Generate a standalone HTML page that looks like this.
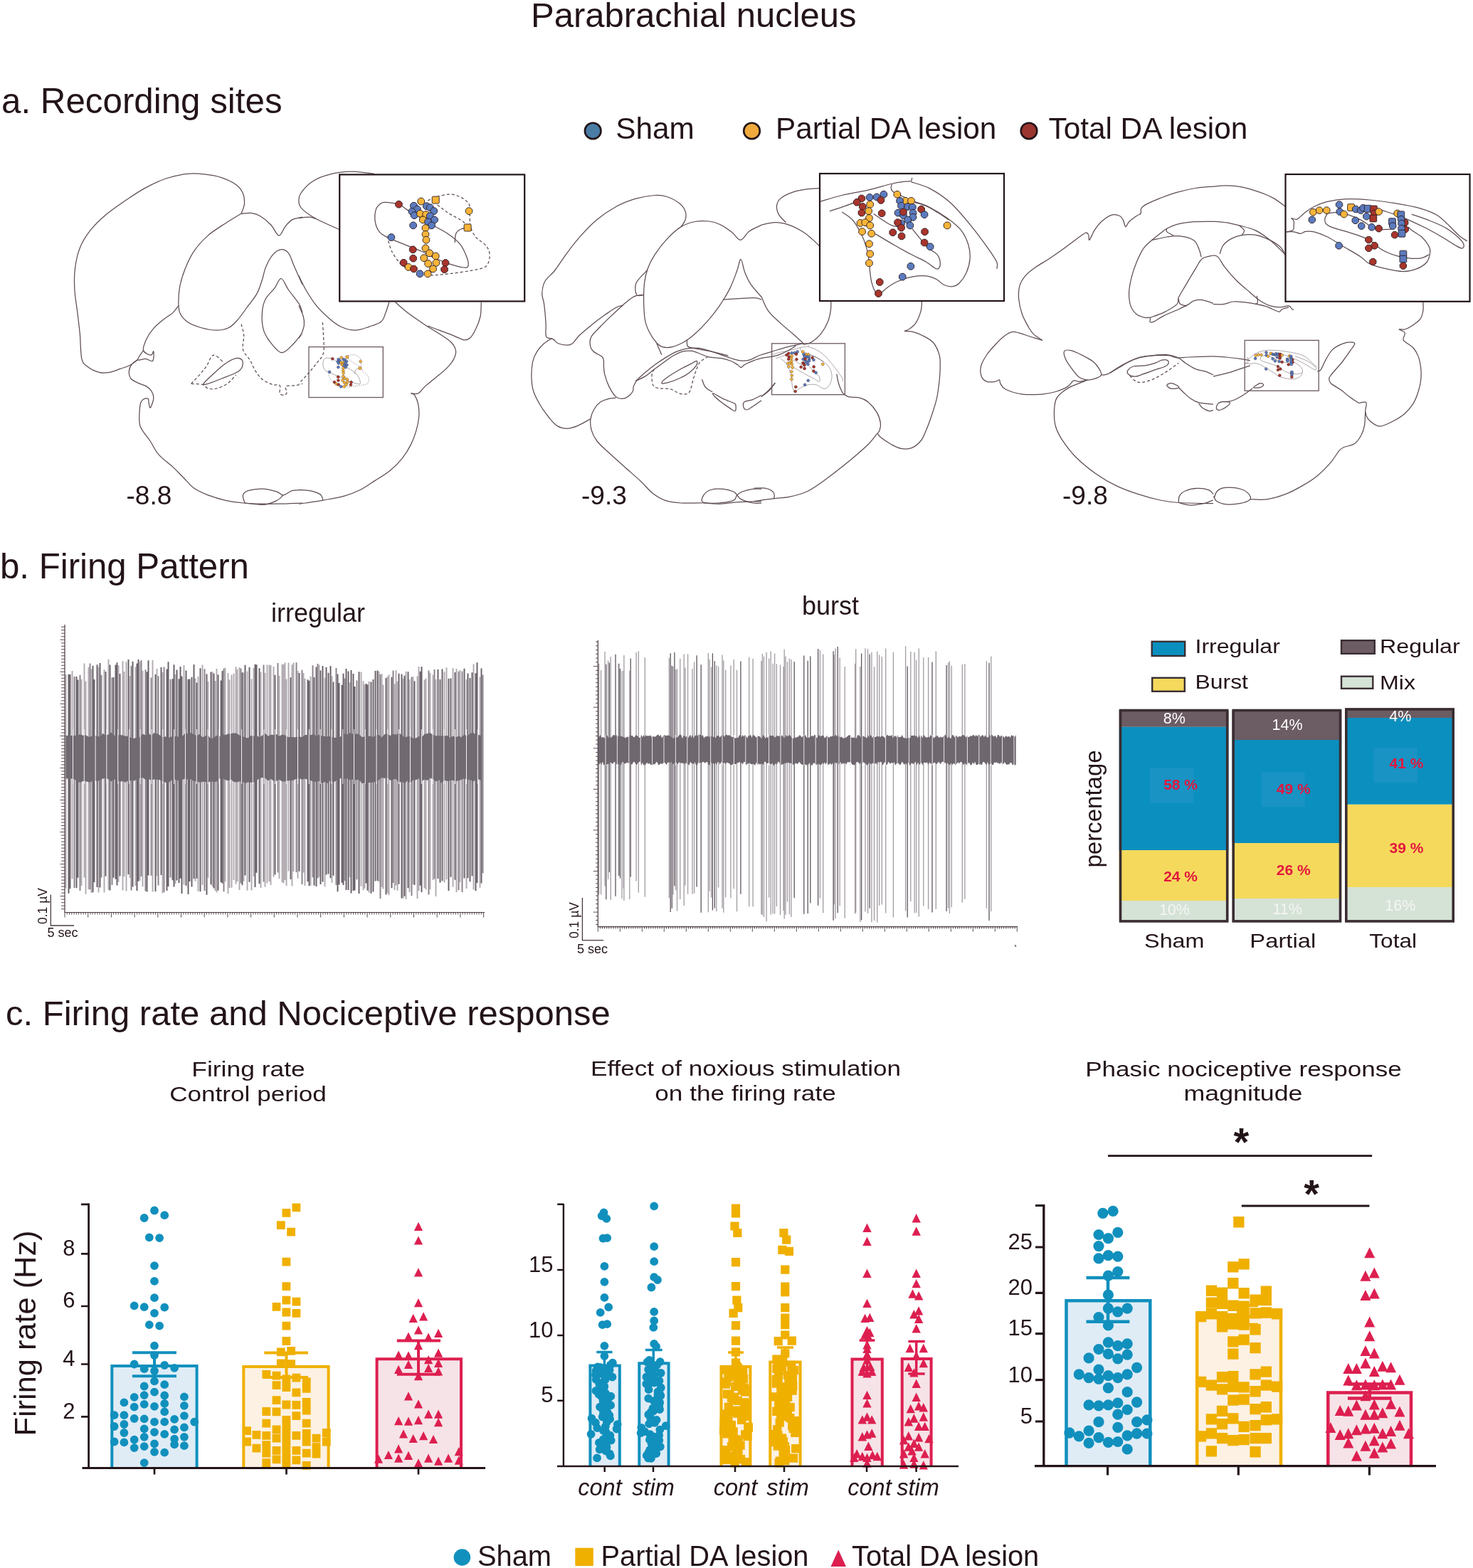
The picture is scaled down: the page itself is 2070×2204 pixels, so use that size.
<!DOCTYPE html>
<html><head><meta charset="utf-8"><title>Parabrachial nucleus</title>
<style>html,body{margin:0;padding:0;background:#fff;} svg{display:block;}</style></head>
<body><svg width="2070" height="2204" viewBox="0 0 2070 2204" font-family="'Liberation Sans', Arial, sans-serif">
<rect width="2070" height="2204" fill="#fff"/>
<text x="746.0" y="38.0" font-size="49" fill="#231418">Parabrachial nucleus</text>
<text x="2.0" y="159.0" font-size="49.3" fill="#231418">a. Recording sites</text>
<circle cx="833.2" cy="184" r="11.3" fill="#4a7ca6" stroke="#231418" stroke-width="2.6"/>
<text x="865.3" y="195.0" font-size="42.3" fill="#231418">Sham</text>
<circle cx="1056.5" cy="184" r="11.3" fill="#efaa3d" stroke="#231418" stroke-width="2.6"/>
<text x="1090.0" y="195.0" font-size="42.3" fill="#231418">Partial DA lesion</text>
<circle cx="1446" cy="184" r="11.3" fill="#9c3530" stroke="#231418" stroke-width="2.6"/>
<text x="1473.5" y="195.0" font-size="42.3" fill="#231418">Total DA lesion</text>
<text x="177.5" y="709.0" font-size="37" fill="#231418">-8.8</text>
<text x="817.0" y="709.0" font-size="37" fill="#231418">-9.3</text>
<text x="1493.0" y="709.0" font-size="37" fill="#231418">-9.8</text>
<path d="M193.6,505.6C191.7,506.9 186.6,511.4 182.5,513.5C178.4,515.6 173.7,516.8 168.9,518.4C164.2,520.1 159.1,522.5 154.1,523.3C149.2,524.2 144.7,524.8 139.4,523.3C134.0,521.9 126.2,518.0 122.1,514.7C118.0,511.4 116.4,511.2 114.7,503.6C113.1,496.0 113.3,480.2 112.3,469.1C111.2,458.0 109.8,447.4 108.6,437.1C107.3,426.8 105.4,417.4 104.9,407.5C104.3,397.7 104.1,387.8 105.4,377.9C106.6,368.1 108.6,357.4 112.3,348.4C115.9,339.3 120.9,331.5 127.0,323.7C133.2,315.9 141.0,308.5 149.2,301.5C157.4,294.6 167.3,288.0 176.3,281.8C185.4,275.7 194.0,269.7 203.4,264.6C212.9,259.4 223.2,254.4 233.0,251.0C242.9,247.7 253.6,245.4 262.6,244.4C271.6,243.3 279.0,244.0 287.2,244.9C295.4,245.8 304.5,247.3 311.9,249.8C319.3,252.3 326.7,255.9 331.6,259.6C336.5,263.3 339.5,267.4 341.5,272.0C343.4,276.5 343.8,282.0 343.4,286.8C343.0,291.5 339.7,298.1 339.0,300.3" fill="none" stroke="#5e4d52" stroke-width="1.25" stroke-linejoin="round"/>
<path d="M339.0,300.3C341.5,300.2 349.3,299.0 353.8,299.6C358.3,300.2 361.6,301.2 366.1,304.0C370.6,306.8 376.6,311.8 380.9,316.3C385.2,320.8 388.7,330.7 392.0,331.1C395.3,331.5 397.5,322.5 400.6,318.8C403.7,315.1 406.4,311.2 410.5,308.9C414.5,306.7 422.6,305.9 425.0,305.2" fill="none" stroke="#5e4d52" stroke-width="1.25" stroke-linejoin="round"/>
<path d="M339.0,300.3C335.3,302.6 324.6,308.7 316.8,313.9C309.0,319.0 299.6,324.5 292.2,331.1C284.8,337.7 277.8,345.5 272.4,353.3C267.1,361.1 263.4,369.7 260.1,377.9C256.8,386.2 254.3,394.8 252.7,402.6C251.2,410.4 250.8,418.6 250.8,424.8C250.8,430.9 250.8,435.0 252.7,439.6C254.7,444.1 257.7,448.4 262.6,451.9C267.5,455.4 275.3,458.4 282.3,460.5C289.3,462.6 297.9,464.2 304.5,464.2C311.1,464.2 316.8,463.0 321.7,460.5C326.7,458.0 329.5,454.5 334.1,449.4C338.6,444.3 344.3,435.9 348.8,429.7C353.4,423.5 357.9,418.6 361.2,412.4C364.5,406.3 366.5,398.9 368.6,392.7C370.6,386.6 371.0,381.2 373.5,375.5C376.0,369.7 379.9,362.3 383.3,358.2C386.8,354.1 390.7,351.2 394.4,350.8C398.1,350.4 402.4,352.1 405.5,355.8C408.6,359.5 409.7,365.6 412.9,373.0C416.2,380.4 423.0,395.6 425.0,400.1" fill="none" stroke="#5e4d52" stroke-width="1.25" stroke-linejoin="round"/>
<path d="M250.8,429.7C249.4,431.3 246.4,436.3 242.9,439.6C239.3,442.8 233.8,445.7 229.3,449.4C224.8,453.1 219.7,457.2 215.8,461.7C211.9,466.3 208.3,471.4 205.9,476.5C203.5,481.7 200.4,488.8 201.5,492.5C202.5,496.3 209.7,499.0 212.1,499.2C214.4,499.4 215.4,492.4 215.8,493.8C216.2,495.1 216.4,505.6 214.5,507.3C212.7,509.1 208.2,504.7 204.7,504.4C201.2,504.1 194.1,507.6 193.6,505.6C193.0,503.6 200.2,494.7 201.5,492.5" fill="none" stroke="#5e4d52" stroke-width="1.25" stroke-linejoin="round"/>
<path d="M193.6,505.6C192.1,506.7 187.0,509.5 185.0,512.3C182.9,515.0 181.5,518.8 181.3,522.1C181.1,525.4 181.7,529.3 183.7,532.0C185.8,534.6 189.9,536.3 193.6,538.1C197.3,540.0 202.6,541.0 205.9,543.1C209.2,545.1 211.7,547.6 213.3,550.5C214.9,553.3 216.1,556.5 215.8,560.3C215.4,564.1 212.4,572.1 211.3,573.1C210.2,574.2 209.6,568.5 209.1,566.5C208.6,564.4 209.3,561.8 208.4,560.8C207.4,559.8 205.2,559.6 203.4,560.3C201.7,561.1 199.2,562.0 198.0,565.2C196.8,568.5 196.2,574.3 196.0,580.0C195.9,585.8 194.8,593.2 197.3,599.7C199.7,606.3 206.5,612.9 210.8,619.5C215.1,626.0 217.8,633.0 223.2,639.2C228.5,645.3 237.1,651.1 242.9,656.4C248.6,661.8 252.7,666.3 257.7,671.2C262.6,676.1 266.7,681.9 272.4,686.0C278.2,690.1 284.8,693.0 292.2,695.9C299.6,698.7 308.6,701.4 316.8,703.3C325.0,705.1 333.2,706.1 341.5,707.0C349.7,707.8 357.9,708.0 366.1,708.2C374.3,708.4 380.9,708.4 390.7,708.2C400.6,708.0 419.3,707.2 425.0,707.0" fill="none" stroke="#5e4d52" stroke-width="1.25" stroke-linejoin="round"/>
<path d="M425.0,439.6C424.2,437.5 423.6,432.6 420.3,427.2C417.1,421.9 409.7,413.5 405.5,407.5C401.3,401.6 398.5,391.9 395.2,391.5C391.9,391.1 389.4,400.3 385.8,405.1C382.2,409.8 376.4,414.5 373.5,419.8C370.6,425.2 369.2,430.1 368.6,437.1C367.9,444.1 368.1,454.8 369.8,461.7C371.4,468.7 374.1,473.3 378.4,479.0C382.7,484.7 389.9,495.1 395.7,495.7C401.4,496.4 408.2,487.1 412.9,482.7C417.6,478.2 422.2,471.4 424.0,469.1" fill="none" stroke="#5e4d52" stroke-width="1.25" stroke-linejoin="round"/>
<path d="M339.0,455.6C339.6,458.2 342.3,465.6 342.7,471.6C343.1,477.5 340.0,485.6 341.5,491.3C342.9,497.1 348.4,501.2 351.3,506.1C354.2,511.0 355.8,516.4 358.7,520.9C361.6,525.4 364.5,529.9 368.6,533.2C372.7,536.5 379.2,539.2 383.3,540.6C387.5,542.0 391.6,539.8 393.2,541.8C394.8,543.9 392.2,550.7 393.2,552.9C394.2,555.2 397.7,555.6 399.4,555.4C401.0,555.2 402.7,553.7 403.1,551.7C403.5,549.6 399.8,544.7 401.8,543.1C403.9,541.4 411.5,542.4 415.4,541.8C419.2,541.2 423.4,539.8 425.0,539.4" fill="none" stroke="#5e4d52" stroke-width="1.25" stroke-dasharray="4 3" stroke-linejoin="round"/>
<path d="M286.0,539.4C287.2,537.1 294.4,530.5 299.6,525.8C304.7,521.1 311.5,514.7 316.8,511.0C322.1,507.3 327.7,504.5 331.6,503.6C335.5,502.8 338.8,504.0 340.2,506.1C341.7,508.1 341.5,513.1 340.2,516.0C339.0,518.8 337.5,520.7 332.8,523.3C328.1,526.0 318.7,529.3 311.9,532.0C305.1,534.6 296.5,538.1 292.2,539.4C287.8,540.6 284.8,541.6 286.0,539.4Z" fill="none" stroke="#5e4d52" stroke-width="1.25" stroke-linejoin="round"/>
<path d="M268.7,539.4C271.0,536.9 278.6,528.9 282.3,524.6C286.0,520.3 288.5,517.4 290.9,513.5C293.4,509.6 295.0,503.4 297.1,501.2C299.1,498.9 300.6,498.7 303.3,499.9C305.9,501.2 311.5,507.1 313.1,508.6" fill="none" stroke="#5e4d52" stroke-width="1.25" stroke-dasharray="4 3" stroke-linejoin="round"/>
<path d="M268.7,539.4C271.4,539.6 280.9,539.5 284.8,540.6C288.7,541.7 288.9,545.1 292.2,546.0C295.4,546.9 300.0,547.1 304.5,546.0C309.0,544.9 314.8,542.5 319.3,539.4C323.8,536.2 329.5,529.1 331.6,527.0" fill="none" stroke="#5e4d52" stroke-width="1.25" stroke-dasharray="4 3" stroke-linejoin="round"/>
<path d="M343.9,707.0C343.5,705.1 340.6,698.7 341.5,695.9C342.3,693.0 344.3,691.1 348.8,689.7C353.4,688.3 362.0,687.0 368.6,687.2C375.1,687.4 383.3,689.5 388.3,690.9C393.2,692.4 394.4,696.1 398.1,695.9C401.8,695.7 406.0,690.9 410.5,689.7C414.9,688.5 422.6,688.7 425.0,688.5" fill="none" stroke="#5e4d52" stroke-width="1.25" stroke-linejoin="round"/>
<path d="M398.1,695.9C396.7,697.1 394.0,701.0 389.5,703.3C385.0,705.5 378.6,708.8 371.0,709.4C363.4,710.0 348.4,707.4 343.9,707.0" fill="none" stroke="#5e4d52" stroke-width="1.25" stroke-linejoin="round"/>
<path d="M526.0,244.4C520.6,243.8 504.2,241.1 493.9,241.2C483.7,241.2 473.4,242.6 464.4,244.9C455.3,247.1 446.7,250.2 439.7,254.7C432.7,259.2 425.8,267.0 422.5,272.0C419.2,276.9 419.6,280.6 420.0,284.3C420.4,288.0 420.8,290.2 424.9,294.1C429.0,298.1 436.0,303.0 444.6,307.7C453.3,312.4 471.3,320.0 476.7,322.5" fill="none" stroke="#5e4d52" stroke-width="1.25" stroke-linejoin="round"/>
<path d="M420.0,306.5C422.5,306.3 430.7,305.0 434.8,305.2C438.9,305.4 443.0,307.3 444.6,307.7" fill="none" stroke="#5e4d52" stroke-width="1.25" stroke-linejoin="round"/>
<path d="M420.0,387.8C421.6,391.1 425.8,400.5 429.9,407.5C434.0,414.5 439.3,423.1 444.6,429.7C450.0,436.3 456.1,442.0 461.9,446.9C467.6,451.9 473.0,456.4 479.1,459.3C485.3,462.1 492.3,464.2 498.9,464.2C505.4,464.2 512.4,461.3 518.6,459.3C524.7,457.2 531.9,455.2 535.8,451.9C539.7,448.6 540.1,444.1 542.0,439.6C543.8,435.0 546.1,427.2 546.9,424.8" fill="none" stroke="#5e4d52" stroke-width="1.25" stroke-linejoin="round"/>
<path d="M420.0,429.7C421.0,432.2 424.9,440.0 426.2,444.5C427.4,449.0 427.8,452.7 427.4,456.8C427.0,460.9 424.9,466.0 423.7,469.1C422.5,472.2 420.6,474.3 420.0,475.3" fill="none" stroke="#5e4d52" stroke-width="1.25" stroke-linejoin="round"/>
<path d="M453.3,453.1C453.5,456.2 454.3,464.4 454.5,471.6C454.7,478.8 456.1,489.7 454.5,496.2C452.9,502.8 448.3,506.1 444.6,511.0C440.9,516.0 436.4,521.1 432.3,525.8C428.2,530.5 422.1,537.1 420.0,539.4" fill="none" stroke="#5e4d52" stroke-width="1.25" stroke-dasharray="4 3" stroke-linejoin="round"/>
<path d="M555.5,424.8C558.4,427.2 565.8,434.2 572.8,439.6C579.8,444.9 590.1,451.9 597.4,456.8C604.8,461.7 611.0,465.0 617.2,469.1C623.3,473.2 630.5,477.3 634.4,481.5C638.3,485.6 640.2,489.7 640.6,493.8C641.0,497.9 639.1,502.0 636.9,506.1C634.6,510.2 631.1,514.3 627.0,518.4C622.9,522.5 617.2,526.6 612.2,530.7C607.3,534.8 601.6,539.4 597.4,543.1C593.3,546.8 590.9,551.3 587.6,552.9C584.3,554.6 578.6,552.5 577.7,552.9C576.9,553.3 581.0,552.9 582.7,555.4C584.3,557.9 586.6,562.8 587.6,567.7C588.6,572.6 589.2,578.8 588.8,585.0C588.4,591.1 587.0,598.1 585.1,604.7C583.3,611.2 581.0,617.8 577.7,624.4C574.4,631.0 570.3,637.9 565.4,644.1C560.5,650.3 554.7,656.0 548.2,661.4C541.6,666.7 533.0,671.6 526.0,676.1C519.0,680.7 513.2,685.0 506.3,688.5C499.3,692.0 492.9,694.6 484.1,697.1C475.2,699.6 462.3,701.6 453.3,703.3C444.2,704.9 435.4,706.1 429.9,707.0C424.3,707.8 421.6,708.0 420.0,708.2" fill="none" stroke="#5e4d52" stroke-width="1.25" stroke-linejoin="round"/>
<path d="M601.1,458.0C603.8,459.1 611.2,461.9 617.2,464.2C623.1,466.5 631.1,469.3 636.9,471.6C642.6,473.9 647.8,477.1 651.7,477.8C655.6,478.4 657.4,478.0 660.3,475.3C663.2,472.6 666.5,466.9 668.9,461.7C671.4,456.6 673.8,450.6 675.1,444.5C676.3,438.3 676.1,428.1 676.3,424.8" fill="none" stroke="#5e4d52" stroke-width="1.25" stroke-linejoin="round"/>
<path d="M420.0,688.5C422.5,688.7 429.9,688.7 434.8,689.7C439.7,690.7 446.5,692.8 449.6,694.6C452.7,696.5 452.7,699.4 453.3,700.8C453.9,702.2 453.3,702.8 453.3,703.3" fill="none" stroke="#5e4d52" stroke-width="1.25" stroke-linejoin="round"/>
<rect x="477.2" y="245.4" width="260" height="178.1" fill="#fff" stroke="#231418" stroke-width="2.2"/>
<g id="ins1"><path d="M543.2,284.3C546.1,284.8 555.5,285.6 560.5,287.5C565.4,289.3 567.5,292.1 572.8,295.4C578.1,298.6 585.9,303.1 592.5,307.0C599.1,310.9 606.1,315.2 612.2,318.8C618.4,322.4 623.7,324.5 629.5,328.7C635.2,332.8 642.2,337.7 646.7,343.4C651.3,349.2 654.7,358.0 656.6,363.2C658.4,368.3 658.6,372.1 657.8,374.2C657.0,376.4 655.6,376.4 651.7,376.0C647.8,375.6 641.0,373.9 634.4,371.8C627.8,369.6 619.2,366.2 612.2,363.2C605.2,360.1 599.9,356.6 592.5,353.3C585.1,350.0 575.9,346.7 567.9,343.4C559.9,340.2 550.2,336.5 544.5,333.6C538.7,330.7 536.2,329.9 533.4,326.2C530.5,322.5 528.0,316.7 527.2,311.4C526.4,306.1 527.0,298.5 528.4,294.1C529.9,289.8 533.4,287.2 535.8,285.5C538.3,283.9 542.0,284.5 543.2,284.3" fill="none" stroke="#5e4d52" stroke-width="1.25" stroke-linejoin="round"/><path d="M639.3,341.0C639.5,338.9 639.3,331.7 640.6,328.7C641.8,325.6 644.1,323.9 646.7,322.5C649.4,321.1 655.0,320.4 656.6,320.0" fill="none" stroke="#5e4d52" stroke-width="1.25" stroke-linejoin="round"/><path d="M601.1,281.8C603.8,280.8 611.6,277.1 617.2,275.7C622.7,274.2 629.1,272.8 634.4,273.2C639.8,273.6 645.1,275.9 649.2,278.1C653.3,280.4 657.2,283.7 659.1,286.8C660.9,289.8 660.1,292.9 660.3,296.6C660.5,300.3 660.1,305.0 660.3,308.9C660.5,312.8 660.1,315.9 661.5,320.0C663.0,324.1 665.6,329.7 668.9,333.6C672.2,337.5 678.2,340.2 681.2,343.4C684.3,346.7 686.4,349.6 687.4,353.3C688.4,357.0 688.4,361.9 687.4,365.6C686.4,369.3 685.6,373.0 681.2,375.5C676.9,377.9 668.9,379.0 661.5,380.4C654.1,381.8 645.1,383.1 636.9,384.1C628.7,385.1 618.0,386.2 612.2,386.6C606.5,387.0 604.0,386.6 602.4,386.6" fill="none" stroke="#5e4d52" stroke-width="1.25" stroke-dasharray="4 3" stroke-linejoin="round"/><path d="M614.7,288.0C617.2,289.8 624.1,295.6 629.5,299.1C634.8,302.6 642.2,306.1 646.7,308.9C651.3,311.8 655.0,315.1 656.6,316.3" fill="none" stroke="#5e4d52" stroke-width="1.25" stroke-dasharray="4 3" stroke-linejoin="round"/><path d="M545.7,338.5C546.5,341.0 548.2,348.4 550.6,353.3C553.1,358.2 557.2,364.2 560.5,368.1C563.8,372.0 568.7,375.3 570.3,376.7" fill="none" stroke="#5e4d52" stroke-width="1.25" stroke-dasharray="4 3" stroke-linejoin="round"/><polygon points="565.2,289.2 562.4,292.0 558.5,292.0 555.7,289.2 555.7,285.3 558.5,282.5 562.4,282.5 565.2,285.3" fill="#a8352c" stroke="#2a1c20" stroke-width="0.9"/><polygon points="596.5,285.0 593.7,287.8 589.8,287.8 587.0,285.0 587.0,281.1 589.8,278.3 593.7,278.3 596.5,281.1" fill="#f7b43a" stroke="#2a1c20" stroke-width="0.9"/><rect x="607.2" y="276.1" width="10.0" height="10.0" rx="1.5" fill="#f7b43a" stroke="#2a1c20" stroke-width="0.9"/><polygon points="586.2,291.2 583.4,294.0 579.5,294.0 576.7,291.2 576.7,287.2 579.5,284.5 583.4,284.5 586.2,287.2" fill="#5b7bbf" stroke="#2a1c20" stroke-width="0.9"/><polygon points="591.1,296.1 588.3,298.9 584.4,298.9 581.6,296.1 581.6,292.2 584.4,289.4 588.3,289.4 591.1,292.2" fill="#5b7bbf" stroke="#2a1c20" stroke-width="0.9"/><polygon points="583.7,299.3 580.9,302.1 577.0,302.1 574.2,299.3 574.2,295.4 577.0,292.6 580.9,292.6 583.7,295.4" fill="#5b7bbf" stroke="#2a1c20" stroke-width="0.9"/><polygon points="586.9,304.7 584.1,307.5 580.2,307.5 577.4,304.7 577.4,300.8 580.2,298.0 584.1,298.0 586.9,300.8" fill="#5b7bbf" stroke="#2a1c20" stroke-width="0.9"/><polygon points="604.2,291.7 601.4,294.5 597.4,294.5 594.7,291.7 594.7,287.7 597.4,285.0 601.4,285.0 604.2,287.7" fill="#5b7bbf" stroke="#2a1c20" stroke-width="0.9"/><polygon points="609.1,293.7 606.3,296.4 602.4,296.4 599.6,293.7 599.6,289.7 602.4,286.9 606.3,286.9 609.1,289.7" fill="#5b7bbf" stroke="#2a1c20" stroke-width="0.9"/><polygon points="614.5,298.6 611.7,301.4 607.8,301.4 605.0,298.6 605.0,294.6 607.8,291.9 611.7,291.9 614.5,294.6" fill="#5b7bbf" stroke="#2a1c20" stroke-width="0.9"/><polygon points="595.3,302.3 592.5,305.1 588.6,305.1 585.8,302.3 585.8,298.3 588.6,295.6 592.5,295.6 595.3,298.3" fill="#f7b43a" stroke="#2a1c20" stroke-width="0.9"/><polygon points="603.4,303.5 600.6,306.3 596.7,306.3 593.9,303.5 593.9,299.6 596.7,296.8 600.6,296.8 603.4,299.6" fill="#f7b43a" stroke="#2a1c20" stroke-width="0.9"/><polygon points="609.1,305.5 606.3,308.3 602.4,308.3 599.6,305.5 599.6,301.5 602.4,298.8 606.3,298.8 609.1,301.5" fill="#5b7bbf" stroke="#2a1c20" stroke-width="0.9"/><polygon points="615.3,310.9 612.5,313.7 608.5,313.7 605.7,310.9 605.7,307.0 608.5,304.2 612.5,304.2 615.3,307.0" fill="#5b7bbf" stroke="#2a1c20" stroke-width="0.9"/><polygon points="599.0,310.9 596.2,313.7 592.3,313.7 589.5,310.9 589.5,307.0 592.3,304.2 596.2,304.2 599.0,307.0" fill="#f7b43a" stroke="#2a1c20" stroke-width="0.9"/><polygon points="606.4,313.9 603.6,316.7 599.7,316.7 596.9,313.9 596.9,309.9 599.7,307.1 603.6,307.1 606.4,309.9" fill="#5b7bbf" stroke="#2a1c20" stroke-width="0.9"/><polygon points="611.3,318.8 608.5,321.6 604.6,321.6 601.8,318.8 601.8,314.9 604.6,312.1 608.5,312.1 611.3,314.9" fill="#5b7bbf" stroke="#2a1c20" stroke-width="0.9"/><polygon points="585.4,318.8 582.7,321.6 578.7,321.6 575.9,318.8 575.9,314.9 578.7,312.1 582.7,312.1 585.4,314.9" fill="#5b7bbf" stroke="#2a1c20" stroke-width="0.9"/><polygon points="602.7,322.5 599.9,325.3 596.0,325.3 593.2,322.5 593.2,318.5 596.0,315.8 599.9,315.8 602.7,318.5" fill="#f7b43a" stroke="#2a1c20" stroke-width="0.9"/><polygon points="663.8,298.6 661.0,301.4 657.1,301.4 654.3,298.6 654.3,294.6 657.1,291.9 661.0,291.9 663.8,294.6" fill="#f7b43a" stroke="#2a1c20" stroke-width="0.9"/><rect x="652.1" y="315.0" width="10.0" height="10.0" rx="1.5" fill="#f7b43a" stroke="#2a1c20" stroke-width="0.9"/><polygon points="554.6,335.6 551.9,338.3 547.9,338.3 545.1,335.6 545.1,331.6 547.9,328.8 551.9,328.8 554.6,331.6" fill="#5b7bbf" stroke="#2a1c20" stroke-width="0.9"/><polygon points="602.7,331.4 599.9,334.1 596.0,334.1 593.2,331.4 593.2,327.4 596.0,324.6 599.9,324.6 602.7,327.4" fill="#f7b43a" stroke="#2a1c20" stroke-width="0.9"/><polygon points="603.7,339.2 600.9,342.0 597.0,342.0 594.2,339.2 594.2,335.3 597.0,332.5 600.9,332.5 603.7,335.3" fill="#f7b43a" stroke="#2a1c20" stroke-width="0.9"/><polygon points="602.7,350.8 599.9,353.6 596.0,353.6 593.2,350.8 593.2,346.9 596.0,344.1 599.9,344.1 602.7,346.9" fill="#f7b43a" stroke="#2a1c20" stroke-width="0.9"/><polygon points="585.0,352.8 582.2,355.6 578.2,355.6 575.4,352.8 575.4,348.9 578.2,346.1 582.2,346.1 585.0,348.9" fill="#a8352c" stroke="#2a1c20" stroke-width="0.9"/><polygon points="608.4,357.7 605.6,360.5 601.6,360.5 598.8,357.7 598.8,353.8 601.6,351.0 605.6,351.0 608.4,353.8" fill="#f7b43a" stroke="#2a1c20" stroke-width="0.9"/><polygon points="617.0,361.9 614.2,364.7 610.3,364.7 607.5,361.9 607.5,358.0 610.3,355.2 614.2,355.2 617.0,358.0" fill="#f7b43a" stroke="#2a1c20" stroke-width="0.9"/><polygon points="600.5,364.6 597.7,367.4 593.7,367.4 591.0,364.6 591.0,360.7 593.7,357.9 597.7,357.9 600.5,360.7" fill="#f7b43a" stroke="#2a1c20" stroke-width="0.9"/><polygon points="585.4,365.1 582.7,367.9 578.7,367.9 575.9,365.1 575.9,361.2 578.7,358.4 582.7,358.4 585.4,361.2" fill="#a8352c" stroke="#2a1c20" stroke-width="0.9"/><polygon points="606.4,372.5 603.6,375.3 599.7,375.3 596.9,372.5 596.9,368.6 599.7,365.8 603.6,365.8 606.4,368.6" fill="#f7b43a" stroke="#2a1c20" stroke-width="0.9"/><polygon points="617.7,371.3 614.9,374.1 611.0,374.1 608.2,371.3 608.2,367.3 611.0,364.6 614.9,364.6 617.7,367.3" fill="#f7b43a" stroke="#2a1c20" stroke-width="0.9"/><polygon points="571.9,371.3 569.1,374.1 565.2,374.1 562.4,371.3 562.4,367.3 565.2,364.6 569.1,364.6 571.9,367.3" fill="#a8352c" stroke="#2a1c20" stroke-width="0.9"/><polygon points="578.8,377.4 576.0,380.2 572.1,380.2 569.3,377.4 569.3,373.5 572.1,370.7 576.0,370.7 578.8,373.5" fill="#f7b43a" stroke="#2a1c20" stroke-width="0.9"/><polygon points="586.2,379.9 583.4,382.7 579.5,382.7 576.7,379.9 576.7,376.0 579.5,373.2 583.4,373.2 586.2,376.0" fill="#a8352c" stroke="#2a1c20" stroke-width="0.9"/><polygon points="613.3,379.9 610.5,382.7 606.6,382.7 603.8,379.9 603.8,376.0 606.6,373.2 610.5,373.2 613.3,376.0" fill="#f7b43a" stroke="#2a1c20" stroke-width="0.9"/><polygon points="630.8,371.5 628.0,374.3 624.1,374.3 621.3,371.5 621.3,367.6 624.1,364.8 628.0,364.8 630.8,367.6" fill="#a8352c" stroke="#2a1c20" stroke-width="0.9"/><polygon points="629.3,380.7 626.5,383.4 622.6,383.4 619.8,380.7 619.8,376.7 622.6,373.9 626.5,373.9 629.3,376.7" fill="#a8352c" stroke="#2a1c20" stroke-width="0.9"/><polygon points="594.8,386.8 592.0,389.6 588.1,389.6 585.3,386.8 585.3,382.9 588.1,380.1 592.0,380.1 594.8,382.9" fill="#5b7bbf" stroke="#2a1c20" stroke-width="0.9"/><polygon points="605.9,386.8 603.1,389.6 599.2,389.6 596.4,386.8 596.4,382.9 599.2,380.1 603.1,380.1 605.9,382.9" fill="#f7b43a" stroke="#2a1c20" stroke-width="0.9"/></g>
<rect x="434" y="487.6" width="104.3" height="71" fill="none" stroke="#6b5a5f" stroke-width="1.3"/>
<use href="#ins1" transform="translate(243.1,389.4) scale(0.4)"/>
<path d="M875.5,429.3C873.9,429.8 869.8,430.1 865.7,432.2C861.6,434.4 856.7,438.0 850.9,442.1C845.2,446.2 837.3,451.9 831.2,456.9C825.0,461.8 818.4,467.4 813.9,471.7C809.5,476.0 807.4,480.5 804.6,482.8C801.7,485.0 800.1,485.2 796.7,485.2C793.3,485.2 787.6,484.2 784.4,482.8C781.1,481.3 779.8,478.2 777.0,476.6C774.2,475.0 769.2,476.6 767.6,472.9C766.0,469.2 767.6,462.0 767.1,454.4C766.6,446.8 765.5,434.3 764.6,427.3C763.7,420.3 761.5,417.9 761.7,412.5C761.9,407.2 762.9,400.6 765.9,395.3C768.8,389.9 774.3,387.0 779.4,380.5C784.6,373.9 790.5,364.0 796.7,355.8C802.8,347.6 809.4,339.0 816.4,331.2C823.4,323.4 830.4,315.8 838.6,309.0C846.8,302.2 856.7,295.5 865.7,290.5C874.7,285.6 883.8,282.1 892.8,279.4C901.8,276.8 912.5,275.0 919.9,274.5C927.3,274.0 931.4,274.6 937.2,276.5C942.9,278.3 950.1,282.2 954.4,285.6C958.7,289.0 961.6,292.8 963.0,296.7C964.5,300.6 964.1,305.3 963.0,309.0C962.0,312.7 957.9,317.2 956.9,318.9" fill="none" stroke="#5e4d52" stroke-width="1.25" stroke-linejoin="round"/>
<path d="M1070.0,316.4C1067.2,317.8 1057.9,321.5 1053.0,325.0C1048.1,328.5 1044.8,337.1 1040.7,337.3C1036.6,337.6 1033.3,330.0 1028.3,326.3C1023.4,322.6 1016.4,317.7 1011.1,315.2C1005.8,312.6 1002.1,311.6 996.3,311.0C990.6,310.4 983.2,310.2 976.6,311.5C970.0,312.8 963.4,314.8 956.9,318.9C950.3,323.0 943.3,329.5 937.2,336.1C931.0,342.7 924.4,351.3 919.9,358.3C915.4,365.3 912.4,371.4 910.1,378.0C907.7,384.6 906.5,390.3 905.6,397.7C904.7,405.1 904.5,413.7 904.6,422.4C904.8,431.0 905.0,442.1 906.4,449.5C907.7,456.9 909.8,461.4 912.5,466.7C915.2,472.1 919.3,478.0 922.4,481.5C925.5,485.0 927.3,486.7 931.0,487.7C934.7,488.7 939.4,488.9 944.6,487.7C949.7,486.5 956.5,483.4 961.8,480.3C967.1,477.2 971.3,473.9 976.6,469.2C981.9,464.5 988.1,458.5 993.8,451.9C999.6,445.4 1005.8,437.6 1011.1,429.8C1016.4,422.0 1021.8,413.3 1025.9,405.1C1030.0,396.9 1033.2,387.3 1035.7,380.5C1038.3,373.7 1039.3,364.0 1041.2,364.5C1043.0,364.9 1044.4,377.0 1046.8,382.9C1049.2,388.9 1051.6,394.4 1055.5,400.2C1059.3,405.9 1067.6,414.6 1070.0,417.4" fill="none" stroke="#5e4d52" stroke-width="1.25" stroke-linejoin="round"/>
<path d="M910.1,379.2C907.4,382.3 896.6,391.9 894.0,397.7C891.5,403.6 893.0,411.7 894.8,414.5C896.5,417.3 903.0,414.5 904.6,414.5" fill="none" stroke="#5e4d52" stroke-width="1.25" stroke-linejoin="round"/>
<path d="M904.6,414.5C902.7,414.8 896.4,414.9 892.8,416.2C889.2,417.5 886.0,420.1 882.9,422.4C879.9,424.6 878.4,426.1 874.3,429.8C870.2,433.5 863.4,439.6 858.3,444.6C853.2,449.5 848.0,454.6 843.5,459.3C839.0,464.1 833.6,468.8 831.2,472.9C828.8,477.0 828.8,480.5 829.2,484.0C829.6,487.5 830.9,491.0 833.7,493.8C836.4,496.7 843.5,499.0 846.0,501.2C848.4,503.5 848.0,505.3 848.4,507.4C848.8,509.5 848.2,510.5 848.4,513.6C848.6,516.6 848.4,521.0 849.7,525.9C850.9,530.8 853.2,537.8 855.8,543.1C858.5,548.5 862.6,555.0 865.7,557.9C868.8,560.8 871.6,560.4 874.3,560.4C877.0,560.4 879.2,559.6 881.7,557.9C884.2,556.3 887.7,553.0 889.1,550.5C890.5,548.1 889.5,545.6 890.3,543.1C891.2,540.7 893.4,537.0 894.0,535.7" fill="none" stroke="#5e4d52" stroke-width="1.25" stroke-linejoin="round"/>
<path d="M922.9,482.8C924.0,485.4 928.6,496.1 929.8,498.8" fill="none" stroke="#5e4d52" stroke-width="1.25" stroke-linejoin="round"/>
<path d="M775.7,475.4C773.9,476.6 768.1,479.7 764.6,482.8C761.2,485.8 757.5,489.5 754.8,493.8C752.1,498.2 749.9,502.5 748.6,508.6C747.3,514.8 746.7,523.8 746.9,530.8C747.1,537.8 747.7,544.0 749.9,550.5C752.0,557.1 756.0,564.1 759.7,570.2C763.4,576.4 768.1,582.8 772.0,587.5C775.9,592.2 779.0,596.1 783.1,598.6C787.2,601.1 792.0,602.3 796.7,602.3C801.4,602.3 805.9,600.8 811.5,598.6C817.0,596.3 826.9,590.4 830.0,588.7" fill="none" stroke="#5e4d52" stroke-width="1.25" stroke-linejoin="round"/>
<path d="M865.7,559.2C864.0,559.4 859.5,559.4 855.8,560.4C852.1,561.4 847.0,562.9 843.5,565.3C840.0,567.8 837.1,571.3 834.9,575.2C832.6,579.1 830.6,583.8 830.0,588.7C829.3,593.7 829.7,599.6 831.2,604.7C832.6,609.9 834.9,614.6 838.6,619.5C842.3,624.5 846.8,628.2 853.4,634.3C859.9,640.5 870.2,649.5 878.0,656.5C885.8,663.5 893.6,670.1 900.2,676.2C906.8,682.4 911.7,689.0 917.4,693.5C923.2,698.0 928.1,701.1 934.7,703.3C941.3,705.6 948.3,706.4 956.9,707.0C965.5,707.6 977.4,706.8 986.5,707.0C995.5,707.2 1002.9,708.5 1011.1,708.3C1019.3,708.1 1025.9,706.4 1035.7,705.8C1045.6,705.2 1064.3,704.8 1070.0,704.6" fill="none" stroke="#5e4d52" stroke-width="1.25" stroke-linejoin="round"/>
<path d="M1035.7,695.9C1034.9,695.1 1034.1,692.4 1030.8,691.0C1027.5,689.6 1021.4,687.7 1016.0,687.3C1010.7,686.9 1003.3,687.1 998.8,688.5C994.3,690.0 990.8,693.1 988.9,695.9C987.1,698.8 984.4,703.9 987.7,705.8C991.0,707.6 1001.4,707.4 1008.6,707.0C1015.8,706.6 1026.3,705.2 1030.8,703.3C1035.3,701.5 1033.7,698.0 1035.7,695.9C1037.8,693.9 1039.4,692.4 1043.1,691.0C1046.8,689.6 1053.4,687.9 1057.9,687.3C1062.4,686.7 1068.0,687.3 1070.0,687.3" fill="none" stroke="#5e4d52" stroke-width="1.25" stroke-linejoin="round"/>
<path d="M1035.7,695.9C1036.8,697.0 1038.2,700.2 1041.9,702.1C1045.6,703.9 1053.2,706.2 1057.9,707.0C1062.6,707.8 1068.0,707.0 1070.0,707.0" fill="none" stroke="#5e4d52" stroke-width="1.25" stroke-linejoin="round"/>
<path d="M965.5,477.8C965.6,479.3 964.8,484.5 966.2,486.5C967.7,488.4 968.7,488.2 974.1,489.4C979.6,490.6 990.6,492.1 998.8,493.8C1007.0,495.6 1019.3,499.0 1023.4,500.0" fill="none" stroke="#5e4d52" stroke-width="1.25" stroke-linejoin="round"/>
<path d="M1016.0,421.1C1019.3,420.9 1028.3,420.3 1035.7,419.9C1043.1,419.5 1054.7,418.5 1060.4,418.7C1066.1,418.9 1068.4,420.7 1070.0,421.1" fill="none" stroke="#5e4d52" stroke-width="1.25" stroke-linejoin="round"/>
<path d="M929.8,538.2C929.8,537.0 932.6,534.1 937.2,530.8C941.7,527.5 951.1,521.8 956.9,518.5C962.6,515.2 968.0,512.9 971.7,511.1C975.4,509.2 977.9,507.0 979.1,507.4C980.2,507.8 980.2,510.9 978.6,513.6C976.9,516.2 973.2,520.3 969.2,523.4C965.2,526.5 959.8,529.6 954.4,532.0C949.1,534.5 941.3,537.2 937.2,538.2C933.1,539.2 929.8,539.4 929.8,538.2Z" fill="none" stroke="#5e4d52" stroke-width="1.25" stroke-linejoin="round"/>
<path d="M995.1,501.2C993.2,502.5 986.7,505.8 984.0,508.6C981.3,511.5 980.7,514.4 979.1,518.5C977.4,522.6 975.8,527.9 974.1,533.3C972.5,538.6 971.3,547.0 969.2,550.5C967.1,554.0 964.7,554.0 961.8,554.2C958.9,554.4 955.2,553.0 951.9,551.8C948.7,550.5 946.6,547.9 942.1,546.8C937.6,545.8 928.9,546.6 924.8,545.6C920.7,544.6 918.9,544.0 917.4,540.7C916.0,537.4 915.8,529.6 916.2,525.9C916.6,522.2 919.3,519.7 919.9,518.5" fill="none" stroke="#5e4d52" stroke-width="1.25" stroke-dasharray="4 3" stroke-linejoin="round"/>
<path d="M986.5,533.3C987.3,535.1 988.9,541.4 991.4,544.4C993.8,547.3 999.6,549.9 1001.2,551.0" fill="none" stroke="#5e4d52" stroke-width="1.25" stroke-linejoin="round"/>
<path d="M1002.5,553.0C1004.5,553.6 1011.3,558.1 1016.0,560.4C1020.7,562.6 1027.9,565.1 1030.8,566.5C1033.8,568.0 1033.4,567.2 1033.8,569.0C1034.2,570.9 1034.6,576.8 1033.3,577.6C1032.0,578.5 1029.2,576.0 1025.9,573.9C1022.6,571.9 1017.3,568.2 1013.6,565.3C1009.9,562.4 1005.6,558.7 1003.7,556.7C1001.9,554.6 1000.4,552.4 1002.5,553.0Z" fill="none" stroke="#5e4d52" stroke-width="1.25" stroke-linejoin="round"/>
<path d="M1070.0,555.5C1068.0,556.5 1062.0,560.0 1057.9,561.6C1053.9,563.3 1047.7,563.3 1045.6,565.3C1043.5,567.4 1044.6,572.3 1045.6,573.9C1046.6,575.6 1047.7,577.0 1051.8,575.2C1055.8,573.3 1067.0,564.9 1070.0,562.9" fill="none" stroke="#5e4d52" stroke-width="1.25" stroke-linejoin="round"/>
<path d="M1069.9,316.2C1073.1,315.6 1083.0,312.7 1089.6,312.7C1096.1,312.7 1102.7,314.1 1109.3,316.4C1115.9,318.7 1123.7,323.0 1129.0,326.3C1134.3,329.5 1137.5,332.8 1141.3,336.1C1145.1,339.4 1150.0,344.3 1151.7,346.0" fill="none" stroke="#5e4d52" stroke-width="1.25" stroke-linejoin="round"/>
<path d="M1151.7,264.6C1148.7,264.9 1140.2,265.0 1133.9,265.9C1127.7,266.8 1120.4,267.9 1114.2,270.1C1108.1,272.2 1100.7,275.7 1097.0,278.9C1093.2,282.1 1092.0,285.5 1091.5,289.3C1091.1,293.1 1092.4,297.7 1094.5,301.6C1096.6,305.5 1102.7,310.9 1104.4,312.7" fill="none" stroke="#5e4d52" stroke-width="1.25" stroke-linejoin="round"/>
<path d="M1069.9,416.7C1071.5,420.1 1075.2,430.9 1079.7,437.2C1084.2,443.4 1091.2,449.1 1097.0,454.4C1102.7,459.8 1109.3,464.9 1114.2,469.2C1119.1,473.5 1123.9,477.8 1126.5,480.3C1129.2,482.8 1127.8,484.0 1130.2,484.0C1132.7,484.0 1137.4,482.8 1141.3,480.3C1145.2,477.8 1150.0,473.9 1153.7,469.2C1157.3,464.5 1161.3,457.3 1163.5,451.9C1165.8,446.6 1166.5,441.9 1167.2,437.2C1167.9,432.4 1167.8,425.9 1167.9,423.6" fill="none" stroke="#5e4d52" stroke-width="1.25" stroke-linejoin="round"/>
<path d="M1069.9,557.9C1071.5,556.5 1076.4,552.6 1079.7,549.3C1083.0,546.0 1087.9,540.1 1089.6,538.2" fill="none" stroke="#5e4d52" stroke-width="1.25" stroke-linejoin="round"/>
<path d="M1175.8,525.9C1176.2,527.9 1177.1,534.1 1178.3,538.2C1179.5,542.3 1181.8,547.8 1183.2,550.5C1184.7,553.3 1185.3,553.5 1186.9,554.7C1188.6,556.0 1189.6,557.2 1193.1,557.9C1196.6,558.7 1203.4,557.9 1207.9,559.2C1212.4,560.4 1216.1,561.8 1220.2,565.3C1224.3,568.8 1229.6,575.2 1232.5,580.1C1235.4,585.0 1236.8,590.8 1237.4,594.9C1238.1,599.0 1237.0,602.3 1236.2,604.7C1235.4,607.2 1235.2,606.4 1232.5,609.7C1229.8,613.0 1225.9,618.7 1220.2,624.5C1214.4,630.2 1205.8,637.6 1198.0,644.2C1190.2,650.8 1180.8,658.1 1173.4,663.9C1166.0,669.6 1160.2,674.2 1153.7,678.7C1147.1,683.2 1141.3,687.7 1133.9,691.0C1126.5,694.3 1117.1,696.8 1109.3,698.4C1101.5,700.0 1095.3,699.8 1087.1,700.9C1078.9,701.9 1064.5,703.9 1060.0,704.6" fill="none" stroke="#5e4d52" stroke-width="1.25" stroke-linejoin="round"/>
<path d="M1295.4,423.6C1295.2,425.9 1295.6,432.0 1294.1,437.2C1292.7,442.3 1289.6,450.1 1286.7,454.4C1283.9,458.7 1279.4,461.2 1276.9,463.0C1274.3,464.9 1270.6,465.0 1271.5,465.5C1272.3,466.0 1277.6,465.2 1281.8,466.2C1286.0,467.3 1291.7,469.1 1296.6,471.7C1301.5,474.2 1307.5,477.0 1311.4,481.5C1315.3,486.0 1318.4,493.0 1320.0,498.8C1321.6,504.5 1321.2,509.9 1321.2,516.0C1321.2,522.2 1320.8,528.3 1320.0,535.7C1319.2,543.1 1318.2,552.2 1316.3,560.4C1314.5,568.6 1311.4,577.6 1308.9,585.0C1306.5,592.4 1304.0,599.0 1301.5,604.7C1299.1,610.5 1297.4,615.4 1294.1,619.5C1290.8,623.6 1286.3,627.5 1281.8,629.4C1277.3,631.2 1271.9,631.4 1267.0,630.6C1262.1,629.8 1257.2,627.1 1252.2,624.5C1247.3,621.8 1240.5,617.1 1237.4,614.6C1234.4,612.1 1234.4,610.5 1233.7,609.7" fill="none" stroke="#5e4d52" stroke-width="1.25" stroke-linejoin="round"/>
<path d="M1060.0,686.1C1062.5,686.1 1070.7,685.5 1074.8,686.1C1078.9,686.7 1082.4,688.1 1084.6,689.8C1086.9,691.4 1087.9,694.1 1088.3,695.9C1088.8,697.8 1087.3,700.0 1087.1,700.9" fill="none" stroke="#5e4d52" stroke-width="1.25" stroke-linejoin="round"/>
<rect x="1152" y="244" width="259" height="179" fill="#fff" stroke="#231418" stroke-width="2.2"/>
<g id="ins2"><path d="M1153.2,283.1C1158.2,281.7 1172.1,277.2 1183.2,274.5C1194.4,271.8 1208.7,269.8 1220.2,267.1C1231.7,264.4 1244.0,260.5 1252.2,258.5C1260.4,256.5 1264.8,255.9 1269.5,255.3C1274.2,254.7 1278.7,254.9 1280.6,254.8" fill="none" stroke="#5e4d52" stroke-width="1.25" stroke-linejoin="round"/><path d="M1280.6,254.8C1280.8,254.0 1281.6,250.7 1281.8,249.9" fill="none" stroke="#5e4d52" stroke-width="1.25" stroke-linejoin="round"/><path d="M1280.6,255.8C1284.9,257.3 1297.2,260.0 1306.5,264.9C1315.7,269.8 1326.2,276.4 1336.0,285.3C1345.9,294.3 1357.0,308.1 1365.6,318.6C1374.2,329.1 1381.9,339.9 1387.8,348.2C1393.7,356.5 1398.7,363.7 1400.8,368.6C1403.0,373.6 1400.8,376.2 1400.8,377.8" fill="none" stroke="#5e4d52" stroke-width="1.25" stroke-linejoin="round"/><path d="M1253.5,259.2C1253.3,260.1 1251.6,262.7 1252.2,264.6C1252.8,266.6 1252.2,267.9 1257.2,270.8C1262.1,273.7 1273.6,278.4 1281.8,281.9C1290.0,285.4 1298.2,287.6 1306.5,291.8C1314.7,295.9 1323.7,301.2 1331.1,306.5C1338.5,311.9 1345.9,317.6 1350.8,323.8C1355.7,330.0 1358.6,336.9 1360.7,343.5C1362.7,350.1 1363.5,356.7 1363.1,363.2C1362.7,369.8 1360.7,377.2 1358.2,382.9C1355.7,388.7 1351.6,394.4 1348.3,397.7C1345.1,401.0 1342.2,402.2 1338.5,402.7C1334.8,403.1 1329.9,401.8 1326.2,400.2C1322.5,398.6 1320.4,394.9 1316.3,392.8C1312.2,390.7 1307.3,388.5 1301.5,387.9C1295.8,387.3 1288.4,387.9 1281.8,389.1C1275.2,390.3 1267.8,392.8 1262.1,395.3C1256.3,397.7 1251.4,401.0 1247.3,403.9C1243.2,406.8 1239.1,411.1 1237.4,412.5" fill="none" stroke="#5e4d52" stroke-width="1.25" stroke-linejoin="round"/><path d="M1183.2,297.9C1185.7,299.8 1193.5,303.9 1198.0,309.0C1202.5,314.1 1207.0,322.2 1210.3,328.7C1213.6,335.3 1215.9,341.9 1217.7,348.4C1219.6,355.0 1220.6,362.4 1221.4,368.2C1222.2,373.9 1222.0,378.0 1222.7,382.9C1223.3,387.9 1223.9,393.2 1225.1,397.7C1226.4,402.2 1228.0,407.4 1230.1,410.1C1232.1,412.7 1236.2,413.1 1237.4,413.7" fill="none" stroke="#5e4d52" stroke-width="1.25" stroke-linejoin="round"/><path d="M1166.0,296.7C1169.7,295.5 1181.2,291.8 1188.2,289.3C1195.1,286.8 1204.6,283.1 1207.9,281.9" fill="none" stroke="#5e4d52" stroke-width="1.25" stroke-linejoin="round"/><path d="M1230.1,328.7C1234.6,331.4 1248.5,339.8 1257.2,344.7C1265.8,349.7 1274.4,354.4 1281.8,358.3C1289.2,362.2 1295.8,364.9 1301.5,368.2C1307.3,371.4 1313.0,377.4 1316.3,378.0C1319.6,378.6 1321.0,375.1 1321.2,371.9C1321.4,368.6 1320.4,362.2 1317.5,358.3C1314.7,354.4 1308.3,352.5 1304.0,348.4C1299.7,344.3 1295.4,338.2 1291.7,333.7C1288.0,329.1 1283.4,323.4 1281.8,321.3" fill="none" stroke="#5e4d52" stroke-width="1.25" stroke-linejoin="round"/><path d="M1227.6,300.4C1229.6,301.8 1235.8,306.3 1239.9,309.0C1244.0,311.7 1248.5,314.8 1252.2,316.4C1255.9,318.0 1260.4,318.5 1262.1,318.9" fill="none" stroke="#5e4d52" stroke-width="1.25" stroke-linejoin="round"/><path d="M1285.5,284.4C1288.2,285.2 1296.0,286.8 1301.5,289.3C1307.1,291.8 1313.4,295.9 1318.8,299.1C1324.1,302.4 1331.1,307.4 1333.6,309.0" fill="none" stroke="#5e4d52" stroke-width="1.6" stroke-linejoin="round"/><polygon points="1215.6,280.9 1212.8,283.7 1208.9,283.7 1206.1,280.9 1206.1,277.0 1208.9,274.2 1212.8,274.2 1215.6,277.0" fill="#a8352c" stroke="#2a1c20" stroke-width="0.9"/><polygon points="1208.9,286.3 1206.1,289.1 1202.2,289.1 1199.4,286.3 1199.4,282.4 1202.2,279.6 1206.1,279.6 1208.9,282.4" fill="#a8352c" stroke="#2a1c20" stroke-width="0.9"/><polygon points="1226.9,279.4 1224.1,282.2 1220.2,282.2 1217.4,279.4 1217.4,275.5 1220.2,272.7 1224.1,272.7 1226.9,275.5" fill="#5b7bbf" stroke="#2a1c20" stroke-width="0.9"/><polygon points="1236.8,278.9 1234.0,281.7 1230.1,281.7 1227.3,278.9 1227.3,275.0 1230.1,272.2 1234.0,272.2 1236.8,275.0" fill="#5b7bbf" stroke="#2a1c20" stroke-width="0.9"/><polygon points="1246.6,275.2 1243.9,278.0 1239.9,278.0 1237.1,275.2 1237.1,271.3 1239.9,268.5 1243.9,268.5 1246.6,271.3" fill="#5b7bbf" stroke="#2a1c20" stroke-width="0.9"/><polygon points="1242.7,283.4 1239.9,286.2 1236.0,286.2 1233.2,283.4 1233.2,279.4 1236.0,276.6 1239.9,276.6 1242.7,279.4" fill="#a8352c" stroke="#2a1c20" stroke-width="0.9"/><polygon points="1217.1,292.5 1214.3,295.3 1210.3,295.3 1207.5,292.5 1207.5,288.6 1210.3,285.8 1214.3,285.8 1217.1,288.6" fill="#a8352c" stroke="#2a1c20" stroke-width="0.9"/><polygon points="1227.4,289.3 1224.6,292.1 1220.7,292.1 1217.9,289.3 1217.9,285.3 1220.7,282.6 1224.6,282.6 1227.4,285.3" fill="#f7b43a" stroke="#2a1c20" stroke-width="0.9"/><polygon points="1215.6,301.1 1212.8,303.9 1208.9,303.9 1206.1,301.1 1206.1,297.2 1208.9,294.4 1212.8,294.4 1215.6,297.2" fill="#a8352c" stroke="#2a1c20" stroke-width="0.9"/><polygon points="1225.4,298.7 1222.7,301.4 1218.7,301.4 1215.9,298.7 1215.9,294.7 1218.7,291.9 1222.7,291.9 1225.4,294.7" fill="#f7b43a" stroke="#2a1c20" stroke-width="0.9"/><polygon points="1243.9,301.9 1241.1,304.6 1237.2,304.6 1234.4,301.9 1234.4,297.9 1237.2,295.1 1241.1,295.1 1243.9,297.9" fill="#a8352c" stroke="#2a1c20" stroke-width="0.9"/><polygon points="1226.2,308.5 1223.4,311.3 1219.5,311.3 1216.7,308.5 1216.7,304.6 1219.5,301.8 1223.4,301.8 1226.2,304.6" fill="#f7b43a" stroke="#2a1c20" stroke-width="0.9"/><polygon points="1213.9,315.4 1211.1,318.2 1207.1,318.2 1204.3,315.4 1204.3,311.5 1207.1,308.7 1211.1,308.7 1213.9,311.5" fill="#f7b43a" stroke="#2a1c20" stroke-width="0.9"/><polygon points="1220.5,314.7 1217.7,317.5 1213.8,317.5 1211.0,314.7 1211.0,310.7 1213.8,307.9 1217.7,307.9 1220.5,310.7" fill="#f7b43a" stroke="#2a1c20" stroke-width="0.9"/><polygon points="1227.4,318.9 1224.6,321.7 1220.7,321.7 1217.9,318.9 1217.9,314.9 1220.7,312.1 1224.6,312.1 1227.4,314.9" fill="#f7b43a" stroke="#2a1c20" stroke-width="0.9"/><polygon points="1216.3,327.5 1213.5,330.3 1209.6,330.3 1206.8,327.5 1206.8,323.5 1209.6,320.8 1213.5,320.8 1216.3,323.5" fill="#f7b43a" stroke="#2a1c20" stroke-width="0.9"/><polygon points="1229.4,330.2 1226.6,333.0 1222.7,333.0 1219.9,330.2 1219.9,326.3 1222.7,323.5 1226.6,323.5 1229.4,326.3" fill="#f7b43a" stroke="#2a1c20" stroke-width="0.9"/><polygon points="1226.2,344.7 1223.4,347.5 1219.5,347.5 1216.7,344.7 1216.7,340.8 1219.5,338.0 1223.4,338.0 1226.2,340.8" fill="#f7b43a" stroke="#2a1c20" stroke-width="0.9"/><polygon points="1227.4,358.8 1224.6,361.6 1220.7,361.6 1217.9,358.8 1217.9,354.8 1220.7,352.1 1224.6,352.1 1227.4,354.8" fill="#f7b43a" stroke="#2a1c20" stroke-width="0.9"/><polygon points="1226.2,371.9 1223.4,374.6 1219.5,374.6 1216.7,371.9 1216.7,367.9 1219.5,365.1 1223.4,365.1 1226.2,367.9" fill="#f7b43a" stroke="#2a1c20" stroke-width="0.9"/><polygon points="1241.0,398.5 1238.2,401.3 1234.2,401.3 1231.5,398.5 1231.5,394.5 1234.2,391.7 1238.2,391.7 1241.0,394.5" fill="#a8352c" stroke="#2a1c20" stroke-width="0.9"/><polygon points="1239.2,414.5 1236.5,417.3 1232.5,417.3 1229.7,414.5 1229.7,410.5 1232.5,407.8 1236.5,407.8 1239.2,410.5" fill="#a8352c" stroke="#2a1c20" stroke-width="0.9"/><polygon points="1273.0,391.1 1270.2,393.9 1266.3,393.9 1263.5,391.1 1263.5,387.1 1266.3,384.3 1270.2,384.3 1273.0,387.1" fill="#5b7bbf" stroke="#2a1c20" stroke-width="0.9"/><polygon points="1284.6,376.3 1281.8,379.1 1277.9,379.1 1275.1,376.3 1275.1,372.3 1277.9,369.6 1281.8,369.6 1284.6,372.3" fill="#5b7bbf" stroke="#2a1c20" stroke-width="0.9"/><polygon points="1265.6,275.2 1262.8,278.0 1258.9,278.0 1256.1,275.2 1256.1,271.3 1258.9,268.5 1262.8,268.5 1265.6,271.3" fill="#f7b43a" stroke="#2a1c20" stroke-width="0.9"/><polygon points="1277.2,284.4 1274.4,287.1 1270.5,287.1 1267.7,284.4 1267.7,280.4 1270.5,277.6 1274.4,277.6 1277.2,280.4" fill="#f7b43a" stroke="#2a1c20" stroke-width="0.9"/><polygon points="1285.3,284.4 1282.5,287.1 1278.6,287.1 1275.8,284.4 1275.8,280.4 1278.6,277.6 1282.5,277.6 1285.3,280.4" fill="#f7b43a" stroke="#2a1c20" stroke-width="0.9"/><polygon points="1269.3,284.4 1266.5,287.1 1262.6,287.1 1259.8,284.4 1259.8,280.4 1262.6,277.6 1266.5,277.6 1269.3,280.4" fill="#5b7bbf" stroke="#2a1c20" stroke-width="0.9"/><polygon points="1271.3,291.3 1268.5,294.0 1264.6,294.0 1261.8,291.3 1261.8,287.3 1264.6,284.5 1268.5,284.5 1271.3,287.3" fill="#5b7bbf" stroke="#2a1c20" stroke-width="0.9"/><polygon points="1280.4,292.5 1277.6,295.3 1273.7,295.3 1270.9,292.5 1270.9,288.6 1273.7,285.8 1277.6,285.8 1280.4,288.6" fill="#5b7bbf" stroke="#2a1c20" stroke-width="0.9"/><polygon points="1287.1,293.2 1284.3,296.0 1280.3,296.0 1277.5,293.2 1277.5,289.3 1280.3,286.5 1284.3,286.5 1287.1,289.3" fill="#5b7bbf" stroke="#2a1c20" stroke-width="0.9"/><polygon points="1266.8,301.1 1264.1,303.9 1260.1,303.9 1257.3,301.1 1257.3,297.2 1260.1,294.4 1264.1,294.4 1266.8,297.2" fill="#5b7bbf" stroke="#2a1c20" stroke-width="0.9"/><polygon points="1274.2,304.8 1271.5,307.6 1267.5,307.6 1264.7,304.8 1264.7,300.9 1267.5,298.1 1271.5,298.1 1274.2,300.9" fill="#5b7bbf" stroke="#2a1c20" stroke-width="0.9"/><polygon points="1274.2,299.9 1271.5,302.7 1267.5,302.7 1264.7,299.9 1264.7,295.9 1267.5,293.2 1271.5,293.2 1274.2,295.9" fill="#a8352c" stroke="#2a1c20" stroke-width="0.9"/><polygon points="1287.8,301.1 1285.0,303.9 1281.1,303.9 1278.3,301.1 1278.3,297.2 1281.1,294.4 1285.0,294.4 1287.8,297.2" fill="#5b7bbf" stroke="#2a1c20" stroke-width="0.9"/><polygon points="1287.8,307.3 1285.0,310.1 1281.1,310.1 1278.3,307.3 1278.3,303.3 1281.1,300.6 1285.0,300.6 1287.8,303.3" fill="#5b7bbf" stroke="#2a1c20" stroke-width="0.9"/><polygon points="1280.4,311.0 1277.6,313.8 1273.7,313.8 1270.9,311.0 1270.9,307.0 1273.7,304.2 1277.6,304.2 1280.4,307.0" fill="#5b7bbf" stroke="#2a1c20" stroke-width="0.9"/><polygon points="1271.3,315.9 1268.5,318.7 1264.6,318.7 1261.8,315.9 1261.8,312.0 1264.6,309.2 1268.5,309.2 1271.3,312.0" fill="#5b7bbf" stroke="#2a1c20" stroke-width="0.9"/><polygon points="1266.4,314.7 1263.6,317.5 1259.6,317.5 1256.8,314.7 1256.8,310.7 1259.6,307.9 1263.6,307.9 1266.4,310.7" fill="#a8352c" stroke="#2a1c20" stroke-width="0.9"/><polygon points="1271.3,322.1 1268.5,324.9 1264.6,324.9 1261.8,322.1 1261.8,318.1 1264.6,315.3 1268.5,315.3 1271.3,318.1" fill="#a8352c" stroke="#2a1c20" stroke-width="0.9"/><polygon points="1283.6,318.9 1280.8,321.7 1276.9,321.7 1274.1,318.9 1274.1,314.9 1276.9,312.1 1280.8,312.1 1283.6,314.9" fill="#5b7bbf" stroke="#2a1c20" stroke-width="0.9"/><polygon points="1259.5,328.7 1256.7,331.5 1252.7,331.5 1249.9,328.7 1249.9,324.8 1252.7,322.0 1256.7,322.0 1259.5,324.8" fill="#a8352c" stroke="#2a1c20" stroke-width="0.9"/><polygon points="1271.8,333.9 1269.0,336.7 1265.0,336.7 1262.3,333.9 1262.3,330.0 1265.0,327.2 1269.0,327.2 1271.8,330.0" fill="#a8352c" stroke="#2a1c20" stroke-width="0.9"/><polygon points="1299.4,296.2 1296.6,299.0 1292.7,299.0 1289.9,296.2 1289.9,292.2 1292.7,289.5 1296.6,289.5 1299.4,292.2" fill="#a8352c" stroke="#2a1c20" stroke-width="0.9"/><polygon points="1303.8,303.6 1301.0,306.4 1297.1,306.4 1294.3,303.6 1294.3,299.6 1297.1,296.9 1301.0,296.9 1303.8,299.6" fill="#5b7bbf" stroke="#2a1c20" stroke-width="0.9"/><polygon points="1335.9,318.9 1333.1,321.7 1329.1,321.7 1326.3,318.9 1326.3,314.9 1329.1,312.1 1333.1,312.1 1335.9,314.9" fill="#f7b43a" stroke="#2a1c20" stroke-width="0.9"/><polygon points="1304.3,327.7 1301.5,330.5 1297.6,330.5 1294.8,327.7 1294.8,323.8 1297.6,321.0 1301.5,321.0 1304.3,323.8" fill="#a8352c" stroke="#2a1c20" stroke-width="0.9"/><polygon points="1303.8,343.0 1301.0,345.8 1297.1,345.8 1294.3,343.0 1294.3,339.1 1297.1,336.3 1301.0,336.3 1303.8,339.1" fill="#a8352c" stroke="#2a1c20" stroke-width="0.9"/><polygon points="1311.9,348.7 1309.2,351.5 1305.2,351.5 1302.4,348.7 1302.4,344.7 1305.2,342.0 1309.2,342.0 1311.9,344.7" fill="#5b7bbf" stroke="#2a1c20" stroke-width="0.9"/></g>
<rect x="1084.6" y="482.8" width="102.8" height="71.9" fill="none" stroke="#6b5a5f" stroke-width="1.3"/>
<use href="#ins2" transform="translate(623.8,385.2) scale(0.4)"/>
<path d="M893.4,535.6C895.6,533.6 902.3,527.4 906.8,523.6C911.2,519.8 915.3,516.4 920.2,512.8C925.1,509.3 931.1,505.3 936.2,502.1C941.4,499.0 946.1,496.2 951.0,494.1C955.9,492.0 960.6,490.6 965.7,489.8C970.8,489.0 976.4,488.8 981.8,489.4C987.1,490.0 992.5,491.9 997.8,493.4C1003.2,495.0 1009.0,497.1 1013.9,498.8C1018.8,500.5 1022.8,502.1 1027.3,503.5C1031.8,504.8 1036.4,506.4 1040.7,506.8C1044.9,507.3 1048.3,507.4 1052.7,506.2C1057.2,504.9 1062.1,501.5 1067.5,499.5C1072.8,497.5 1078.2,496.1 1084.9,494.1C1091.6,492.1 1100.3,489.3 1107.6,487.4C1115.0,485.5 1125.5,483.5 1129.1,482.7" fill="none" stroke="#5e4d52" stroke-width="1.25" stroke-linejoin="round"/>
<path d="M893.4,535.6C895.6,534.5 902.5,531.6 906.8,528.9C911.0,526.2 914.4,522.9 918.8,519.5C923.3,516.2 928.9,512.2 933.6,508.8C938.2,505.5 942.5,502.0 947.0,499.5C951.4,497.0 956.1,494.8 960.3,493.8C964.6,492.8 968.4,492.8 972.4,493.4C976.4,494.0 980.4,496.0 984.4,497.5C988.5,498.9 991.6,500.8 996.5,501.9C1001.4,502.9 1008.8,502.8 1013.9,503.7C1019.0,504.7 1023.5,506.0 1027.3,507.5C1031.1,509.0 1034.3,511.3 1036.7,512.8C1039.0,514.4 1039.8,516.6 1041.4,516.6C1042.9,516.6 1043.9,514.1 1046.0,512.8C1048.2,511.6 1050.5,510.3 1054.1,508.8C1057.6,507.4 1062.3,505.4 1067.5,504.1C1072.6,502.9 1080.4,502.0 1084.9,501.1C1089.3,500.2 1090.5,500.2 1094.2,498.8C1098.0,497.4 1103.6,494.9 1107.6,492.8C1111.7,490.6 1116.6,487.2 1118.4,486.1" fill="none" stroke="#5e4d52" stroke-width="1.25" stroke-linejoin="round"/>
<path d="M1088.9,538.3C1087.6,540.1 1084.0,545.9 1080.9,549.0C1077.7,552.1 1071.9,555.7 1070.1,557.0" fill="none" stroke="#5e4d52" stroke-width="1.25" stroke-linejoin="round"/>
<path d="M1464.8,478.4C1462.9,477.0 1456.2,473.1 1453.0,470.1C1449.9,467.2 1448.7,465.4 1445.9,460.7C1443.2,455.9 1438.8,448.5 1436.5,441.8C1434.1,435.1 1432.3,427.2 1431.7,420.5C1431.1,413.8 1431.3,407.1 1432.9,401.6C1434.5,396.1 1437.5,391.7 1441.2,387.4C1444.9,383.1 1449.9,379.5 1455.4,375.6C1460.9,371.6 1467.2,368.5 1474.3,363.7C1481.4,359.0 1490.8,352.3 1497.9,347.2C1505.0,342.1 1512.1,336.4 1516.8,333.0C1521.6,329.7 1524.1,327.5 1526.3,327.1C1528.5,326.7 1529.1,329.0 1529.8,330.7C1530.6,332.3 1529.6,338.5 1531.0,337.3C1532.4,336.1 1535.4,327.8 1538.1,323.6C1540.9,319.3 1543.6,315.3 1547.6,311.7C1551.5,308.2 1557.4,303.7 1561.8,302.3C1566.1,300.9 1570.8,302.3 1573.6,303.5C1576.3,304.6 1576.9,306.8 1578.3,309.4C1579.7,311.9 1580.5,318.4 1581.9,318.8C1583.2,319.2 1584.0,314.3 1586.6,311.7C1589.1,309.2 1594.5,305.4 1597.2,303.5C1600.0,301.5 1602.0,301.7 1603.1,299.9C1604.2,298.1 1602.5,295.0 1603.8,292.8C1605.2,290.7 1607.0,289.3 1611.4,286.9C1615.8,284.6 1623.2,281.4 1630.3,278.6C1637.4,275.9 1645.7,272.7 1654.0,270.4C1662.2,268.0 1671.5,265.8 1680.0,264.5C1688.5,263.1 1700.8,262.5 1705.0,262.1" fill="none" stroke="#5e4d52" stroke-width="1.25" stroke-linejoin="round"/>
<path d="M1464.8,478.4C1461.7,477.4 1451.4,474.3 1445.9,472.5C1440.4,470.7 1435.7,468.8 1431.7,467.8C1427.8,466.8 1425.4,466.0 1422.3,466.6C1419.1,467.2 1416.4,468.8 1412.8,471.3C1409.3,473.9 1405.3,477.4 1401.0,482.0C1396.7,486.5 1390.6,493.0 1386.8,498.5C1383.1,504.0 1379.8,509.9 1378.5,515.0C1377.3,520.2 1377.9,525.7 1379.3,529.2C1380.6,532.8 1383.6,535.1 1386.8,536.3C1390.1,537.5 1395.7,536.7 1398.6,536.3C1401.6,535.9 1403.4,533.6 1404.6,534.0C1405.7,534.4 1404.4,536.5 1405.7,538.7C1407.1,540.9 1407.7,544.4 1412.8,547.0C1417.9,549.5 1427.8,552.9 1436.5,554.1C1445.1,555.2 1457.0,554.6 1464.8,554.1C1472.7,553.5 1477.8,552.3 1483.7,550.5C1489.7,548.7 1496.2,546.0 1500.3,543.4C1504.4,540.9 1505.8,536.3 1508.6,535.1C1511.3,534.0 1513.5,536.5 1516.8,536.3C1520.2,536.1 1526.7,534.4 1528.7,534.0" fill="none" stroke="#5e4d52" stroke-width="1.25" stroke-linejoin="round"/>
<path d="M1495.6,493.8C1496.7,491.6 1501.1,491.8 1505.0,492.6C1509.0,493.4 1514.1,495.9 1519.2,498.5C1524.3,501.1 1531.6,504.8 1535.8,508.0C1539.9,511.1 1542.1,514.3 1544.0,517.4C1546.0,520.6 1548.2,524.5 1547.6,526.9C1547.0,529.2 1543.6,530.4 1540.5,531.6C1537.3,532.8 1532.6,534.2 1528.7,534.0C1524.7,533.8 1520.4,532.8 1516.8,530.4C1513.3,528.0 1510.5,523.9 1507.4,519.8C1504.2,515.6 1499.9,509.9 1497.9,505.6C1496.0,501.3 1494.4,495.9 1495.6,493.8Z" fill="none" stroke="#5e4d52" stroke-width="1.25" stroke-linejoin="round"/>
<path d="M1547.6,526.9C1548.4,526.9 1550.3,527.3 1552.3,526.9C1554.3,526.5 1558.2,524.9 1559.4,524.5" fill="none" stroke="#5e4d52" stroke-width="1.25" stroke-linejoin="round"/>
<path d="M1528.7,534.0C1526.7,534.7 1521.2,536.9 1516.8,538.7C1512.5,540.5 1507.0,542.2 1502.7,544.6C1498.3,547.0 1494.0,549.9 1490.8,552.9C1487.7,555.8 1485.3,557.6 1483.7,562.3C1482.2,567.1 1481.4,574.9 1481.4,581.2C1481.4,587.5 1481.8,593.8 1483.7,600.2C1485.7,606.5 1488.5,612.0 1493.2,619.1C1497.9,626.2 1504.2,634.8 1512.1,642.7C1520.0,650.6 1531.0,659.6 1540.5,666.3C1549.9,673.0 1559.0,678.2 1568.9,682.9C1578.7,687.6 1589.3,691.4 1599.6,694.7C1609.8,698.1 1620.9,701.0 1630.3,703.0C1639.8,705.0 1643.9,705.7 1656.3,706.5C1668.8,707.3 1696.9,707.5 1705.0,707.7" fill="none" stroke="#5e4d52" stroke-width="1.25" stroke-linejoin="round"/>
<path d="M1656.3,706.5C1656.5,705.0 1655.9,699.8 1657.5,697.1C1659.1,694.3 1661.6,691.8 1665.8,690.0C1669.9,688.2 1676.8,686.6 1682.3,686.4C1687.8,686.2 1695.1,687.4 1698.9,688.8C1702.7,690.2 1704.0,693.7 1705.0,694.7" fill="none" stroke="#5e4d52" stroke-width="1.25" stroke-linejoin="round"/>
<path d="M1656.3,706.5C1659.1,707.1 1667.0,709.9 1672.9,710.1C1678.8,710.3 1686.4,708.9 1691.8,707.7C1697.1,706.5 1702.8,703.8 1705.0,703.0" fill="none" stroke="#5e4d52" stroke-width="1.25" stroke-linejoin="round"/>
<path d="M1559.4,524.5C1561.4,523.3 1566.5,520.2 1571.2,517.4C1575.9,514.7 1582.6,510.5 1587.8,508.0C1592.9,505.4 1596.0,503.4 1602.0,502.0C1607.9,500.7 1616.5,500.1 1623.2,499.7C1629.9,499.3 1637.0,499.2 1642.1,499.7C1647.3,500.2 1649.2,502.4 1654.0,502.8C1658.7,503.1 1662.0,502.4 1670.5,502.0C1679.0,501.7 1699.3,501.1 1705.0,500.9" fill="none" stroke="#5e4d52" stroke-width="1.25" stroke-linejoin="round"/>
<path d="M1559.4,524.5C1562.2,522.7 1570.4,517.0 1575.9,513.9C1581.5,510.7 1586.6,507.8 1592.5,505.6C1598.4,503.4 1603.5,502.0 1611.4,500.9C1619.3,499.7 1632.3,498.1 1639.8,498.5C1647.3,498.9 1652.0,501.3 1656.3,503.2C1660.7,505.2 1661.8,507.8 1665.8,510.3C1669.7,512.9 1675.2,516.6 1680.0,518.6C1684.7,520.6 1690.0,520.8 1694.1,522.1C1698.3,523.5 1703.2,526.1 1705.0,526.9" fill="none" stroke="#5e4d52" stroke-width="1.25" stroke-linejoin="round"/>
<path d="M1585.4,519.8C1586.6,518.0 1588.6,516.0 1592.5,515.0C1596.4,514.1 1603.9,514.7 1609.0,513.9C1614.2,513.1 1619.3,511.6 1623.2,510.3C1627.2,509.0 1629.9,506.8 1632.7,506.1C1635.4,505.4 1638.2,505.4 1639.8,506.1C1641.4,506.8 1642.5,508.8 1642.1,510.3C1641.7,511.8 1640.6,513.5 1637.4,515.0C1634.3,516.6 1628.3,518.0 1623.2,519.8C1618.1,521.5 1611.4,524.1 1606.7,525.7C1602.0,527.3 1598.4,529.2 1594.9,529.2C1591.3,529.2 1587.0,527.3 1585.4,525.7C1583.8,524.1 1584.2,521.5 1585.4,519.8Z" fill="none" stroke="#5e4d52" stroke-width="1.25" stroke-linejoin="round"/>
<path d="M1587.8,528.0C1588.9,529.2 1592.1,533.6 1594.9,535.1C1597.6,536.7 1600.0,537.9 1604.3,537.5C1608.6,537.1 1615.0,535.3 1620.9,532.8C1626.8,530.2 1633.9,525.9 1639.8,522.1C1645.7,518.4 1653.6,512.3 1656.3,510.3" fill="none" stroke="#5e4d52" stroke-width="1.25" stroke-dasharray="4 3" stroke-linejoin="round"/>
<path d="M1639.8,541.1C1640.2,539.9 1644.1,538.3 1646.9,538.7C1649.6,539.1 1655.1,542.2 1656.3,543.4C1657.5,544.6 1655.9,545.4 1654.0,545.8C1652.0,546.2 1646.9,546.6 1644.5,545.8C1642.1,545.0 1639.4,542.2 1639.8,541.1Z" fill="none" stroke="#5e4d52" stroke-width="1.25" stroke-linejoin="round"/>
<path d="M1656.3,544.6C1657.5,545.8 1660.7,549.1 1663.4,551.7C1666.2,554.3 1669.3,557.6 1672.9,560.0C1676.4,562.3 1679.3,564.5 1684.7,565.9C1690.1,567.3 1701.6,567.8 1705.0,568.2" fill="none" stroke="#5e4d52" stroke-width="1.25" stroke-linejoin="round"/>
<path d="M1684.7,567.1C1685.5,568.0 1687.1,571.2 1689.4,573.0C1691.8,574.7 1696.3,577.1 1698.9,577.7C1701.5,578.3 1704.0,576.7 1705.0,576.5" fill="none" stroke="#5e4d52" stroke-width="1.25" stroke-linejoin="round"/>
<path d="M1618.5,337.7C1622.0,337.0 1633.1,334.0 1639.8,333.0C1646.5,332.0 1652.4,331.0 1658.7,331.8C1665.0,332.6 1673.3,334.8 1677.6,337.7C1681.9,340.7 1682.9,345.6 1684.7,349.6C1686.5,353.5 1687.6,359.4 1688.2,361.4" fill="none" stroke="#5e4d52" stroke-width="1.25" stroke-linejoin="round"/>
<path d="M1618.5,337.7C1616.5,339.7 1610.2,344.4 1606.7,349.6C1603.1,354.7 1600.0,361.8 1597.2,368.5C1594.5,375.2 1591.9,382.7 1590.1,389.8C1588.4,396.8 1586.8,404.3 1586.6,411.0C1586.4,417.7 1587.2,424.8 1588.9,429.9C1590.7,435.1 1593.9,439.0 1597.2,441.8C1600.6,444.5 1605.9,445.7 1609.0,446.5C1612.2,447.3 1615.0,445.5 1616.1,446.5C1617.3,447.5 1615.3,451.4 1616.1,452.4C1616.9,453.4 1617.7,453.8 1620.9,452.4C1624.0,451.0 1629.1,447.1 1635.0,444.1C1641.0,441.2 1650.4,437.4 1656.3,434.7C1662.2,431.9 1667.0,429.5 1670.5,427.6C1674.1,425.6 1674.4,423.8 1677.6,422.8C1680.8,421.9 1684.9,421.1 1689.4,421.7C1694.0,422.3 1702.4,425.6 1705.0,426.4" fill="none" stroke="#5e4d52" stroke-width="1.25" stroke-linejoin="round"/>
<path d="M1656.3,420.5C1656.7,421.7 1656.7,426.0 1658.7,427.6C1660.7,429.2 1666.6,429.5 1668.1,429.9" fill="none" stroke="#5e4d52" stroke-width="1.25" stroke-linejoin="round"/>
<path d="M1616.1,446.5C1619.3,445.3 1628.7,442.5 1635.0,439.4C1641.4,436.2 1650.4,431.1 1654.0,427.6C1657.5,424.0 1654.4,422.5 1656.3,418.1C1658.3,413.8 1661.8,408.3 1665.8,401.6C1669.7,394.9 1676.0,384.2 1680.0,377.9C1683.9,371.6 1685.2,366.9 1689.4,363.7C1693.6,360.6 1702.4,359.8 1705.0,359.0" fill="none" stroke="#5e4d52" stroke-width="1.25" stroke-linejoin="round"/>
<path d="M1639.8,321.2C1639.8,322.0 1638.2,324.3 1639.8,325.9C1641.4,327.6 1647.7,330.3 1649.2,331.1" fill="none" stroke="#5e4d52" stroke-width="1.25" stroke-linejoin="round"/>
<path d="M1618.5,337.7C1620.5,336.2 1626.8,331.0 1630.3,328.3C1633.9,325.5 1635.8,323.4 1639.8,321.2C1643.7,319.0 1647.7,316.9 1654.0,315.3C1660.3,313.7 1669.1,312.4 1677.6,311.7C1686.1,311.1 1700.5,311.3 1705.0,311.3" fill="none" stroke="#5e4d52" stroke-width="1.25" stroke-linejoin="round"/>
<path d="M1705.0,262.1C1708.1,261.9 1716.6,260.7 1723.6,260.9C1730.7,261.1 1739.4,261.7 1747.3,263.3C1755.2,264.9 1763.8,267.8 1770.9,270.4C1778.0,272.9 1783.9,275.3 1789.8,278.6C1795.7,282.0 1803.6,288.5 1806.4,290.5" fill="none" stroke="#5e4d52" stroke-width="1.25" stroke-linejoin="round"/>
<path d="M1705.0,311.3C1708.1,311.5 1717.6,312.0 1723.6,312.9C1729.7,313.9 1734.7,315.2 1741.4,316.9C1748.1,318.7 1756.5,320.1 1763.8,323.6C1771.1,327.0 1778.0,332.0 1785.1,337.7C1792.2,343.5 1802.8,354.5 1806.4,357.8" fill="none" stroke="#5e4d52" stroke-width="1.25" stroke-linejoin="round"/>
<path d="M1741.4,316.9C1742.6,318.1 1747.9,321.7 1748.5,324.0C1749.1,326.3 1745.5,329.5 1744.9,330.7" fill="none" stroke="#5e4d52" stroke-width="1.25" stroke-linejoin="round"/>
<path d="M1705.0,359.0C1706.1,359.4 1709.1,358.6 1711.8,361.4C1714.5,364.1 1716.9,370.1 1721.3,375.6C1725.6,381.1 1731.9,388.6 1737.8,394.5C1743.7,400.4 1751.2,406.3 1756.7,411.0C1762.3,415.8 1766.2,419.7 1770.9,422.8C1775.7,426.0 1780.4,428.4 1785.1,429.9C1789.8,431.4 1795.0,431.8 1799.3,431.8C1803.6,431.8 1808.4,429.5 1811.1,429.9C1813.9,430.4 1814.7,433.8 1815.8,434.7C1817.0,435.5 1817.8,435.1 1818.2,435.1" fill="none" stroke="#5e4d52" stroke-width="1.25" stroke-linejoin="round"/>
<path d="M1714.2,356.7C1715.0,354.7 1716.2,348.4 1718.9,344.8C1721.7,341.3 1726.4,337.7 1730.7,335.4C1735.1,333.0 1739.4,331.5 1744.9,330.7C1750.4,329.8 1757.5,329.2 1763.8,330.2C1770.1,331.2 1776.8,333.7 1782.7,336.6C1788.7,339.4 1795.4,343.5 1799.3,347.2C1803.2,350.9 1805.2,357.0 1806.4,359.0" fill="none" stroke="#5e4d52" stroke-width="1.25" stroke-linejoin="round"/>
<path d="M1705.0,427.6C1707.3,427.6 1714.2,428.2 1718.9,427.6C1723.6,427.0 1728.4,424.5 1733.1,424.0C1737.8,423.6 1741.8,424.1 1747.3,424.7C1752.8,425.3 1760.7,426.5 1766.2,427.6C1771.7,428.6 1775.3,429.3 1780.4,431.1C1785.5,432.9 1793.4,437.6 1796.9,438.2C1800.5,438.8 1799.3,435.7 1801.7,434.7C1804.0,433.6 1809.5,432.3 1811.1,431.8" fill="none" stroke="#5e4d52" stroke-width="1.25" stroke-linejoin="round"/>
<path d="M1766.2,415.8C1766.4,417.3 1767.8,423.2 1767.4,425.2C1767.0,427.2 1764.4,427.2 1763.8,427.6" fill="none" stroke="#5e4d52" stroke-width="1.25" stroke-linejoin="round"/>
<path d="M1999.8,424.0C1999.8,426.2 2000.5,432.9 1999.8,437.0C1999.1,441.2 1998.2,445.3 1995.5,448.9C1992.8,452.4 1987.2,455.9 1983.7,458.3C1980.1,460.7 1977.2,462.2 1974.2,463.0C1971.3,463.8 1966.0,462.2 1966.0,463.0C1966.0,463.8 1973.2,465.4 1974.2,467.8C1975.2,470.1 1971.5,474.9 1971.9,477.2C1972.3,479.6 1974.2,480.0 1976.6,482.0C1979.0,483.9 1983.3,485.9 1986.1,489.0C1988.8,492.2 1991.4,496.1 1993.1,500.9C1994.9,505.6 1996.1,511.9 1996.7,517.4C1997.3,522.9 1997.3,528.4 1996.7,534.0C1996.1,539.5 1994.9,545.0 1993.1,550.5C1991.4,556.0 1989.2,561.9 1986.1,567.1C1982.9,572.2 1978.6,577.3 1974.2,581.2C1969.9,585.2 1965.6,587.7 1960.0,590.7C1954.5,593.7 1945.9,598.0 1941.1,599.0C1936.4,600.0 1934.8,598.4 1931.7,596.6C1928.5,594.8 1924.4,591.3 1922.2,588.3C1920.1,585.4 1919.1,582.6 1918.7,578.9C1918.3,575.1 1921.4,567.9 1919.9,565.9C1918.3,563.8 1911.0,566.5 1909.2,566.6" fill="none" stroke="#5e4d52" stroke-width="1.25" stroke-linejoin="round"/>
<path d="M1909.2,566.6C1907.1,565.1 1900.4,560.7 1896.2,557.6C1892.1,554.5 1888.7,551.3 1884.4,548.1C1880.1,545.0 1873.0,541.4 1870.2,538.7C1867.5,535.9 1867.5,534.0 1867.8,531.6C1868.2,529.2 1869.4,528.4 1872.6,524.5C1875.7,520.6 1882.4,513.5 1886.8,508.0C1891.1,502.4 1895.7,495.5 1898.6,491.4C1901.4,487.3 1903.8,484.9 1903.8,483.1C1903.8,481.4 1901.4,480.8 1898.6,480.8C1895.7,480.8 1891.1,481.4 1886.8,483.1C1882.4,484.9 1876.5,487.7 1872.6,491.4C1868.6,495.1 1865.9,500.9 1863.1,505.6C1860.4,510.3 1858.0,517.0 1856.0,519.8C1854.1,522.5 1852.1,521.7 1851.3,522.1" fill="none" stroke="#5e4d52" stroke-width="1.25" stroke-linejoin="round"/>
<path d="M1918.7,578.9C1918.5,582.0 1918.5,592.3 1917.5,597.8C1916.5,603.3 1915.1,607.6 1912.8,612.0C1910.4,616.3 1907.2,621.0 1903.3,623.8C1899.4,626.6 1892.7,626.9 1889.1,628.5C1885.6,630.1 1885.2,629.7 1882.0,633.3C1878.9,636.8 1875.3,643.9 1870.2,649.8C1865.1,655.7 1858.0,663.2 1851.3,668.7C1844.6,674.2 1837.5,678.6 1830.0,682.9C1822.5,687.2 1814.7,691.6 1806.4,694.7C1798.1,697.9 1788.7,700.6 1780.4,701.8C1772.1,703.0 1760.7,701.8 1756.7,701.8" fill="none" stroke="#5e4d52" stroke-width="1.25" stroke-linejoin="round"/>
<path d="M1705.0,500.9C1708.1,501.1 1717.4,501.5 1723.6,502.0C1729.9,502.6 1737.0,503.6 1742.6,504.4C1748.1,505.2 1754.4,506.4 1756.7,506.8" fill="none" stroke="#5e4d52" stroke-width="1.25" stroke-linejoin="round"/>
<path d="M1705.0,529.2C1706.5,528.8 1710.3,527.9 1714.2,526.9C1718.1,525.9 1723.6,524.7 1728.4,523.3C1733.1,521.9 1737.8,520.2 1742.6,518.6C1747.3,517.0 1754.4,514.7 1756.7,513.9" fill="none" stroke="#5e4d52" stroke-width="1.25" stroke-linejoin="round"/>
<path d="M1760.3,545.8C1758.1,547.4 1752.2,552.3 1747.3,555.2C1742.4,558.2 1735.5,561.9 1730.7,563.5C1726.0,565.1 1720.9,564.5 1718.9,564.7" fill="none" stroke="#5e4d52" stroke-width="1.25" stroke-linejoin="round"/>
<path d="M1709.5,574.1C1709.1,572.6 1710.2,568.6 1711.8,567.1C1713.4,565.5 1716.2,564.9 1718.9,564.7C1721.7,564.5 1727.6,564.7 1728.4,565.9C1729.2,567.1 1726.0,570.0 1723.6,571.8C1721.3,573.6 1716.5,576.1 1714.2,576.5C1711.8,576.9 1709.9,575.7 1709.5,574.1Z" fill="none" stroke="#5e4d52" stroke-width="1.25" stroke-linejoin="round"/>
<path d="M1761.5,544.6C1761.5,543.6 1768.6,539.3 1770.9,538.7C1773.3,538.1 1775.7,540.1 1775.7,541.1C1775.7,542.0 1773.3,544.0 1770.9,544.6C1768.6,545.2 1761.5,545.6 1761.5,544.6Z" fill="none" stroke="#5e4d52" stroke-width="1.25" stroke-linejoin="round"/>
<path d="M1707.1,697.1C1707.9,694.3 1710.2,689.6 1714.2,687.6C1718.1,685.7 1725.2,685.1 1730.7,685.3C1736.2,685.5 1742.9,686.8 1747.3,688.8C1751.6,690.8 1755.4,694.7 1756.7,697.1C1758.1,699.4 1757.9,701.2 1755.6,703.0C1753.2,704.8 1747.9,706.7 1742.6,707.7C1737.2,708.7 1729.2,709.5 1723.6,708.9C1718.1,708.3 1712.2,706.1 1709.5,704.2C1706.7,702.2 1706.3,699.8 1707.1,697.1Z" fill="none" stroke="#5e4d52" stroke-width="1.25" stroke-linejoin="round"/>
<path d="M1705.0,699.4C1705.3,699.1 1706.7,697.5 1707.1,697.1" fill="none" stroke="#5e4d52" stroke-width="1.25" stroke-linejoin="round"/>
<rect x="1806.5" y="245" width="259" height="178.8" fill="#fff" stroke="#231418" stroke-width="2.2"/>
<g id="ins3"><path d="M1814.7,306.5C1816.0,306.8 1820.0,309.3 1822.9,308.2C1825.9,307.1 1828.4,302.9 1832.4,299.9C1836.3,297.0 1841.1,293.2 1846.6,290.5C1852.1,287.7 1858.4,285.1 1865.5,283.4C1872.6,281.6 1879.3,280.2 1889.1,279.8C1899.0,279.4 1912.8,280.0 1924.6,281.0C1936.4,282.0 1948.2,283.8 1960.0,285.7C1971.9,287.7 1985.7,290.1 1995.5,292.8C2005.4,295.6 2012.5,298.3 2019.1,302.3C2025.8,306.2 2030.6,311.7 2035.7,316.5C2040.8,321.2 2045.5,326.9 2049.9,330.7C2054.2,334.4 2059.7,337.5 2061.7,338.9" fill="none" stroke="#5e4d52" stroke-width="1.25" stroke-linejoin="round"/><path d="M1941.1,295.2C1946.3,297.0 1961.6,301.7 1971.9,305.8C1982.1,310.0 1993.5,315.5 2002.6,320.0C2011.7,324.5 2019.1,328.9 2026.2,333.0C2033.3,337.2 2040.4,342.2 2045.2,344.8C2049.9,347.5 2052.6,349.3 2054.6,349.1C2056.6,348.9 2057.8,346.1 2057.0,343.7C2056.2,341.2 2054.2,338.1 2049.9,334.2C2045.5,330.3 2038.1,324.1 2031.0,320.0C2023.9,315.9 2015.2,312.5 2007.3,309.4C1999.4,306.2 1987.6,302.5 1983.7,301.1" fill="none" stroke="#5e4d52" stroke-width="1.25" stroke-linejoin="round"/><path d="M1807.6,325.9C1809.3,325.9 1814.9,325.5 1818.2,325.9C1821.6,326.3 1824.9,328.4 1827.7,328.3C1830.4,328.2 1831.6,325.8 1834.8,325.4C1837.9,325.1 1841.4,324.7 1846.6,325.9C1851.7,327.2 1858.4,329.5 1865.5,333.0C1872.6,336.6 1881.2,342.5 1889.1,347.2C1897.0,351.9 1906.9,357.4 1912.8,361.4C1918.7,365.3 1918.7,368.1 1924.6,370.8C1930.5,373.6 1940.3,376.2 1948.2,377.9C1956.1,379.7 1964.8,381.5 1971.9,381.5C1979.0,381.5 1985.3,380.1 1990.8,377.9C1996.3,375.8 2001.8,372.4 2005.0,368.5C2008.1,364.5 2009.3,358.2 2009.7,354.3C2010.1,350.4 2009.3,348.4 2007.3,344.8C2005.4,341.3 2001.8,336.6 1997.9,333.0C1993.9,329.5 1986.8,325.9 1983.7,323.6C1980.5,321.2 1979.7,319.6 1979.0,318.8" fill="none" stroke="#5e4d52" stroke-width="1.25" stroke-linejoin="round"/><path d="M1865.5,299.9C1864.9,301.1 1862.3,304.6 1861.9,307.0C1861.5,309.4 1861.7,312.1 1863.1,314.1C1864.5,316.1 1865.9,317.1 1870.2,318.8C1874.5,320.6 1882.8,322.8 1889.1,324.7C1895.4,326.7 1902.1,328.5 1908.0,330.7C1913.9,332.8 1919.9,335.0 1924.6,337.7C1929.3,340.5 1932.5,344.4 1936.4,347.2C1940.3,350.0 1943.5,352.1 1948.2,354.3C1953.0,356.5 1958.9,358.7 1964.8,360.2C1970.7,361.7 1978.2,362.9 1983.7,363.3C1989.2,363.7 1993.7,363.5 1997.9,362.6C2002.0,361.7 2006.7,358.6 2008.5,357.8" fill="none" stroke="#5e4d52" stroke-width="1.25" stroke-linejoin="round"/><path d="M1865.5,299.9C1867.8,299.7 1874.5,298.3 1879.7,298.7C1884.8,299.1 1890.7,300.5 1896.2,302.3C1901.7,304.1 1907.6,306.6 1912.8,309.4C1917.9,312.1 1923.0,316.7 1927.0,318.8C1930.9,321.0 1931.7,321.8 1936.4,322.4C1941.1,323.0 1952.2,322.4 1955.3,322.4" fill="none" stroke="#5e4d52" stroke-width="1.25" stroke-linejoin="round"/><path d="M1814.7,306.5C1815.2,307.2 1817.6,308.9 1818.2,310.6C1818.8,312.2 1818.4,314.3 1818.2,316.5C1818.0,318.6 1818.8,322.0 1817.0,323.6C1815.2,325.1 1809.1,325.5 1807.6,325.9" fill="none" stroke="#5e4d52" stroke-width="1.25" stroke-linejoin="round"/><polygon points="1850.1,300.2 1847.3,302.9 1843.5,302.9 1840.7,300.2 1840.7,296.3 1843.5,293.6 1847.3,293.6 1850.1,296.3" fill="#f7b43a" stroke="#2a1c20" stroke-width="0.9"/><polygon points="1858.8,297.6 1856.1,300.3 1852.2,300.3 1849.5,297.6 1849.5,293.7 1852.2,291.0 1856.1,291.0 1858.8,293.7" fill="#f7b43a" stroke="#2a1c20" stroke-width="0.9"/><polygon points="1869.0,297.6 1866.2,300.3 1862.4,300.3 1859.6,297.6 1859.6,293.7 1862.4,291.0 1866.2,291.0 1869.0,293.7" fill="#f7b43a" stroke="#2a1c20" stroke-width="0.9"/><polygon points="1848.4,310.8 1845.7,313.6 1841.8,313.6 1839.1,310.8 1839.1,307.0 1841.8,304.2 1845.7,304.2 1848.4,307.0" fill="#5b7bbf" stroke="#2a1c20" stroke-width="0.9"/><polygon points="1886.7,289.6 1884.0,292.3 1880.1,292.3 1877.4,289.6 1877.4,285.7 1880.1,283.0 1884.0,283.0 1886.7,285.7" fill="#5b7bbf" stroke="#2a1c20" stroke-width="0.9"/><polygon points="1887.4,299.5 1884.7,302.2 1880.8,302.2 1878.1,299.5 1878.1,295.6 1880.8,292.9 1884.7,292.9 1887.4,295.6" fill="#5b7bbf" stroke="#2a1c20" stroke-width="0.9"/><polygon points="1893.3,303.0 1890.6,305.8 1886.7,305.8 1884.0,303.0 1884.0,299.2 1886.7,296.4 1890.6,296.4 1893.3,299.2" fill="#f7b43a" stroke="#2a1c20" stroke-width="0.9"/><rect x="1893.7" y="286.7" width="9.8" height="9.8" rx="1.5" fill="#f7b43a" stroke="#2a1c20" stroke-width="0.9"/><polygon points="1909.9,295.9 1907.1,298.7 1903.3,298.7 1900.5,295.9 1900.5,292.1 1903.3,289.3 1907.1,289.3 1909.9,292.1" fill="#5b7bbf" stroke="#2a1c20" stroke-width="0.9"/><polygon points="1917.0,297.6 1914.2,300.3 1910.4,300.3 1907.6,297.6 1907.6,293.7 1910.4,291.0 1914.2,291.0 1917.0,293.7" fill="#5b7bbf" stroke="#2a1c20" stroke-width="0.9"/><polygon points="1920.3,294.3 1917.5,297.0 1913.7,297.0 1910.9,294.3 1910.9,290.4 1913.7,287.7 1917.5,287.7 1920.3,290.4" fill="#5b7bbf" stroke="#2a1c20" stroke-width="0.9"/><rect x="1917.3" y="288.4" width="9.8" height="9.8" rx="1.5" fill="#5b7bbf" stroke="#2a1c20" stroke-width="0.9"/><rect x="1925.6" y="289.1" width="9.8" height="9.8" rx="1.5" fill="#a8352c" stroke="#2a1c20" stroke-width="0.9"/><polygon points="1935.9,301.8 1933.1,304.6 1929.3,304.6 1926.5,301.8 1926.5,298.0 1929.3,295.3 1933.1,295.3 1935.9,298.0" fill="#a8352c" stroke="#2a1c20" stroke-width="0.9"/><polygon points="1942.3,299.5 1939.5,302.2 1935.7,302.2 1932.9,299.5 1932.9,295.6 1935.7,292.9 1939.5,292.9 1942.3,295.6" fill="#f7b43a" stroke="#2a1c20" stroke-width="0.9"/><rect x="1924.9" y="302.1" width="9.8" height="9.8" rx="1.5" fill="#a8352c" stroke="#2a1c20" stroke-width="0.9"/><polygon points="1925.0,306.1 1922.3,308.8 1918.4,308.8 1915.7,306.1 1915.7,302.2 1918.4,299.5 1922.3,299.5 1925.0,302.2" fill="#5b7bbf" stroke="#2a1c20" stroke-width="0.9"/><polygon points="1909.4,311.8 1906.7,314.5 1902.8,314.5 1900.1,311.8 1900.1,307.9 1902.8,305.2 1906.7,305.2 1909.4,307.9" fill="#5b7bbf" stroke="#2a1c20" stroke-width="0.9"/><polygon points="1917.9,319.6 1915.2,322.3 1911.3,322.3 1908.6,319.6 1908.6,315.7 1911.3,313.0 1915.2,313.0 1917.9,315.7" fill="#5b7bbf" stroke="#2a1c20" stroke-width="0.9"/><polygon points="1932.3,321.2 1929.6,324.0 1925.7,324.0 1923.0,321.2 1923.0,317.4 1925.7,314.6 1929.6,314.6 1932.3,317.4" fill="#5b7bbf" stroke="#2a1c20" stroke-width="0.9"/><polygon points="1942.3,323.1 1939.5,325.9 1935.7,325.9 1932.9,323.1 1932.9,319.3 1935.7,316.5 1939.5,316.5 1942.3,319.3" fill="#a8352c" stroke="#2a1c20" stroke-width="0.9"/><rect x="1951.6" y="306.8" width="9.8" height="9.8" rx="1.5" fill="#5b7bbf" stroke="#2a1c20" stroke-width="0.9"/><polygon points="1961.9,319.6 1959.1,322.3 1955.3,322.3 1952.5,319.6 1952.5,315.7 1955.3,313.0 1959.1,313.0 1961.9,315.7" fill="#5b7bbf" stroke="#2a1c20" stroke-width="0.9"/><polygon points="1968.3,301.8 1965.5,304.6 1961.7,304.6 1958.9,301.8 1958.9,298.0 1961.7,295.3 1965.5,295.3 1968.3,298.0" fill="#f7b43a" stroke="#2a1c20" stroke-width="0.9"/><polygon points="1978.9,314.9 1976.2,317.6 1972.3,317.6 1969.6,314.9 1969.6,311.0 1972.3,308.3 1976.2,308.3 1978.9,311.0" fill="#a8352c" stroke="#2a1c20" stroke-width="0.9"/><polygon points="1979.4,324.3 1976.6,327.0 1972.8,327.0 1970.0,324.3 1970.0,320.4 1972.8,317.7 1976.6,317.7 1979.4,320.4" fill="#a8352c" stroke="#2a1c20" stroke-width="0.9"/><rect x="1963.9" y="296.9" width="9.8" height="9.8" rx="1.5" fill="#5b7bbf" stroke="#2a1c20" stroke-width="0.9"/><polygon points="1973.7,310.1 1971.0,312.9 1967.1,312.9 1964.4,310.1 1964.4,306.3 1967.1,303.5 1971.0,303.5 1973.7,306.3" fill="#5b7bbf" stroke="#2a1c20" stroke-width="0.9"/><polygon points="1974.2,316.0 1971.4,318.8 1967.6,318.8 1964.8,316.0 1964.8,312.2 1967.6,309.4 1971.4,309.4 1974.2,312.2" fill="#5b7bbf" stroke="#2a1c20" stroke-width="0.9"/><polygon points="1974.2,323.1 1971.4,325.9 1967.6,325.9 1964.8,323.1 1964.8,319.3 1967.6,316.5 1971.4,316.5 1974.2,319.3" fill="#5b7bbf" stroke="#2a1c20" stroke-width="0.9"/><rect x="1965.1" y="323.4" width="9.8" height="9.8" rx="1.5" fill="#5b7bbf" stroke="#2a1c20" stroke-width="0.9"/><polygon points="1964.7,332.1 1962.0,334.8 1958.1,334.8 1955.4,332.1 1955.4,328.2 1958.1,325.5 1962.0,325.5 1964.7,328.2" fill="#a8352c" stroke="#2a1c20" stroke-width="0.9"/><polygon points="1928.1,339.0 1925.3,341.7 1921.5,341.7 1918.7,339.0 1918.7,335.1 1921.5,332.4 1925.3,332.4 1928.1,335.1" fill="#a8352c" stroke="#2a1c20" stroke-width="0.9"/><polygon points="1936.3,347.2 1933.6,350.0 1929.7,350.0 1927.0,347.2 1927.0,343.4 1929.7,340.6 1933.6,340.6 1936.3,343.4" fill="#a8352c" stroke="#2a1c20" stroke-width="0.9"/><polygon points="1928.1,350.8 1925.3,353.5 1921.5,353.5 1918.7,350.8 1918.7,346.9 1921.5,344.2 1925.3,344.2 1928.1,346.9" fill="#a8352c" stroke="#2a1c20" stroke-width="0.9"/><polygon points="1886.2,347.2 1883.5,350.0 1879.6,350.0 1876.9,347.2 1876.9,343.4 1879.6,340.6 1883.5,340.6 1886.2,343.4" fill="#5b7bbf" stroke="#2a1c20" stroke-width="0.9"/><rect x="1967.0" y="352.2" width="9.8" height="9.8" rx="1.5" fill="#5b7bbf" stroke="#2a1c20" stroke-width="0.9"/><rect x="1967.0" y="359.3" width="9.8" height="9.8" rx="1.5" fill="#5b7bbf" stroke="#2a1c20" stroke-width="0.9"/><polygon points="1976.5,375.6 1973.8,378.3 1969.9,378.3 1967.2,375.6 1967.2,371.7 1969.9,369.0 1973.8,369.0 1976.5,371.7" fill="#a8352c" stroke="#2a1c20" stroke-width="0.9"/><polygon points="1934.0,369.9 1931.2,372.7 1927.4,372.7 1924.7,369.9 1924.7,366.1 1927.4,363.3 1931.2,363.3 1934.0,366.1" fill="#a8352c" stroke="#2a1c20" stroke-width="0.9"/></g>
<rect x="1749.2" y="478.4" width="104" height="70.9" fill="none" stroke="#6b5a5f" stroke-width="1.3"/>
<use href="#ins3" transform="translate(1026.6,380.4) scale(0.4)"/>
<text x="0.0" y="813.0" font-size="49.2" fill="#231418">b. Firing Pattern</text>
<text x="381.0" y="874.0" font-size="36" fill="#231418">irregular</text>
<text x="1127.0" y="864.0" font-size="36" fill="#231418">burst</text>
<path d="M92.5,948.3V1248.4M101.5,943.0V1235.3M114.5,954.7V1245.0M118.5,932.4V1233.4M120.5,957.6V1256.8M124.5,937.8V1250.3M128.5,940.5V1255.1M138.5,937.5V1254.4M146.5,940.9V1254.4M152.5,926.9V1250.9M166.5,935.3V1239.7M172.5,929.3V1251.5M174.5,944.1V1231.9M177.5,930.2V1252.5M182.5,950.1V1234.0M190.5,937.6V1245.0M196.5,930.0V1237.7M200.5,942.8V1246.3M214.5,928.1V1253.4M220.5,939.9V1231.4M228.5,945.0V1255.6M246.5,947.9V1242.3M258.5,935.1V1243.6M274.5,953.6V1238.7M278.5,951.0V1252.8M284.5,934.5V1244.1M292.5,958.0V1233.9M298.5,944.3V1246.3M302.5,957.0V1252.1M304.5,940.0V1254.6M316.5,938.4V1239.2M320.5,946.0V1256.3M322.5,955.4V1248.0M325.5,948.4V1247.8M328.5,946.8V1237.1M331.5,937.2V1242.7M333.5,940.8V1239.1M336.5,937.9V1251.0M342.5,945.3V1238.7M347.5,943.4V1251.7M353.5,954.3V1251.5M356.5,938.9V1231.9M366.5,944.8V1248.1M372.5,945.7V1246.8M375.5,934.4V1241.6M378.5,934.6V1239.1M380.5,934.9V1244.0M384.5,936.9V1232.7M392.5,950.1V1235.0M396.5,933.7V1240.2M398.5,933.7V1241.6M400.5,931.5V1236.9M402.5,954.5V1245.3M405.5,931.4V1224.6M410.5,934.2V1245.4M412.5,931.5V1225.2M418.5,942.9V1234.8M426.5,946.0V1226.4M428.5,953.7V1244.9M436.5,950.8V1244.7M448.5,934.5V1232.7M456.5,952.7V1246.3M466.5,950.4V1241.0M491.5,959.3V1232.9M507.5,944.6V1245.7M510.5,957.2V1251.2M512.5,961.9V1248.7M518.5,957.8V1254.6M532.5,943.7V1239.6M536.5,947.1V1246.7M538.5,962.4V1249.6M544.5,950.7V1255.4M546.5,948.5V1258.2M554.5,961.4V1250.9M556.5,941.9V1244.4M558.5,957.8V1251.8M566.5,953.5V1262.8M570.5,943.8V1264.1M575.5,955.0V1253.9M580.5,951.2V1243.1M586.5,950.5V1263.3M588.5,937.0V1252.1M596.5,955.4V1248.2M598.5,953.6V1250.5M604.5,945.7V1250.2M608.5,948.5V1237.0M612.5,954.9V1260.0M624.5,944.3V1240.5M627.5,938.3V1235.9M636.5,939.1V1246.7M641.5,940.0V1254.2M646.5,942.0V1240.2M655.5,954.7V1249.0M665.5,933.4V1250.4M674.5,951.4V1247.7" stroke="#b0aab0" stroke-width="1.9" fill="none"/>
<path d="M104.5,951.1V1248.1M112.5,948.8V1252.0M126.5,932.6V1250.3M142.5,948.8V1233.6M157.5,952.2V1243.9M184.5,936.0V1251.4M198.5,928.0V1231.9M204.5,941.3V1252.5M212.5,952.6V1230.8M222.5,950.3V1244.4M230.5,937.4V1254.3M239.5,954.8V1233.4M287.5,940.2V1252.0M314.5,939.7V1253.2M338.5,939.4V1241.6M370.5,934.6V1239.4M390.5,932.0V1226.5M416.5,931.3V1226.1M424.5,941.8V1243.0M439.5,935.3V1233.3M446.5,933.1V1234.6M472.5,939.0V1244.1M484.5,953.5V1237.9M501.5,956.6V1236.2M534.5,947.9V1263.1M552.5,942.6V1240.9M578.5,951.6V1259.3M602.5,942.4V1257.5M610.5,941.1V1235.5M644.5,943.7V1251.3M649.5,943.6V1254.1M678.5,948.5V1227.2" stroke="#888088" stroke-width="1.9" fill="none"/>
<path d="M96.5,947.8V1255.7M98.5,948.0V1249.2M107.5,951.1V1248.3M109.5,955.4V1233.7M130.5,935.7V1254.2M132.5,955.1V1240.1M136.5,934.3V1247.1M140.5,932.0V1247.6M148.5,944.0V1231.7M154.5,934.6V1251.4M159.5,951.9V1233.7M162.5,934.5V1235.8M164.5,931.2V1244.5M168.5,947.1V1231.4M180.5,927.1V1229.1M186.5,929.7V1246.6M192.5,932.5V1251.9M194.5,927.1V1238.8M206.5,944.3V1253.6M208.5,928.3V1230.5M218.5,947.9V1253.0M226.5,938.0V1230.0M234.5,940.6V1251.9M236.5,930.3V1245.9M242.5,954.2V1237.3M244.5,934.3V1246.6M248.5,941.6V1237.5M251.5,954.3V1241.1M253.5,937.1V1234.7M255.5,950.4V1256.0M261.5,942.5V1245.0M264.5,954.7V1257.1M266.5,954.6V1238.9M269.5,951.7V1246.6M272.5,934.0V1235.3M276.5,959.4V1234.8M281.5,939.3V1253.3M290.5,947.4V1257.7M296.5,944.6V1243.3M300.5,946.6V1248.4M306.5,948.3V1251.7M310.5,956.5V1240.0M312.5,943.0V1241.7M340.5,945.2V1244.2M344.5,934.8V1230.5M350.5,938.1V1239.8M358.5,933.8V1247.0M360.5,934.2V1226.8M364.5,939.2V1242.3M386.5,948.8V1229.4M408.5,952.3V1236.1M420.5,946.1V1224.8M432.5,955.3V1239.0M434.5,956.7V1245.3M441.5,952.1V1244.8M444.5,937.4V1245.9M450.5,942.4V1243.0M453.5,936.0V1239.5M458.5,937.8V1229.5M461.5,945.7V1228.4M464.5,936.1V1234.2M468.5,958.5V1230.7M474.5,947.4V1253.3M476.5,960.0V1243.4M480.5,962.8V1240.7M482.5,946.7V1244.0M486.5,939.9V1250.9M489.5,943.6V1250.9M493.5,942.0V1255.5M496.5,946.9V1252.1M498.5,965.0V1251.5M504.5,944.2V1256.1M514.5,960.9V1241.4M516.5,962.2V1251.7M521.5,958.4V1255.7M524.5,955.0V1253.4M527.5,943.0V1238.4M530.5,942.6V1238.1M542.5,952.9V1257.6M550.5,951.8V1248.3M560.5,946.8V1242.7M564.5,947.6V1262.5M568.5,949.8V1259.8M573.5,944.2V1248.2M582.5,957.3V1244.1M590.5,943.7V1244.8M592.5,936.9V1254.0M615.5,940.9V1235.0M618.5,955.0V1240.7M621.5,940.6V1238.2M630.5,953.8V1252.0M633.5,953.5V1232.8M639.5,945.0V1236.7M652.5,939.7V1234.4M657.5,946.5V1234.2M660.5,953.0V1239.2M663.5,945.3V1231.2M668.5,946.3V1252.2M670.5,931.3V1240.9M676.5,939.4V1241.4" stroke="#655d65" stroke-width="1.9" fill="none"/>
<path d="M92.5,1034.3 L96.5,1033.5 L100.5,1034.1 L104.5,1034.0 L108.5,1033.2 L112.5,1032.2 L116.5,1033.8 L120.5,1033.3 L124.5,1035.7 L128.5,1035.3 L132.5,1033.7 L136.5,1034.8 L140.5,1035.8 L144.5,1030.9 L148.5,1033.6 L152.5,1032.4 L156.5,1029.6 L160.5,1033.8 L164.5,1033.5 L168.5,1033.1 L172.5,1033.6 L176.5,1034.8 L180.5,1034.7 L184.5,1037.2 L188.5,1038.0 L192.5,1036.3 L196.5,1035.9 L200.5,1031.6 L204.5,1033.6 L208.5,1030.6 L212.5,1033.7 L216.5,1030.2 L220.5,1031.1 L224.5,1033.2 L228.5,1036.6 L232.5,1035.3 L236.5,1037.2 L240.5,1035.4 L244.5,1035.4 L248.5,1034.7 L252.5,1036.8 L256.5,1034.4 L260.5,1030.4 L264.5,1031.4 L268.5,1030.0 L272.5,1032.2 L276.5,1034.3 L280.5,1031.8 L284.5,1036.4 L288.5,1034.5 L292.5,1034.0 L296.5,1038.4 L300.5,1036.9 L304.5,1033.8 L308.5,1035.2 L312.5,1031.6 L316.5,1033.2 L320.5,1031.4 L324.5,1031.3 L328.5,1030.3 L332.5,1030.8 L336.5,1033.6 L340.5,1034.6 L344.5,1037.1 L348.5,1037.3 L352.5,1034.1 L356.5,1034.8 L360.5,1034.1 L364.5,1036.3 L368.5,1034.0 L372.5,1030.6 L376.5,1034.8 L380.5,1032.8 L384.5,1033.0 L388.5,1032.0 L392.5,1034.8 L396.5,1032.6 L400.5,1033.2 L404.5,1036.0 L408.5,1036.1 L412.5,1036.3 L416.5,1036.2 L420.5,1035.6 L424.5,1036.2 L428.5,1032.9 L432.5,1033.0 L436.5,1033.3 L440.5,1032.0 L444.5,1034.2 L448.5,1032.7 L452.5,1034.4 L456.5,1035.0 L460.5,1035.2 L464.5,1035.1 L468.5,1037.1 L472.5,1036.7 L476.5,1036.2 L480.5,1034.5 L484.5,1031.3 L488.5,1032.5 L492.5,1029.8 L496.5,1032.2 L500.5,1031.4 L504.5,1031.7 L508.5,1036.0 L512.5,1035.6 L516.5,1035.1 L520.5,1034.5 L524.5,1036.3 L528.5,1033.6 L532.5,1033.1 L536.5,1036.4 L540.5,1032.0 L544.5,1031.7 L548.5,1034.1 L552.5,1031.5 L556.5,1032.7 L560.5,1030.6 L564.5,1032.8 L568.5,1036.8 L572.5,1035.3 L576.5,1034.9 L580.5,1038.0 L584.5,1037.4 L588.5,1035.0 L592.5,1036.2 L596.5,1031.9 L600.5,1031.1 L604.5,1029.9 L608.5,1033.1 L612.5,1034.3 L616.5,1033.9 L620.5,1034.6 L624.5,1034.3 L628.5,1033.9 L632.5,1036.9 L636.5,1034.4 L640.5,1036.6 L644.5,1034.6 L648.5,1036.3 L652.5,1032.2 L656.5,1034.9 L660.5,1031.1 L664.5,1029.9 L668.5,1031.9 L672.5,1032.9 L676.5,1034.0 L676.5,1097.3 L672.5,1095.4 L668.5,1096.9 L664.5,1098.3 L660.5,1096.0 L656.5,1095.8 L652.5,1094.1 L648.5,1096.0 L644.5,1097.1 L640.5,1098.6 L636.5,1096.7 L632.5,1097.1 L628.5,1098.0 L624.5,1096.8 L620.5,1100.7 L616.5,1095.9 L612.5,1098.7 L608.5,1095.1 L604.5,1093.4 L600.5,1096.9 L596.5,1095.7 L592.5,1098.0 L588.5,1094.6 L584.5,1096.3 L580.5,1096.4 L576.5,1100.7 L572.5,1097.5 L568.5,1101.3 L564.5,1098.5 L560.5,1099.9 L556.5,1094.7 L552.5,1095.4 L548.5,1097.0 L544.5,1092.9 L540.5,1094.0 L536.5,1092.9 L532.5,1096.3 L528.5,1098.4 L524.5,1099.8 L520.5,1099.7 L516.5,1100.5 L512.5,1100.8 L508.5,1101.0 L504.5,1095.8 L500.5,1096.6 L496.5,1095.0 L492.5,1096.5 L488.5,1094.6 L484.5,1094.8 L480.5,1093.2 L476.5,1095.0 L472.5,1097.3 L468.5,1099.7 L464.5,1096.2 L460.5,1100.9 L456.5,1099.1 L452.5,1100.7 L448.5,1097.7 L444.5,1099.0 L440.5,1098.8 L436.5,1096.9 L432.5,1096.1 L428.5,1094.6 L424.5,1095.8 L420.5,1094.1 L416.5,1094.4 L412.5,1096.7 L408.5,1097.2 L404.5,1097.2 L400.5,1098.4 L396.5,1098.6 L392.5,1095.8 L388.5,1097.8 L384.5,1097.7 L380.5,1094.7 L376.5,1097.4 L372.5,1093.4 L368.5,1093.1 L364.5,1094.2 L360.5,1096.9 L356.5,1099.4 L352.5,1099.9 L348.5,1099.3 L344.5,1101.5 L340.5,1097.6 L336.5,1098.6 L332.5,1099.5 L328.5,1099.0 L324.5,1095.6 L320.5,1097.4 L316.5,1096.0 L312.5,1093.9 L308.5,1094.2 L304.5,1098.7 L300.5,1099.0 L296.5,1098.2 L292.5,1099.8 L288.5,1099.0 L284.5,1099.1 L280.5,1099.7 L276.5,1098.2 L272.5,1098.2 L268.5,1095.3 L264.5,1096.0 L260.5,1094.2 L256.5,1095.7 L252.5,1097.0 L248.5,1097.3 L244.5,1094.8 L240.5,1097.2 L236.5,1100.3 L232.5,1099.7 L228.5,1098.5 L224.5,1096.3 L220.5,1095.8 L216.5,1095.5 L212.5,1096.5 L208.5,1094.9 L204.5,1096.1 L200.5,1093.1 L196.5,1093.5 L192.5,1095.4 L188.5,1097.4 L184.5,1097.1 L180.5,1097.1 L176.5,1099.8 L172.5,1098.1 L168.5,1098.7 L164.5,1096.8 L160.5,1095.5 L156.5,1098.6 L152.5,1095.2 L148.5,1093.7 L144.5,1094.4 L140.5,1096.2 L136.5,1098.4 L132.5,1096.4 L128.5,1098.8 L124.5,1099.6 L120.5,1098.0 L116.5,1098.0 L112.5,1100.3 L108.5,1098.1 L104.5,1095.6 L100.5,1094.2 L96.5,1095.1 L92.5,1094.1Z" fill="#716a71"/>
<path d="M102.5,1025V1102M118.3,1025V1102M134.1,1025V1102M149.9,1025V1102M165.7,1025V1102M181.5,1025V1102M197.3,1025V1102M213.1,1025V1102M228.9,1025V1102M244.7,1025V1102M260.5,1025V1102M276.3,1025V1102M292.1,1025V1102M307.9,1025V1102M323.7,1025V1102M339.5,1025V1102M355.3,1025V1102M371.1,1025V1102M386.9,1025V1102M402.7,1025V1102M418.5,1025V1102M434.3,1025V1102M450.1,1025V1102M465.9,1025V1102M481.7,1025V1102M497.5,1025V1102M513.3,1025V1102M529.1,1025V1102M544.9,1025V1102M560.7,1025V1102M576.5,1025V1102M592.3,1025V1102M608.1,1025V1102M623.9,1025V1102M639.7,1025V1102M655.5,1025V1102M671.3,1025V1102" stroke="#f4f2f4" stroke-width="1" fill="none"/>
<path d="M91,878V1282.5H681" stroke="#4a3a40" stroke-width="1.2" fill="none"/>
<path d="M86.0,881.2H91M86.0,885.7H91M86.0,890.2H91M86.0,894.7H91M84.4,899.2H91M86.0,903.8H91M86.0,908.3H91M86.0,912.8H91M86.0,917.3H91M86.0,921.8H91M86.0,926.3H91M86.0,930.8H91M86.0,935.3H91M86.0,939.8H91M84.4,944.3H91M86.0,948.8H91M86.0,953.3H91M86.0,957.8H91M86.0,962.3H91M86.0,966.8H91M86.0,971.3H91M86.0,975.8H91M86.0,980.3H91M86.0,984.8H91M84.4,989.3H91M86.0,993.9H91M86.0,998.4H91M86.0,1002.9H91M86.0,1007.4H91M86.0,1011.9H91M86.0,1016.4H91M86.0,1020.9H91M86.0,1025.4H91M86.0,1029.9H91M84.4,1034.4H91M86.0,1038.9H91M86.0,1043.4H91M86.0,1047.9H91M86.0,1052.4H91M86.0,1056.9H91M86.0,1061.4H91M86.0,1065.9H91M86.0,1070.4H91M86.0,1074.9H91M84.4,1079.5H91M86.0,1084.0H91M86.0,1088.5H91M86.0,1093.0H91M86.0,1097.5H91M86.0,1102.0H91M86.0,1106.5H91M86.0,1111.0H91M86.0,1115.5H91M86.0,1120.0H91M84.4,1124.5H91M86.0,1129.0H91M86.0,1133.5H91M86.0,1138.0H91M86.0,1142.5H91M86.0,1147.0H91M86.0,1151.5H91M86.0,1156.0H91M86.0,1160.5H91M86.0,1165.0H91M84.4,1169.5H91M86.0,1174.1H91M86.0,1178.6H91M86.0,1183.1H91M86.0,1187.6H91M86.0,1192.1H91M86.0,1196.6H91M86.0,1201.1H91M86.0,1205.6H91M86.0,1210.1H91M84.4,1214.6H91M86.0,1219.1H91M86.0,1223.6H91M86.0,1228.1H91M86.0,1232.6H91M86.0,1237.1H91M86.0,1241.6H91M86.0,1246.1H91M86.0,1250.6H91M86.0,1255.1H91M84.4,1259.6H91M86.0,1264.2H91M86.0,1268.7H91M86.0,1273.2H91M86.0,1277.7H91M91.0,1282.5V1289.5M94.3,1282.5V1285.5M97.5,1282.5V1285.5M100.8,1282.5V1285.5M104.1,1282.5V1285.5M107.3,1282.5V1285.5M110.6,1282.5V1285.5M113.9,1282.5V1285.5M117.2,1282.5V1285.5M120.4,1282.5V1285.5M123.7,1282.5V1289.5M127.0,1282.5V1285.5M130.2,1282.5V1285.5M133.5,1282.5V1285.5M136.8,1282.5V1285.5M140.0,1282.5V1285.5M143.3,1282.5V1285.5M146.6,1282.5V1285.5M149.9,1282.5V1285.5M153.1,1282.5V1285.5M156.4,1282.5V1289.5M159.7,1282.5V1285.5M162.9,1282.5V1285.5M166.2,1282.5V1285.5M169.5,1282.5V1285.5M172.8,1282.5V1285.5M176.0,1282.5V1285.5M179.3,1282.5V1285.5M182.6,1282.5V1285.5M185.8,1282.5V1285.5M189.1,1282.5V1289.5M192.4,1282.5V1285.5M195.6,1282.5V1285.5M198.9,1282.5V1285.5M202.2,1282.5V1285.5M205.5,1282.5V1285.5M208.7,1282.5V1285.5M212.0,1282.5V1285.5M215.3,1282.5V1285.5M218.5,1282.5V1285.5M221.8,1282.5V1289.5M225.1,1282.5V1285.5M228.3,1282.5V1285.5M231.6,1282.5V1285.5M234.9,1282.5V1285.5M238.2,1282.5V1285.5M241.4,1282.5V1285.5M244.7,1282.5V1285.5M248.0,1282.5V1285.5M251.2,1282.5V1285.5M254.5,1282.5V1289.5M257.8,1282.5V1285.5M261.0,1282.5V1285.5M264.3,1282.5V1285.5M267.6,1282.5V1285.5M270.9,1282.5V1285.5M274.1,1282.5V1285.5M277.4,1282.5V1285.5M280.7,1282.5V1285.5M283.9,1282.5V1285.5M287.2,1282.5V1289.5M290.5,1282.5V1285.5M293.7,1282.5V1285.5M297.0,1282.5V1285.5M300.3,1282.5V1285.5M303.6,1282.5V1285.5M306.8,1282.5V1285.5M310.1,1282.5V1285.5M313.4,1282.5V1285.5M316.6,1282.5V1285.5M319.9,1282.5V1289.5M323.2,1282.5V1285.5M326.4,1282.5V1285.5M329.7,1282.5V1285.5M333.0,1282.5V1285.5M336.2,1282.5V1285.5M339.5,1282.5V1285.5M342.8,1282.5V1285.5M346.1,1282.5V1285.5M349.3,1282.5V1285.5M352.6,1282.5V1289.5M355.9,1282.5V1285.5M359.1,1282.5V1285.5M362.4,1282.5V1285.5M365.7,1282.5V1285.5M368.9,1282.5V1285.5M372.2,1282.5V1285.5M375.5,1282.5V1285.5M378.8,1282.5V1285.5M382.0,1282.5V1285.5M385.3,1282.5V1289.5M388.6,1282.5V1285.5M391.8,1282.5V1285.5M395.1,1282.5V1285.5M398.4,1282.5V1285.5M401.6,1282.5V1285.5M404.9,1282.5V1285.5M408.2,1282.5V1285.5M411.5,1282.5V1285.5M414.7,1282.5V1285.5M418.0,1282.5V1289.5M421.3,1282.5V1285.5M424.5,1282.5V1285.5M427.8,1282.5V1285.5M431.1,1282.5V1285.5M434.3,1282.5V1285.5M437.6,1282.5V1285.5M440.9,1282.5V1285.5M444.2,1282.5V1285.5M447.4,1282.5V1285.5M450.7,1282.5V1289.5M454.0,1282.5V1285.5M457.2,1282.5V1285.5M460.5,1282.5V1285.5M463.8,1282.5V1285.5M467.0,1282.5V1285.5M470.3,1282.5V1285.5M473.6,1282.5V1285.5M476.9,1282.5V1285.5M480.1,1282.5V1285.5M483.4,1282.5V1289.5M486.7,1282.5V1285.5M489.9,1282.5V1285.5M493.2,1282.5V1285.5M496.5,1282.5V1285.5M499.7,1282.5V1285.5M503.0,1282.5V1285.5M506.3,1282.5V1285.5M509.6,1282.5V1285.5M512.8,1282.5V1285.5M516.1,1282.5V1289.5M519.4,1282.5V1285.5M522.6,1282.5V1285.5M525.9,1282.5V1285.5M529.2,1282.5V1285.5M532.4,1282.5V1285.5M535.7,1282.5V1285.5M539.0,1282.5V1285.5M542.3,1282.5V1285.5M545.5,1282.5V1285.5M548.8,1282.5V1289.5M552.1,1282.5V1285.5M555.3,1282.5V1285.5M558.6,1282.5V1285.5M561.9,1282.5V1285.5M565.1,1282.5V1285.5M568.4,1282.5V1285.5M571.7,1282.5V1285.5M575.0,1282.5V1285.5M578.2,1282.5V1285.5M581.5,1282.5V1289.5M584.8,1282.5V1285.5M588.0,1282.5V1285.5M591.3,1282.5V1285.5M594.6,1282.5V1285.5M597.8,1282.5V1285.5M601.1,1282.5V1285.5M604.4,1282.5V1285.5M607.7,1282.5V1285.5M610.9,1282.5V1285.5M614.2,1282.5V1289.5M617.5,1282.5V1285.5M620.7,1282.5V1285.5M624.0,1282.5V1285.5M627.3,1282.5V1285.5M630.5,1282.5V1285.5M633.8,1282.5V1285.5M637.1,1282.5V1285.5M640.4,1282.5V1285.5M643.6,1282.5V1285.5M646.9,1282.5V1289.5M650.2,1282.5V1285.5M653.4,1282.5V1285.5M656.7,1282.5V1285.5M660.0,1282.5V1285.5M663.2,1282.5V1285.5M666.5,1282.5V1285.5M669.8,1282.5V1285.5M673.1,1282.5V1285.5M676.3,1282.5V1285.5M679.6,1282.5V1289.5" stroke="#4a3a40" stroke-width="0.9" fill="none"/>
<path d="M71.3,1257.5V1301H104" stroke="#4a3a40" stroke-width="1.3" fill="none"/>
<text x="66.5" y="1317.0" font-size="18" fill="#231418">5 sec</text>
<text x="66.0" y="1299.0" font-size="17.5" fill="#231418" transform="rotate(-90 66.0 1299.0)">0.1 µV</text>
<path d="M841.7,933.0V1257.4M844.6,942.1V1257.3M850.0,915.9V1245.5M854.6,928.5V1236.1M858.2,923.1V1264.9M874.0,943.3V1263.0M876.2,942.7V1248.7M876.9,921.0V1266.0M884.8,942.8V1263.9M894.1,917.0V1238.4M897.3,915.2V1254.6M906.3,924.0V1260.7M940.4,924.8V1262.4M946.1,936.7V1257.8M949.7,940.9V1251.2M951.5,940.2V1280.6M955.8,925.8V1264.1M961.2,919.6V1272.9M963.0,938.5V1244.8M966.6,919.2V1256.8M973.0,939.9V1256.8M975.6,930.6V1255.7M995.3,918.1V1282.3M997.1,927.1V1252.8M999.6,937.6V1261.4M1006.8,935.3V1280.9M1009.6,936.7V1247.6M1015.0,920.6V1276.7M1016.8,928.3V1282.8M1019.7,941.4V1261.3M1026.9,935.2V1262.3M1031.2,927.0V1249.2M1035.5,941.7V1281.3M1052.7,923.7V1274.3M1058.1,926.0V1274.4M1069.9,929.1V1285.2M1071.4,919.0V1286.6M1073.5,922.7V1289.0M1077.1,916.9V1295.3M1080.7,925.6V1261.8M1083.2,915.6V1285.4M1086.1,932.8V1284.6M1088.6,918.5V1284.4M1091.4,933.2V1273.9M1096.5,934.4V1286.0M1101.1,937.1V1279.9M1102.2,913.0V1291.4M1104.0,922.5V1286.1M1106.5,930.2V1267.5M1109.4,925.6V1285.2M1111.9,926.9V1289.1M1152.4,913.8V1262.6M1156.7,919.5V1283.3M1172.2,920.3V1271.3M1174.0,911.4V1291.2M1180.1,924.5V1273.5M1187.2,937.1V1290.7M1201.6,932.7V1284.4M1202.7,912.2V1282.7M1208.8,937.1V1296.1M1216.0,911.2V1281.6M1219.5,912.2V1283.9M1224.9,916.8V1296.2M1228.5,937.2V1294.1M1232.8,915.8V1296.5M1235.7,920.6V1272.8M1239.3,922.9V1271.6M1244.7,911.6V1283.6M1255.4,916.8V1289.4M1272.6,908.3V1280.4M1279.8,916.1V1266.9M1285.2,916.9V1283.2M1287.7,927.6V1283.0M1291.3,911.5V1288.6M1297.8,924.2V1273.4M1304.6,924.1V1278.0M1315.3,915.6V1277.7M1332.6,931.6V1276.7M1334.4,929.5V1284.0M1337.2,935.7V1275.2M1352.3,933.9V1268.4M1355.9,933.2V1263.7M1386.4,929.1V1276.9M1392.8,922.5V1281.0" stroke="#a19ba1" stroke-width="1.3" fill="none"/>
<path d="M851.8,933.7V1264.2M856.4,931.6V1226.0M865.0,919.7V1259.8M869.7,932.8V1230.9M871.5,940.1V1234.5M886.2,925.5V1232.6M942.2,918.3V1281.9M944.3,935.7V1276.7M947.9,917.1V1245.2M979.1,921.3V1246.5M985.2,934.2V1282.7M1001.4,918.3V1279.6M1004.3,929.3V1276.5M1040.9,929.4V1256.8M1116.2,929.9V1262.3M1129.8,921.4V1284.7M1135.2,928.8V1284.0M1138.8,922.3V1269.5M1149.6,912.0V1272.7M1171.1,915.2V1293.7M1177.2,909.0V1283.3M1210.6,918.6V1293.4M1222.1,919.4V1276.8M1275.2,936.4V1289.4M1310.0,930.6V1282.5M1330.1,935.0V1280.9M1390.0,931.7V1294.0" stroke="#5e565e" stroke-width="1.3" fill="none"/>
<path d="M840.5,1034.3 L842.1,1035.7 L843.7,1032.9 L845.3,1037.0 L846.9,1036.1 L848.5,1036.5 L850.1,1038.0 L851.7,1032.8 L853.3,1033.7 L854.9,1037.7 L856.5,1033.2 L858.1,1037.5 L859.7,1035.9 L861.3,1033.4 L862.9,1032.7 L864.5,1034.6 L866.1,1032.8 L867.7,1036.6 L869.3,1033.2 L870.9,1034.2 L872.5,1035.2 L874.1,1034.6 L875.7,1036.3 L877.3,1036.0 L878.9,1037.5 L880.5,1035.9 L882.1,1035.5 L883.7,1036.6 L885.3,1033.2 L886.9,1034.5 L888.5,1033.5 L890.1,1036.1 L891.7,1036.2 L893.3,1033.2 L894.9,1033.8 L896.5,1035.1 L898.1,1036.9 L899.7,1036.5 L901.3,1033.3 L902.9,1036.2 L904.5,1033.1 L906.1,1036.2 L907.7,1033.3 L909.3,1034.4 L910.9,1034.3 L912.5,1034.4 L914.1,1033.3 L915.7,1036.1 L917.3,1034.9 L918.9,1035.3 L920.5,1035.7 L922.1,1034.7 L923.7,1032.7 L925.3,1032.7 L926.9,1035.1 L928.5,1032.5 L930.1,1037.4 L931.7,1034.9 L933.3,1033.0 L934.9,1033.4 L936.5,1034.6 L938.1,1033.3 L939.7,1034.0 L941.3,1034.1 L942.9,1035.2 L944.5,1037.6 L946.1,1037.7 L947.7,1036.2 L949.3,1037.7 L950.9,1036.2 L952.5,1036.2 L954.1,1033.4 L955.7,1032.6 L957.3,1032.9 L958.9,1037.9 L960.5,1034.2 L962.1,1034.1 L963.7,1036.4 L965.3,1033.8 L966.9,1037.7 L968.5,1034.9 L970.1,1032.5 L971.7,1036.8 L973.3,1032.7 L974.9,1037.9 L976.5,1034.4 L978.1,1032.9 L979.7,1035.2 L981.3,1032.8 L982.9,1032.8 L984.5,1032.8 L986.1,1034.7 L987.7,1032.8 L989.3,1037.8 L990.9,1035.3 L992.5,1035.4 L994.1,1034.2 L995.7,1035.5 L997.3,1035.8 L998.9,1033.7 L1000.5,1035.5 L1002.1,1035.6 L1003.7,1035.9 L1005.3,1037.5 L1006.9,1035.0 L1008.5,1033.7 L1010.1,1034.2 L1011.7,1036.7 L1013.3,1034.2 L1014.9,1033.0 L1016.5,1033.0 L1018.1,1035.7 L1019.7,1032.8 L1021.3,1032.8 L1022.9,1034.1 L1024.5,1033.0 L1026.1,1034.2 L1027.7,1035.6 L1029.3,1036.1 L1030.9,1035.7 L1032.5,1037.0 L1034.1,1037.8 L1035.7,1036.4 L1037.3,1037.0 L1038.9,1033.2 L1040.5,1033.4 L1042.1,1036.2 L1043.7,1032.8 L1045.3,1035.6 L1046.9,1032.8 L1048.5,1034.5 L1050.1,1037.7 L1051.7,1033.8 L1053.3,1034.5 L1054.9,1032.6 L1056.5,1037.0 L1058.1,1033.0 L1059.7,1033.4 L1061.3,1035.0 L1062.9,1036.9 L1064.5,1034.2 L1066.1,1035.0 L1067.7,1034.9 L1069.3,1037.6 L1070.9,1037.8 L1072.5,1033.1 L1074.1,1034.8 L1075.7,1037.9 L1077.3,1035.7 L1078.9,1037.3 L1080.5,1033.7 L1082.1,1033.6 L1083.7,1034.5 L1085.3,1033.8 L1086.9,1033.9 L1088.5,1037.1 L1090.1,1035.9 L1091.7,1033.3 L1093.3,1035.2 L1094.9,1033.4 L1096.5,1036.4 L1098.1,1033.6 L1099.7,1034.3 L1101.3,1037.2 L1102.9,1036.9 L1104.5,1032.6 L1106.1,1035.7 L1107.7,1034.6 L1109.3,1032.6 L1110.9,1034.6 L1112.5,1036.4 L1114.1,1037.9 L1115.7,1037.6 L1117.3,1036.2 L1118.9,1036.9 L1120.5,1035.8 L1122.1,1035.4 L1123.7,1032.9 L1125.3,1034.5 L1126.9,1036.7 L1128.5,1034.2 L1130.1,1034.0 L1131.7,1032.9 L1133.3,1036.2 L1134.9,1037.4 L1136.5,1037.1 L1138.1,1035.9 L1139.7,1035.3 L1141.3,1033.8 L1142.9,1035.5 L1144.5,1032.5 L1146.1,1033.5 L1147.7,1037.4 L1149.3,1035.9 L1150.9,1033.1 L1152.5,1035.5 L1154.1,1034.6 L1155.7,1033.7 L1157.3,1034.0 L1158.9,1037.4 L1160.5,1036.0 L1162.1,1033.7 L1163.7,1035.6 L1165.3,1037.3 L1166.9,1034.8 L1168.5,1035.4 L1170.1,1034.2 L1171.7,1035.8 L1173.3,1033.5 L1174.9,1033.1 L1176.5,1035.8 L1178.1,1033.5 L1179.7,1036.1 L1181.3,1036.5 L1182.9,1035.2 L1184.5,1037.8 L1186.1,1037.2 L1187.7,1037.6 L1189.3,1036.3 L1190.9,1035.1 L1192.5,1033.6 L1194.1,1033.0 L1195.7,1035.9 L1197.3,1036.7 L1198.9,1037.0 L1200.5,1036.4 L1202.1,1037.8 L1203.7,1037.8 L1205.3,1033.1 L1206.9,1033.6 L1208.5,1035.0 L1210.1,1036.6 L1211.7,1034.7 L1213.3,1034.6 L1214.9,1035.8 L1216.5,1036.3 L1218.1,1037.8 L1219.7,1032.9 L1221.3,1036.5 L1222.9,1033.1 L1224.5,1034.4 L1226.1,1037.6 L1227.7,1034.1 L1229.3,1036.3 L1230.9,1035.7 L1232.5,1034.4 L1234.1,1035.4 L1235.7,1034.8 L1237.3,1036.2 L1238.9,1034.0 L1240.5,1035.1 L1242.1,1035.5 L1243.7,1037.6 L1245.3,1034.5 L1246.9,1032.5 L1248.5,1034.5 L1250.1,1033.9 L1251.7,1034.6 L1253.3,1032.8 L1254.9,1037.9 L1256.5,1035.1 L1258.1,1034.0 L1259.7,1036.3 L1261.3,1032.8 L1262.9,1036.8 L1264.5,1035.8 L1266.1,1036.0 L1267.7,1032.7 L1269.3,1036.7 L1270.9,1037.3 L1272.5,1037.5 L1274.1,1038.0 L1275.7,1037.4 L1277.3,1036.8 L1278.9,1037.8 L1280.5,1033.7 L1282.1,1034.0 L1283.7,1034.1 L1285.3,1033.2 L1286.9,1035.0 L1288.5,1034.6 L1290.1,1037.4 L1291.7,1032.6 L1293.3,1037.8 L1294.9,1033.2 L1296.5,1037.6 L1298.1,1032.7 L1299.7,1034.9 L1301.3,1036.6 L1302.9,1036.8 L1304.5,1035.4 L1306.1,1036.4 L1307.7,1033.1 L1309.3,1034.6 L1310.9,1035.1 L1312.5,1037.8 L1314.1,1035.6 L1315.7,1035.5 L1317.3,1033.2 L1318.9,1036.4 L1320.5,1036.7 L1322.1,1035.3 L1323.7,1036.9 L1325.3,1035.3 L1326.9,1034.6 L1328.5,1032.6 L1330.1,1035.0 L1331.7,1037.6 L1333.3,1035.4 L1334.9,1037.7 L1336.5,1037.9 L1338.1,1033.4 L1339.7,1032.9 L1341.3,1036.5 L1342.9,1034.6 L1344.5,1034.1 L1346.1,1037.1 L1347.7,1034.4 L1349.3,1035.6 L1350.9,1035.0 L1352.5,1033.0 L1354.1,1033.3 L1355.7,1033.9 L1357.3,1036.8 L1358.9,1033.9 L1360.5,1035.9 L1362.1,1036.0 L1363.7,1033.9 L1365.3,1034.9 L1366.9,1033.5 L1368.5,1032.8 L1370.1,1035.6 L1371.7,1032.7 L1373.3,1035.2 L1374.9,1032.7 L1376.5,1033.1 L1378.1,1035.9 L1379.7,1033.7 L1381.3,1033.1 L1382.9,1036.3 L1384.5,1032.9 L1386.1,1036.1 L1387.7,1036.5 L1389.3,1036.0 L1390.9,1033.2 L1392.5,1033.9 L1394.1,1032.5 L1395.7,1035.3 L1397.3,1035.1 L1398.9,1033.7 L1400.5,1037.7 L1402.1,1033.0 L1403.7,1032.9 L1405.3,1035.9 L1406.9,1033.5 L1408.5,1035.2 L1410.1,1035.0 L1411.7,1037.5 L1413.3,1034.0 L1414.9,1035.4 L1416.5,1035.6 L1418.1,1034.8 L1419.7,1037.1 L1421.3,1033.1 L1422.9,1034.5 L1424.5,1034.0 L1426.1,1036.0 L1427.7,1033.1 L1427.7,1074.7 L1426.1,1075.8 L1424.5,1074.0 L1422.9,1075.4 L1421.3,1071.9 L1419.7,1072.1 L1418.1,1074.8 L1416.5,1074.1 L1414.9,1075.5 L1413.3,1073.2 L1411.7,1071.3 L1410.1,1073.7 L1408.5,1074.3 L1406.9,1071.3 L1405.3,1074.1 L1403.7,1072.8 L1402.1,1072.4 L1400.5,1071.6 L1398.9,1071.9 L1397.3,1071.4 L1395.7,1075.5 L1394.1,1074.7 L1392.5,1072.1 L1390.9,1074.6 L1389.3,1075.1 L1387.7,1070.9 L1386.1,1075.4 L1384.5,1073.0 L1382.9,1071.0 L1381.3,1070.9 L1379.7,1075.7 L1378.1,1073.9 L1376.5,1074.5 L1374.9,1073.7 L1373.3,1075.3 L1371.7,1075.0 L1370.1,1070.6 L1368.5,1074.6 L1366.9,1071.3 L1365.3,1075.4 L1363.7,1075.3 L1362.1,1071.9 L1360.5,1072.6 L1358.9,1075.1 L1357.3,1074.6 L1355.7,1072.0 L1354.1,1075.8 L1352.5,1072.4 L1350.9,1070.8 L1349.3,1071.6 L1347.7,1073.2 L1346.1,1071.3 L1344.5,1073.5 L1342.9,1075.6 L1341.3,1073.4 L1339.7,1073.0 L1338.1,1075.6 L1336.5,1072.2 L1334.9,1075.7 L1333.3,1074.4 L1331.7,1072.5 L1330.1,1074.1 L1328.5,1072.1 L1326.9,1072.4 L1325.3,1070.7 L1323.7,1070.8 L1322.1,1073.9 L1320.5,1072.8 L1318.9,1070.5 L1317.3,1073.1 L1315.7,1074.5 L1314.1,1071.9 L1312.5,1071.8 L1310.9,1073.7 L1309.3,1072.5 L1307.7,1074.0 L1306.1,1071.0 L1304.5,1075.9 L1302.9,1071.3 L1301.3,1072.6 L1299.7,1072.0 L1298.1,1071.5 L1296.5,1075.7 L1294.9,1071.8 L1293.3,1073.8 L1291.7,1075.1 L1290.1,1071.6 L1288.5,1075.4 L1286.9,1070.9 L1285.3,1071.4 L1283.7,1074.2 L1282.1,1073.1 L1280.5,1072.8 L1278.9,1076.0 L1277.3,1072.8 L1275.7,1071.3 L1274.1,1074.7 L1272.5,1072.6 L1270.9,1075.0 L1269.3,1072.8 L1267.7,1070.6 L1266.1,1074.0 L1264.5,1075.5 L1262.9,1072.9 L1261.3,1072.7 L1259.7,1073.3 L1258.1,1075.8 L1256.5,1071.0 L1254.9,1072.9 L1253.3,1071.7 L1251.7,1073.3 L1250.1,1073.0 L1248.5,1070.6 L1246.9,1074.7 L1245.3,1075.0 L1243.7,1071.0 L1242.1,1072.6 L1240.5,1075.9 L1238.9,1071.0 L1237.3,1070.9 L1235.7,1071.8 L1234.1,1070.8 L1232.5,1075.2 L1230.9,1072.1 L1229.3,1074.8 L1227.7,1073.2 L1226.1,1072.6 L1224.5,1074.6 L1222.9,1073.1 L1221.3,1072.1 L1219.7,1074.7 L1218.1,1075.7 L1216.5,1073.2 L1214.9,1072.6 L1213.3,1071.1 L1211.7,1073.5 L1210.1,1071.0 L1208.5,1074.2 L1206.9,1072.6 L1205.3,1070.9 L1203.7,1071.1 L1202.1,1073.9 L1200.5,1075.6 L1198.9,1074.9 L1197.3,1074.5 L1195.7,1071.1 L1194.1,1071.3 L1192.5,1071.4 L1190.9,1071.1 L1189.3,1075.1 L1187.7,1071.8 L1186.1,1074.0 L1184.5,1072.3 L1182.9,1075.1 L1181.3,1070.8 L1179.7,1074.3 L1178.1,1073.8 L1176.5,1071.5 L1174.9,1073.6 L1173.3,1070.7 L1171.7,1075.8 L1170.1,1072.0 L1168.5,1075.5 L1166.9,1072.8 L1165.3,1074.5 L1163.7,1075.1 L1162.1,1070.8 L1160.5,1074.7 L1158.9,1071.4 L1157.3,1073.9 L1155.7,1072.2 L1154.1,1075.4 L1152.5,1074.4 L1150.9,1074.3 L1149.3,1072.6 L1147.7,1075.5 L1146.1,1074.1 L1144.5,1072.6 L1142.9,1072.7 L1141.3,1075.9 L1139.7,1075.4 L1138.1,1071.6 L1136.5,1074.6 L1134.9,1074.3 L1133.3,1075.8 L1131.7,1074.6 L1130.1,1074.4 L1128.5,1075.6 L1126.9,1074.4 L1125.3,1073.7 L1123.7,1071.0 L1122.1,1072.1 L1120.5,1074.2 L1118.9,1072.5 L1117.3,1073.5 L1115.7,1074.3 L1114.1,1075.0 L1112.5,1072.7 L1110.9,1073.1 L1109.3,1072.2 L1107.7,1072.2 L1106.1,1071.5 L1104.5,1073.3 L1102.9,1072.6 L1101.3,1073.9 L1099.7,1074.3 L1098.1,1074.9 L1096.5,1075.5 L1094.9,1071.0 L1093.3,1070.7 L1091.7,1075.1 L1090.1,1072.7 L1088.5,1075.2 L1086.9,1075.9 L1085.3,1072.4 L1083.7,1074.6 L1082.1,1073.6 L1080.5,1072.0 L1078.9,1072.7 L1077.3,1073.2 L1075.7,1070.7 L1074.1,1070.8 L1072.5,1075.0 L1070.9,1073.8 L1069.3,1073.4 L1067.7,1074.7 L1066.1,1072.9 L1064.5,1075.5 L1062.9,1071.2 L1061.3,1075.7 L1059.7,1074.4 L1058.1,1073.4 L1056.5,1074.5 L1054.9,1073.7 L1053.3,1072.3 L1051.7,1072.9 L1050.1,1073.9 L1048.5,1075.2 L1046.9,1071.2 L1045.3,1070.7 L1043.7,1074.7 L1042.1,1072.1 L1040.5,1071.9 L1038.9,1070.9 L1037.3,1072.6 L1035.7,1072.0 L1034.1,1074.5 L1032.5,1074.1 L1030.9,1072.9 L1029.3,1074.7 L1027.7,1075.4 L1026.1,1074.6 L1024.5,1072.8 L1022.9,1072.6 L1021.3,1071.6 L1019.7,1074.4 L1018.1,1071.8 L1016.5,1072.9 L1014.9,1071.8 L1013.3,1071.2 L1011.7,1075.0 L1010.1,1071.0 L1008.5,1071.1 L1006.9,1075.0 L1005.3,1072.2 L1003.7,1074.5 L1002.1,1072.6 L1000.5,1073.2 L998.9,1070.6 L997.3,1075.2 L995.7,1075.6 L994.1,1071.1 L992.5,1071.0 L990.9,1072.7 L989.3,1071.5 L987.7,1070.7 L986.1,1072.2 L984.5,1071.9 L982.9,1072.7 L981.3,1071.8 L979.7,1075.6 L978.1,1075.4 L976.5,1071.0 L974.9,1073.4 L973.3,1073.5 L971.7,1072.8 L970.1,1070.8 L968.5,1075.9 L966.9,1074.1 L965.3,1074.2 L963.7,1071.4 L962.1,1074.5 L960.5,1073.1 L958.9,1072.5 L957.3,1072.7 L955.7,1071.8 L954.1,1071.6 L952.5,1074.5 L950.9,1072.1 L949.3,1071.1 L947.7,1073.1 L946.1,1074.3 L944.5,1072.5 L942.9,1070.7 L941.3,1071.8 L939.7,1071.4 L938.1,1071.9 L936.5,1075.3 L934.9,1072.6 L933.3,1071.4 L931.7,1073.1 L930.1,1073.9 L928.5,1073.1 L926.9,1074.7 L925.3,1075.4 L923.7,1071.6 L922.1,1071.0 L920.5,1074.6 L918.9,1073.8 L917.3,1075.2 L915.7,1074.9 L914.1,1075.1 L912.5,1072.6 L910.9,1073.9 L909.3,1071.8 L907.7,1073.9 L906.1,1075.0 L904.5,1075.8 L902.9,1071.7 L901.3,1075.7 L899.7,1070.8 L898.1,1070.7 L896.5,1072.3 L894.9,1075.3 L893.3,1073.8 L891.7,1071.0 L890.1,1071.0 L888.5,1074.4 L886.9,1074.6 L885.3,1071.8 L883.7,1073.3 L882.1,1071.9 L880.5,1071.9 L878.9,1073.6 L877.3,1073.3 L875.7,1071.3 L874.1,1070.8 L872.5,1075.7 L870.9,1073.8 L869.3,1072.9 L867.7,1075.3 L866.1,1073.7 L864.5,1070.9 L862.9,1071.1 L861.3,1073.9 L859.7,1072.8 L858.1,1071.3 L856.5,1072.1 L854.9,1074.4 L853.3,1074.1 L851.7,1075.1 L850.1,1074.4 L848.5,1075.9 L846.9,1070.6 L845.3,1074.9 L843.7,1071.8 L842.1,1075.0 L840.5,1071.3Z" fill="#6e676e"/>
<path d="M851.0,1033V1076M867.4,1033V1076M883.8,1033V1076M900.2,1033V1076M916.6,1033V1076M933.0,1033V1076M949.4,1033V1076M965.8,1033V1076M982.2,1033V1076M998.6,1033V1076M1015.0,1033V1076M1031.4,1033V1076M1047.8,1033V1076M1064.2,1033V1076M1080.6,1033V1076M1097.0,1033V1076M1113.4,1033V1076M1129.8,1033V1076M1146.2,1033V1076M1162.6,1033V1076M1179.0,1033V1076M1195.4,1033V1076M1211.8,1033V1076M1228.2,1033V1076M1244.6,1033V1076M1261.0,1033V1076M1277.4,1033V1076M1293.8,1033V1076M1310.2,1033V1076M1326.6,1033V1076M1343.0,1033V1076M1359.4,1033V1076M1375.8,1033V1076M1392.2,1033V1076M1408.6,1033V1076M1425.0,1033V1076" stroke="#e8e6e8" stroke-width="1" fill="none"/>
<path d="M840.3,900V1302.6H1430" stroke="#4a3a40" stroke-width="1.2" fill="none"/>
<path d="M837.1,902.1H840.3M837.1,907.8H840.3M837.1,913.6H840.3M837.1,919.3H840.3M837.1,925.1H840.3M837.1,930.8H840.3M833.8,936.6H840.3M837.1,942.4H840.3M837.1,948.1H840.3M837.1,953.9H840.3M837.1,959.6H840.3M837.1,965.4H840.3M837.1,971.1H840.3M837.1,976.9H840.3M837.1,982.7H840.3M837.1,988.4H840.3M833.8,994.2H840.3M837.1,999.9H840.3M837.1,1005.7H840.3M837.1,1011.5H840.3M837.1,1017.2H840.3M837.1,1023.0H840.3M837.1,1028.7H840.3M837.1,1034.5H840.3M837.1,1040.2H840.3M837.1,1046.0H840.3M833.8,1051.8H840.3M837.1,1057.5H840.3M837.1,1063.3H840.3M837.1,1069.0H840.3M837.1,1074.8H840.3M837.1,1080.5H840.3M837.1,1086.3H840.3M837.1,1092.1H840.3M837.1,1097.8H840.3M837.1,1103.6H840.3M833.8,1109.3H840.3M837.1,1115.1H840.3M837.1,1120.9H840.3M837.1,1126.6H840.3M837.1,1132.4H840.3M837.1,1138.1H840.3M837.1,1143.9H840.3M837.1,1149.6H840.3M837.1,1155.4H840.3M837.1,1161.2H840.3M833.8,1166.9H840.3M837.1,1172.7H840.3M837.1,1178.4H840.3M837.1,1184.2H840.3M837.1,1190.0H840.3M837.1,1195.7H840.3M837.1,1201.5H840.3M837.1,1207.2H840.3M837.1,1213.0H840.3M837.1,1218.7H840.3M833.8,1224.5H840.3M837.1,1230.3H840.3M837.1,1236.0H840.3M837.1,1241.8H840.3M837.1,1247.5H840.3M837.1,1253.3H840.3M837.1,1259.0H840.3M837.1,1264.8H840.3M837.1,1270.6H840.3M837.1,1276.3H840.3M833.8,1282.1H840.3M837.1,1287.8H840.3M837.1,1293.6H840.3M837.1,1299.4H840.3M840.3,1302.6V1309.6M843.4,1302.6V1305.6M846.5,1302.6V1305.6M849.6,1302.6V1305.6M852.7,1302.6V1305.6M855.8,1302.6V1305.6M858.9,1302.6V1305.6M862.0,1302.6V1305.6M865.1,1302.6V1305.6M868.2,1302.6V1305.6M871.3,1302.6V1309.6M874.4,1302.6V1305.6M877.5,1302.6V1305.6M880.6,1302.6V1305.6M883.7,1302.6V1305.6M886.8,1302.6V1305.6M889.9,1302.6V1305.6M893.0,1302.6V1305.6M896.1,1302.6V1305.6M899.2,1302.6V1305.6M902.3,1302.6V1309.6M905.4,1302.6V1305.6M908.5,1302.6V1305.6M911.6,1302.6V1305.6M914.7,1302.6V1305.6M917.8,1302.6V1305.6M920.9,1302.6V1305.6M924.0,1302.6V1305.6M927.1,1302.6V1305.6M930.2,1302.6V1305.6M933.3,1302.6V1309.6M936.4,1302.6V1305.6M939.5,1302.6V1305.6M942.6,1302.6V1305.6M945.7,1302.6V1305.6M948.8,1302.6V1305.6M951.9,1302.6V1305.6M955.0,1302.6V1305.6M958.1,1302.6V1305.6M961.2,1302.6V1305.6M964.3,1302.6V1309.6M967.4,1302.6V1305.6M970.5,1302.6V1305.6M973.6,1302.6V1305.6M976.7,1302.6V1305.6M979.8,1302.6V1305.6M982.9,1302.6V1305.6M986.0,1302.6V1305.6M989.1,1302.6V1305.6M992.2,1302.6V1305.6M995.3,1302.6V1309.6M998.4,1302.6V1305.6M1001.5,1302.6V1305.6M1004.6,1302.6V1305.6M1007.7,1302.6V1305.6M1010.8,1302.6V1305.6M1013.9,1302.6V1305.6M1017.0,1302.6V1305.6M1020.1,1302.6V1305.6M1023.2,1302.6V1305.6M1026.3,1302.6V1309.6M1029.4,1302.6V1305.6M1032.5,1302.6V1305.6M1035.6,1302.6V1305.6M1038.7,1302.6V1305.6M1041.8,1302.6V1305.6M1044.9,1302.6V1305.6M1048.0,1302.6V1305.6M1051.1,1302.6V1305.6M1054.2,1302.6V1305.6M1057.3,1302.6V1309.6M1060.4,1302.6V1305.6M1063.5,1302.6V1305.6M1066.6,1302.6V1305.6M1069.7,1302.6V1305.6M1072.8,1302.6V1305.6M1075.9,1302.6V1305.6M1079.0,1302.6V1305.6M1082.1,1302.6V1305.6M1085.2,1302.6V1305.6M1088.3,1302.6V1309.6M1091.4,1302.6V1305.6M1094.5,1302.6V1305.6M1097.6,1302.6V1305.6M1100.7,1302.6V1305.6M1103.8,1302.6V1305.6M1106.9,1302.6V1305.6M1110.0,1302.6V1305.6M1113.1,1302.6V1305.6M1116.2,1302.6V1305.6M1119.3,1302.6V1309.6M1122.4,1302.6V1305.6M1125.5,1302.6V1305.6M1128.6,1302.6V1305.6M1131.7,1302.6V1305.6M1134.8,1302.6V1305.6M1137.9,1302.6V1305.6M1141.0,1302.6V1305.6M1144.1,1302.6V1305.6M1147.2,1302.6V1305.6M1150.3,1302.6V1309.6M1153.4,1302.6V1305.6M1156.5,1302.6V1305.6M1159.6,1302.6V1305.6M1162.7,1302.6V1305.6M1165.8,1302.6V1305.6M1168.9,1302.6V1305.6M1172.0,1302.6V1305.6M1175.1,1302.6V1305.6M1178.2,1302.6V1305.6M1181.3,1302.6V1309.6M1184.4,1302.6V1305.6M1187.5,1302.6V1305.6M1190.6,1302.6V1305.6M1193.7,1302.6V1305.6M1196.8,1302.6V1305.6M1199.9,1302.6V1305.6M1203.0,1302.6V1305.6M1206.1,1302.6V1305.6M1209.2,1302.6V1305.6M1212.3,1302.6V1309.6M1215.4,1302.6V1305.6M1218.5,1302.6V1305.6M1221.6,1302.6V1305.6M1224.7,1302.6V1305.6M1227.8,1302.6V1305.6M1230.9,1302.6V1305.6M1234.0,1302.6V1305.6M1237.1,1302.6V1305.6M1240.2,1302.6V1305.6M1243.3,1302.6V1309.6M1246.4,1302.6V1305.6M1249.5,1302.6V1305.6M1252.6,1302.6V1305.6M1255.7,1302.6V1305.6M1258.8,1302.6V1305.6M1261.9,1302.6V1305.6M1265.0,1302.6V1305.6M1268.1,1302.6V1305.6M1271.2,1302.6V1305.6M1274.3,1302.6V1309.6M1277.4,1302.6V1305.6M1280.5,1302.6V1305.6M1283.6,1302.6V1305.6M1286.7,1302.6V1305.6M1289.8,1302.6V1305.6M1292.9,1302.6V1305.6M1296.0,1302.6V1305.6M1299.1,1302.6V1305.6M1302.2,1302.6V1305.6M1305.3,1302.6V1309.6M1308.4,1302.6V1305.6M1311.5,1302.6V1305.6M1314.6,1302.6V1305.6M1317.7,1302.6V1305.6M1320.8,1302.6V1305.6M1323.9,1302.6V1305.6M1327.0,1302.6V1305.6M1330.1,1302.6V1305.6M1333.2,1302.6V1305.6M1336.3,1302.6V1309.6M1339.4,1302.6V1305.6M1342.5,1302.6V1305.6M1345.6,1302.6V1305.6M1348.7,1302.6V1305.6M1351.8,1302.6V1305.6M1354.9,1302.6V1305.6M1358.0,1302.6V1305.6M1361.1,1302.6V1305.6M1364.2,1302.6V1305.6M1367.3,1302.6V1309.6M1370.4,1302.6V1305.6M1373.5,1302.6V1305.6M1376.6,1302.6V1305.6M1379.7,1302.6V1305.6M1382.8,1302.6V1305.6M1385.9,1302.6V1305.6M1389.0,1302.6V1305.6M1392.1,1302.6V1305.6M1395.2,1302.6V1305.6M1398.3,1302.6V1309.6M1401.4,1302.6V1305.6M1404.5,1302.6V1305.6M1407.6,1302.6V1305.6M1410.7,1302.6V1305.6M1413.8,1302.6V1305.6M1416.9,1302.6V1305.6M1420.0,1302.6V1305.6M1423.1,1302.6V1305.6M1426.2,1302.6V1305.6M1429.3,1302.6V1309.6" stroke="#4a3a40" stroke-width="0.9" fill="none"/>
<path d="M818.4,1262V1321.6H848" stroke="#4a3a40" stroke-width="1.3" fill="none"/>
<text x="811.0" y="1340.0" font-size="18" fill="#231418">5 sec</text>
<text x="813.0" y="1319.0" font-size="17.5" fill="#231418" transform="rotate(-90 813.0 1319.0)">0.1 µV</text>
<text x="1425.5" y="1331.0" font-size="6" fill="#231418">s</text>
<rect x="1572.7" y="999.0" width="153.8" height="22.8" fill="#6c5c63"/>
<rect x="1572.7" y="1021.8" width="153.8" height="173.2" fill="#0b8fbf"/>
<rect x="1572.7" y="1195.0" width="153.8" height="71.0" fill="#f5d95c"/>
<rect x="1572.7" y="1266.0" width="153.8" height="28.0" fill="#d5e2d6"/>
<rect x="1731.4" y="999.0" width="153.9" height="41.0" fill="#6c5c63"/>
<rect x="1731.4" y="1040.0" width="153.9" height="145.0" fill="#0b8fbf"/>
<rect x="1731.4" y="1185.0" width="153.9" height="78.0" fill="#f5d95c"/>
<rect x="1731.4" y="1263.0" width="153.9" height="31.0" fill="#d5e2d6"/>
<rect x="1890.0" y="997.4" width="154.0" height="11.6" fill="#6c5c63"/>
<rect x="1890.0" y="1009.0" width="154.0" height="121.8" fill="#0b8fbf"/>
<rect x="1890.0" y="1130.8" width="154.0" height="116.2" fill="#f5d95c"/>
<rect x="1890.0" y="1247.0" width="154.0" height="47.0" fill="#d5e2d6"/>
<rect x="1616" y="1079" width="61.7" height="49.7" fill="#1893c4"/>
<rect x="1772.6" y="1085.3" width="61.1" height="48.9" fill="#1893c4"/>
<rect x="1930.5" y="1050.8" width="61.5" height="48.9" fill="#1893c4"/>
<text x="1650.4" y="1017.0" font-size="21.5" fill="#fff" text-anchor="middle">8%</text>
<text x="1659.1" y="1110.4" font-size="21" fill="#e3173e" text-anchor="middle" font-weight="bold">58 %</text>
<text x="1659.1" y="1238.6" font-size="21" fill="#e3173e" text-anchor="middle" font-weight="bold">24 %</text>
<text x="1650.4" y="1286.0" font-size="21.5" fill="#f4f6f4" text-anchor="middle">10%</text>
<text x="1809.1" y="1025.8" font-size="21.5" fill="#fff" text-anchor="middle">14%</text>
<text x="1817.8" y="1116.0" font-size="21" fill="#e3173e" text-anchor="middle" font-weight="bold">49 %</text>
<text x="1817.8" y="1230.0" font-size="21" fill="#e3173e" text-anchor="middle" font-weight="bold">26 %</text>
<text x="1809.1" y="1285.0" font-size="21.5" fill="#f4f6f4" text-anchor="middle">11%</text>
<text x="1967.8" y="1014.0" font-size="21.5" fill="#fff" text-anchor="middle">4%</text>
<text x="1976.5" y="1080.4" font-size="21" fill="#e3173e" text-anchor="middle" font-weight="bold">41 %</text>
<text x="1976.5" y="1199.0" font-size="21" fill="#e3173e" text-anchor="middle" font-weight="bold">39 %</text>
<text x="1967.8" y="1280.0" font-size="21.5" fill="#f4f6f4" text-anchor="middle">16%</text>
<rect x="1574.5" y="998.5" width="150.2" height="296.4" fill="none" stroke="#3a2e33" stroke-width="3.6"/>
<rect x="1733.2" y="998.5" width="150.3" height="296.4" fill="none" stroke="#3a2e33" stroke-width="3.6"/>
<rect x="1891.8" y="996.9" width="150.4" height="298.0" fill="none" stroke="#3a2e33" stroke-width="3.6"/>
<rect x="1618.7" y="901.8" width="46.5" height="20.2" fill="#0b8fbf" stroke="#3a2e33" stroke-width="2.4"/>
<rect x="1885.0" y="900.2" width="46.8" height="18.6" fill="#6c5c63" stroke="#3a2e33" stroke-width="2.4"/>
<rect x="1619.2" y="952.8" width="45.6" height="19.0" fill="#f5d95c" stroke="#3a2e33" stroke-width="2.4"/>
<rect x="1885.0" y="950.7" width="44.3" height="17.1" fill="#d5e2d6" stroke="#3a2e33" stroke-width="2.4"/>
<text x="0" y="0" transform="translate(1679.5,918.0) scale(1.125,1)" font-size="28.5" fill="#231418">Irregular</text>
<text x="0" y="0" transform="translate(1939.0,918.0) scale(1.13,1)" font-size="28.5" fill="#231418">Regular</text>
<text x="0" y="0" transform="translate(1679.5,968.4) scale(1.12,1)" font-size="28.5" fill="#231418">Burst</text>
<text x="0" y="0" transform="translate(1939.0,969.0) scale(1.13,1)" font-size="28.5" fill="#231418">Mix</text>
<text x="1547.5" y="1219.5" font-size="33" fill="#231418" transform="rotate(-90 1547.5 1219.5)">percentage</text>
<text x="0" y="0" transform="translate(1650.3,1331.7) scale(1.135,1)" font-size="28.5" fill="#231418" text-anchor="middle">Sham</text>
<text x="0" y="0" transform="translate(1802.8,1331.7) scale(1.15,1)" font-size="28.5" fill="#231418" text-anchor="middle">Partial</text>
<text x="0" y="0" transform="translate(1957.7,1331.7) scale(1.11,1)" font-size="28.5" fill="#231418" text-anchor="middle">Total</text>
<text x="8.0" y="1441.0" font-size="49" fill="#231418">c. Firing rate and Nociceptive response</text>
<text x="349.0" y="1512.8" font-size="30" fill="#231418" text-anchor="middle" textLength="159.5" lengthAdjust="spacingAndGlyphs">Firing rate</text>
<text x="348.5" y="1547.6" font-size="30" fill="#231418" text-anchor="middle" textLength="220.7" lengthAdjust="spacingAndGlyphs">Control period</text>
<rect x="157.3" y="1920.0" width="119.3" height="143.5" fill="#dfecf6"/>
<path d="M157.3,2062.5V1920.0H276.6V2062.5" fill="none" stroke="#1190bd" stroke-width="4"/>
<rect x="342.3" y="1921.0" width="119.3" height="142.5" fill="#fcf1e3"/>
<path d="M342.3,2062.5V1921.0H461.6V2062.5" fill="none" stroke="#f0b000" stroke-width="4"/>
<rect x="529.6" y="1910.3" width="118.4" height="153.2" fill="#f6e3e7"/>
<path d="M529.6,2062.5V1910.3H648.0V2062.5" fill="none" stroke="#dd1f50" stroke-width="4"/>
<path d="M211.1,1701.5a5.9,5.9 0 1,0 11.8,0a5.9,5.9 0 1,0 -11.8,0M196.8,1712.0a5.9,5.9 0 1,0 11.8,0a5.9,5.9 0 1,0 -11.8,0M225.3,1708.2a5.9,5.9 0 1,0 11.8,0a5.9,5.9 0 1,0 -11.8,0M203.9,1739.3a5.9,5.9 0 1,0 11.8,0a5.9,5.9 0 1,0 -11.8,0M218.2,1740.1a5.9,5.9 0 1,0 11.8,0a5.9,5.9 0 1,0 -11.8,0M211.1,1779.1a5.9,5.9 0 1,0 11.8,0a5.9,5.9 0 1,0 -11.8,0M211.1,1800.9a5.9,5.9 0 1,0 11.8,0a5.9,5.9 0 1,0 -11.8,0M211.1,1824.2a5.9,5.9 0 1,0 11.8,0a5.9,5.9 0 1,0 -11.8,0M182.8,1835.3a5.9,5.9 0 1,0 11.8,0a5.9,5.9 0 1,0 -11.8,0M196.8,1837.2a5.9,5.9 0 1,0 11.8,0a5.9,5.9 0 1,0 -11.8,0M225.3,1837.6a5.9,5.9 0 1,0 11.8,0a5.9,5.9 0 1,0 -11.8,0M211.1,1845.8a5.9,5.9 0 1,0 11.8,0a5.9,5.9 0 1,0 -11.8,0M203.9,1862.1a5.9,5.9 0 1,0 11.8,0a5.9,5.9 0 1,0 -11.8,0M218.2,1863.6a5.9,5.9 0 1,0 11.8,0a5.9,5.9 0 1,0 -11.8,0M211.1,1891.7a5.9,5.9 0 1,0 11.8,0a5.9,5.9 0 1,0 -11.8,0M211.1,1905.1a5.9,5.9 0 1,0 11.8,0a5.9,5.9 0 1,0 -11.8,0M182.8,1917.5a5.9,5.9 0 1,0 11.8,0a5.9,5.9 0 1,0 -11.8,0M196.8,1924.2a5.9,5.9 0 1,0 11.8,0a5.9,5.9 0 1,0 -11.8,0M211.1,1927.0a5.9,5.9 0 1,0 11.8,0a5.9,5.9 0 1,0 -11.8,0M225.3,1919.0a5.9,5.9 0 1,0 11.8,0a5.9,5.9 0 1,0 -11.8,0M239.2,1922.8a5.9,5.9 0 1,0 11.8,0a5.9,5.9 0 1,0 -11.8,0M211.1,1941.4a5.9,5.9 0 1,0 11.8,0a5.9,5.9 0 1,0 -11.8,0M196.8,1948.5a5.9,5.9 0 1,0 11.8,0a5.9,5.9 0 1,0 -11.8,0M225.3,1946.2a5.9,5.9 0 1,0 11.8,0a5.9,5.9 0 1,0 -11.8,0M211.1,1956.7a5.9,5.9 0 1,0 11.8,0a5.9,5.9 0 1,0 -11.8,0M182.8,1963.8a5.9,5.9 0 1,0 11.8,0a5.9,5.9 0 1,0 -11.8,0M196.8,1961.1a5.9,5.9 0 1,0 11.8,0a5.9,5.9 0 1,0 -11.8,0M225.3,1961.5a5.9,5.9 0 1,0 11.8,0a5.9,5.9 0 1,0 -11.8,0M253.0,1963.4a5.9,5.9 0 1,0 11.8,0a5.9,5.9 0 1,0 -11.8,0M168.5,1971.4a5.9,5.9 0 1,0 11.8,0a5.9,5.9 0 1,0 -11.8,0M182.8,1977.7a5.9,5.9 0 1,0 11.8,0a5.9,5.9 0 1,0 -11.8,0M196.8,1973.9a5.9,5.9 0 1,0 11.8,0a5.9,5.9 0 1,0 -11.8,0M211.1,1976.8a5.9,5.9 0 1,0 11.8,0a5.9,5.9 0 1,0 -11.8,0M225.3,1972.9a5.9,5.9 0 1,0 11.8,0a5.9,5.9 0 1,0 -11.8,0M225.3,1984.4a5.9,5.9 0 1,0 11.8,0a5.9,5.9 0 1,0 -11.8,0M253.0,1975.8a5.9,5.9 0 1,0 11.8,0a5.9,5.9 0 1,0 -11.8,0M154.7,1989.2a5.9,5.9 0 1,0 11.8,0a5.9,5.9 0 1,0 -11.8,0M168.5,1989.2a5.9,5.9 0 1,0 11.8,0a5.9,5.9 0 1,0 -11.8,0M182.8,1994.0a5.9,5.9 0 1,0 11.8,0a5.9,5.9 0 1,0 -11.8,0M196.8,1994.3a5.9,5.9 0 1,0 11.8,0a5.9,5.9 0 1,0 -11.8,0M211.1,1998.7a5.9,5.9 0 1,0 11.8,0a5.9,5.9 0 1,0 -11.8,0M225.3,1998.7a5.9,5.9 0 1,0 11.8,0a5.9,5.9 0 1,0 -11.8,0M239.2,1994.9a5.9,5.9 0 1,0 11.8,0a5.9,5.9 0 1,0 -11.8,0M253.0,1990.1a5.9,5.9 0 1,0 11.8,0a5.9,5.9 0 1,0 -11.8,0M267.3,1998.7a5.9,5.9 0 1,0 11.8,0a5.9,5.9 0 1,0 -11.8,0M154.7,2005.0a5.9,5.9 0 1,0 11.8,0a5.9,5.9 0 1,0 -11.8,0M168.5,2002.0a5.9,5.9 0 1,0 11.8,0a5.9,5.9 0 1,0 -11.8,0M196.8,2008.3a5.9,5.9 0 1,0 11.8,0a5.9,5.9 0 1,0 -11.8,0M211.1,2013.1a5.9,5.9 0 1,0 11.8,0a5.9,5.9 0 1,0 -11.8,0M225.3,2015.9a5.9,5.9 0 1,0 11.8,0a5.9,5.9 0 1,0 -11.8,0M239.2,2009.3a5.9,5.9 0 1,0 11.8,0a5.9,5.9 0 1,0 -11.8,0M253.0,2006.4a5.9,5.9 0 1,0 11.8,0a5.9,5.9 0 1,0 -11.8,0M168.5,2014.0a5.9,5.9 0 1,0 11.8,0a5.9,5.9 0 1,0 -11.8,0M154.7,2026.5a5.9,5.9 0 1,0 11.8,0a5.9,5.9 0 1,0 -11.8,0M168.5,2027.4a5.9,5.9 0 1,0 11.8,0a5.9,5.9 0 1,0 -11.8,0M182.8,2023.6a5.9,5.9 0 1,0 11.8,0a5.9,5.9 0 1,0 -11.8,0M196.8,2019.8a5.9,5.9 0 1,0 11.8,0a5.9,5.9 0 1,0 -11.8,0M211.1,2029.3a5.9,5.9 0 1,0 11.8,0a5.9,5.9 0 1,0 -11.8,0M239.2,2022.6a5.9,5.9 0 1,0 11.8,0a5.9,5.9 0 1,0 -11.8,0M253.0,2019.8a5.9,5.9 0 1,0 11.8,0a5.9,5.9 0 1,0 -11.8,0M182.8,2035.1a5.9,5.9 0 1,0 11.8,0a5.9,5.9 0 1,0 -11.8,0M196.8,2033.1a5.9,5.9 0 1,0 11.8,0a5.9,5.9 0 1,0 -11.8,0M239.2,2030.3a5.9,5.9 0 1,0 11.8,0a5.9,5.9 0 1,0 -11.8,0M253.0,2032.2a5.9,5.9 0 1,0 11.8,0a5.9,5.9 0 1,0 -11.8,0M211.1,2040.8a5.9,5.9 0 1,0 11.8,0a5.9,5.9 0 1,0 -11.8,0M225.3,2041.7a5.9,5.9 0 1,0 11.8,0a5.9,5.9 0 1,0 -11.8,0M196.8,2056.1a5.9,5.9 0 1,0 11.8,0a5.9,5.9 0 1,0 -11.8,0" fill="#1190bd"/>
<path d="M410.5,1691.4h11.8v11.8h-11.8zM396.5,1699.0h11.8v11.8h-11.8zM388.9,1716.2h11.8v11.8h-11.8zM403.2,1725.8h11.8v11.8h-11.8zM396.5,1767.8h11.8v11.8h-11.8zM396.5,1802.2h11.8v11.8h-11.8zM396.5,1821.7h11.8v11.8h-11.8zM410.5,1823.7h11.8v11.8h-11.8zM382.6,1830.9h11.8v11.8h-11.8zM396.5,1838.6h11.8v11.8h-11.8zM410.5,1839.9h11.8v11.8h-11.8zM396.5,1857.7h11.8v11.8h-11.8zM396.5,1879.1h11.8v11.8h-11.8zM388.9,1894.4h11.8v11.8h-11.8zM403.2,1892.9h11.8v11.8h-11.8zM388.9,1910.6h11.8v11.8h-11.8zM403.2,1911.2h11.8v11.8h-11.8zM368.4,1925.9h11.8v11.8h-11.8zM382.6,1927.8h11.8v11.8h-11.8zM396.5,1932.6h11.8v11.8h-11.8zM410.5,1930.7h11.8v11.8h-11.8zM424.8,1936.4h11.8v11.8h-11.8zM382.6,1941.2h11.8v11.8h-11.8zM396.5,1944.1h11.8v11.8h-11.8zM410.5,1951.4h11.8v11.8h-11.8zM424.8,1946.0h11.8v11.8h-11.8zM382.6,1962.2h11.8v11.8h-11.8zM368.4,1978.1h11.8v11.8h-11.8zM382.6,1978.5h11.8v11.8h-11.8zM396.5,1968.6h11.8v11.8h-11.8zM410.5,1968.9h11.8v11.8h-11.8zM424.8,1965.1h11.8v11.8h-11.8zM424.8,1976.6h11.8v11.8h-11.8zM410.5,1984.2h11.8v11.8h-11.8zM368.4,1994.7h11.8v11.8h-11.8zM424.8,1994.7h11.8v11.8h-11.8zM396.5,1990.0h11.8v11.8h-11.8zM396.5,2001.4h11.8v11.8h-11.8zM382.6,2003.4h11.8v11.8h-11.8zM341.1,2005.3h11.8v11.8h-11.8zM354.5,2011.0h11.8v11.8h-11.8zM368.4,2012.0h11.8v11.8h-11.8zM410.5,2012.0h11.8v11.8h-11.8zM424.8,2009.1h11.8v11.8h-11.8zM452.9,2008.1h11.8v11.8h-11.8zM438.6,2015.8h11.8v11.8h-11.8zM341.1,2020.6h11.8v11.8h-11.8zM382.6,2015.8h11.8v11.8h-11.8zM396.5,2012.9h11.8v11.8h-11.8zM396.5,2024.4h11.8v11.8h-11.8zM368.4,2025.3h11.8v11.8h-11.8zM424.8,2020.6h11.8v11.8h-11.8zM452.9,2020.6h11.8v11.8h-11.8zM438.6,2028.2h11.8v11.8h-11.8zM354.5,2029.7h11.8v11.8h-11.8zM368.4,2036.8h11.8v11.8h-11.8zM382.6,2033.0h11.8v11.8h-11.8zM396.5,2035.8h11.8v11.8h-11.8zM410.5,2033.0h11.8v11.8h-11.8zM424.8,2036.8h11.8v11.8h-11.8zM438.6,2037.8h11.8v11.8h-11.8zM382.6,2045.4h11.8v11.8h-11.8zM396.5,2047.3h11.8v11.8h-11.8zM410.5,2046.4h11.8v11.8h-11.8zM368.4,2050.2h11.8v11.8h-11.8zM396.5,2053.1h11.8v11.8h-11.8zM424.8,2054.0h11.8v11.8h-11.8z" fill="#f0b000"/>
<path d="M588.0,1717.7L594.1,1729.9L581.9,1729.9zM588.0,1737.4L594.1,1749.6L581.9,1749.6zM588.0,1782.3L594.1,1794.5L581.9,1794.5zM588.0,1825.1L594.1,1837.3L581.9,1837.3zM580.7,1846.7L586.8,1858.9L574.6,1858.9zM595.1,1844.3L601.2,1856.5L589.0,1856.5zM588.0,1863.4L594.1,1875.6L581.9,1875.6zM574.0,1872.5L580.1,1884.7L567.9,1884.7zM602.1,1873.5L608.2,1885.7L596.0,1885.7zM616.1,1867.8L622.2,1880.0L610.0,1880.0zM588.0,1885.0L594.1,1897.2L581.9,1897.2zM560.1,1898.4L566.2,1910.6L554.0,1910.6zM574.0,1899.3L580.1,1911.5L567.9,1911.5zM616.1,1895.5L622.2,1907.7L610.0,1907.7zM602.1,1905.0L608.2,1917.2L596.0,1917.2zM574.0,1911.7L580.1,1923.9L567.9,1923.9zM616.1,1909.8L622.2,1922.0L610.0,1922.0zM560.1,1918.8L566.2,1931.0L554.0,1931.0zM602.1,1916.9L608.2,1929.1L596.0,1929.1zM616.1,1921.3L622.2,1933.5L610.0,1933.5zM588.0,1928.0L594.1,1940.2L581.9,1940.2zM574.0,1956.3L580.1,1968.5L567.9,1968.5zM588.0,1967.2L594.1,1979.4L581.9,1979.4zM602.1,1981.5L608.2,1993.7L596.0,1993.7zM616.1,1981.5L622.2,1993.7L610.0,1993.7zM560.1,1991.1L566.2,2003.3L554.0,2003.3zM574.0,1991.5L580.1,2003.7L567.9,2003.7zM588.0,1990.1L594.1,2002.3L581.9,2002.3zM616.1,1993.0L622.2,2005.2L610.0,2005.2zM567.0,2009.2L573.1,2021.4L560.9,2021.4zM580.7,2015.9L586.8,2028.1L574.6,2028.1zM595.1,2012.1L601.2,2024.3L589.0,2024.3zM609.0,2016.9L615.1,2029.1L602.9,2029.1zM560.1,2030.3L566.2,2042.5L554.0,2042.5zM545.9,2038.9L552.0,2051.1L539.8,2051.1zM532.0,2044.6L538.1,2056.8L525.9,2056.8zM560.1,2043.6L566.2,2055.8L554.0,2055.8zM574.0,2039.8L580.1,2052.0L567.9,2052.0zM602.1,2043.6L608.2,2055.8L596.0,2055.8zM616.1,2047.5L622.2,2059.7L610.0,2059.7zM630.1,2043.6L636.2,2055.8L624.0,2055.8zM644.8,2034.1L650.9,2046.3L638.7,2046.3zM644.8,2046.5L650.9,2058.7L638.7,2058.7zM588.0,2050.3L594.1,2062.5L581.9,2062.5z" fill="#dd1f50"/>
<path d="M185.9,1901.2H248.0M185.9,1934.3H248.0M217.0,1901.2V1934.3" stroke="#1190bd" stroke-width="4" fill="none"/>
<path d="M371.3,1901.6H433.0M371.3,1936.0H433.0M402.5,1901.6V1936.0" stroke="#f0b000" stroke-width="4" fill="none"/>
<path d="M557.8,1884.6H619.0M557.8,1931.8H619.0M588.0,1884.6V1931.8" stroke="#dd1f50" stroke-width="4" fill="none"/>
<path d="M124.6,1691.5V2063.5M115.5,2063.5H682" stroke="#231418" stroke-width="2.8" fill="none"/>
<text x="105.5" y="1764.6" font-size="31" fill="#231418" text-anchor="end">8</text>
<text x="105.5" y="1838.2" font-size="31" fill="#231418" text-anchor="end">6</text>
<text x="105.5" y="1919.7" font-size="31" fill="#231418" text-anchor="end">4</text>
<text x="105.5" y="1993.5" font-size="31" fill="#231418" text-anchor="end">2</text>
<path d="M114,1762.4H124.6M114,1836H124.6M114,1917.5H124.6M114,1991.3H124.6M114,1692.8H124.6M217,2063.5V2072.5M402.5,2063.5V2072.5M588,2063.5V2072.5" stroke="#231418" stroke-width="2.7" fill="none"/>
<text x="49.5" y="2018.5" font-size="43" fill="#231418" textLength="289" lengthAdjust="spacingAndGlyphs" transform="rotate(-90 49.5 2018.5)">Firing rate (Hz)</text>
<text x="1048.0" y="1512.4" font-size="30" fill="#231418" text-anchor="middle" textLength="436" lengthAdjust="spacingAndGlyphs">Effect of noxious stimulation</text>
<text x="1047.5" y="1546.8" font-size="30" fill="#231418" text-anchor="middle" textLength="254.5" lengthAdjust="spacingAndGlyphs">on the firing rate</text>
<rect x="829.4" y="1919.6" width="41.4" height="141.4" fill="#dfecf6"/>
<path d="M829.4,2060.0V1919.6H870.8V2060.0" fill="none" stroke="#1190bd" stroke-width="4"/>
<rect x="898.3" y="1916.3" width="41.3" height="144.7" fill="#dfecf6"/>
<path d="M898.3,2060.0V1916.3H939.6V2060.0" fill="none" stroke="#1190bd" stroke-width="4"/>
<rect x="1013.5" y="1921.0" width="40.9" height="140.0" fill="#fcf1e3"/>
<path d="M1013.5,2060.0V1921.0H1054.4V2060.0" fill="none" stroke="#f0b000" stroke-width="4"/>
<rect x="1082.3" y="1914.4" width="42.3" height="146.6" fill="#fcf1e3"/>
<path d="M1082.3,2060.0V1914.4H1124.6V2060.0" fill="none" stroke="#f0b000" stroke-width="4"/>
<rect x="1197.5" y="1910.4" width="42.3" height="150.6" fill="#f6e3e7"/>
<path d="M1197.5,2060.0V1910.4H1239.8V2060.0" fill="none" stroke="#dd1f50" stroke-width="4"/>
<rect x="1267.7" y="1910.0" width="40.9" height="151.0" fill="#f6e3e7"/>
<path d="M1267.7,2060.0V1910.0H1308.6V2060.0" fill="none" stroke="#dd1f50" stroke-width="4"/>
<path d="M842.6,1704.3a5.9,5.9 0 1,0 11.8,0a5.9,5.9 0 1,0 -11.8,0M846.4,1712.9a5.9,5.9 0 1,0 11.8,0a5.9,5.9 0 1,0 -11.8,0M839.7,1709.1a5.9,5.9 0 1,0 11.8,0a5.9,5.9 0 1,0 -11.8,0M841.6,1740.7a5.9,5.9 0 1,0 11.8,0a5.9,5.9 0 1,0 -11.8,0M847.3,1740.1a5.9,5.9 0 1,0 11.8,0a5.9,5.9 0 1,0 -11.8,0M843.5,1779.9a5.9,5.9 0 1,0 11.8,0a5.9,5.9 0 1,0 -11.8,0M843.5,1801.9a5.9,5.9 0 1,0 11.8,0a5.9,5.9 0 1,0 -11.8,0M843.5,1823.9a5.9,5.9 0 1,0 11.8,0a5.9,5.9 0 1,0 -11.8,0M849.3,1837.3a5.9,5.9 0 1,0 11.8,0a5.9,5.9 0 1,0 -11.8,0M837.8,1844.9a5.9,5.9 0 1,0 11.8,0a5.9,5.9 0 1,0 -11.8,0M840.7,1862.1a5.9,5.9 0 1,0 11.8,0a5.9,5.9 0 1,0 -11.8,0M847.3,1861.2a5.9,5.9 0 1,0 11.8,0a5.9,5.9 0 1,0 -11.8,0M843.5,1891.8a5.9,5.9 0 1,0 11.8,0a5.9,5.9 0 1,0 -11.8,0M843.5,1906.1a5.9,5.9 0 1,0 11.8,0a5.9,5.9 0 1,0 -11.8,0M834.0,1921.4a5.9,5.9 0 1,0 11.8,0a5.9,5.9 0 1,0 -11.8,0M855.0,1915.7a5.9,5.9 0 1,0 11.8,0a5.9,5.9 0 1,0 -11.8,0M852.2,1918.3a5.9,5.9 0 1,0 11.8,0a5.9,5.9 0 1,0 -11.8,0M837.4,1921.8a5.9,5.9 0 1,0 11.8,0a5.9,5.9 0 1,0 -11.8,0M842.2,1923.3a5.9,5.9 0 1,0 11.8,0a5.9,5.9 0 1,0 -11.8,0M850.7,1925.8a5.9,5.9 0 1,0 11.8,0a5.9,5.9 0 1,0 -11.8,0M831.7,1926.7a5.9,5.9 0 1,0 11.8,0a5.9,5.9 0 1,0 -11.8,0M841.8,1930.4a5.9,5.9 0 1,0 11.8,0a5.9,5.9 0 1,0 -11.8,0M831.1,1932.4a5.9,5.9 0 1,0 11.8,0a5.9,5.9 0 1,0 -11.8,0M849.0,1933.9a5.9,5.9 0 1,0 11.8,0a5.9,5.9 0 1,0 -11.8,0M854.6,1935.5a5.9,5.9 0 1,0 11.8,0a5.9,5.9 0 1,0 -11.8,0M831.8,1939.1a5.9,5.9 0 1,0 11.8,0a5.9,5.9 0 1,0 -11.8,0M844.5,1939.3a5.9,5.9 0 1,0 11.8,0a5.9,5.9 0 1,0 -11.8,0M840.5,1943.4a5.9,5.9 0 1,0 11.8,0a5.9,5.9 0 1,0 -11.8,0M841.6,1944.0a5.9,5.9 0 1,0 11.8,0a5.9,5.9 0 1,0 -11.8,0M836.5,1945.7a5.9,5.9 0 1,0 11.8,0a5.9,5.9 0 1,0 -11.8,0M843.4,1948.7a5.9,5.9 0 1,0 11.8,0a5.9,5.9 0 1,0 -11.8,0M836.8,1950.4a5.9,5.9 0 1,0 11.8,0a5.9,5.9 0 1,0 -11.8,0M842.5,1952.5a5.9,5.9 0 1,0 11.8,0a5.9,5.9 0 1,0 -11.8,0M831.5,1954.8a5.9,5.9 0 1,0 11.8,0a5.9,5.9 0 1,0 -11.8,0M844.9,1958.1a5.9,5.9 0 1,0 11.8,0a5.9,5.9 0 1,0 -11.8,0M835.6,1959.8a5.9,5.9 0 1,0 11.8,0a5.9,5.9 0 1,0 -11.8,0M852.5,1962.7a5.9,5.9 0 1,0 11.8,0a5.9,5.9 0 1,0 -11.8,0M839.3,1963.0a5.9,5.9 0 1,0 11.8,0a5.9,5.9 0 1,0 -11.8,0M848.8,1966.4a5.9,5.9 0 1,0 11.8,0a5.9,5.9 0 1,0 -11.8,0M841.6,1969.0a5.9,5.9 0 1,0 11.8,0a5.9,5.9 0 1,0 -11.8,0M847.8,1970.9a5.9,5.9 0 1,0 11.8,0a5.9,5.9 0 1,0 -11.8,0M845.7,1971.9a5.9,5.9 0 1,0 11.8,0a5.9,5.9 0 1,0 -11.8,0M852.2,1975.2a5.9,5.9 0 1,0 11.8,0a5.9,5.9 0 1,0 -11.8,0M845.7,1976.6a5.9,5.9 0 1,0 11.8,0a5.9,5.9 0 1,0 -11.8,0M837.1,1977.7a5.9,5.9 0 1,0 11.8,0a5.9,5.9 0 1,0 -11.8,0M841.4,1981.4a5.9,5.9 0 1,0 11.8,0a5.9,5.9 0 1,0 -11.8,0M844.7,1982.2a5.9,5.9 0 1,0 11.8,0a5.9,5.9 0 1,0 -11.8,0M847.9,1985.5a5.9,5.9 0 1,0 11.8,0a5.9,5.9 0 1,0 -11.8,0M842.0,1986.9a5.9,5.9 0 1,0 11.8,0a5.9,5.9 0 1,0 -11.8,0M850.5,1989.3a5.9,5.9 0 1,0 11.8,0a5.9,5.9 0 1,0 -11.8,0M840.8,1991.5a5.9,5.9 0 1,0 11.8,0a5.9,5.9 0 1,0 -11.8,0M825.6,1993.6a5.9,5.9 0 1,0 11.8,0a5.9,5.9 0 1,0 -11.8,0M851.2,1994.7a5.9,5.9 0 1,0 11.8,0a5.9,5.9 0 1,0 -11.8,0M847.0,1998.9a5.9,5.9 0 1,0 11.8,0a5.9,5.9 0 1,0 -11.8,0M831.0,1999.7a5.9,5.9 0 1,0 11.8,0a5.9,5.9 0 1,0 -11.8,0M861.8,2002.1a5.9,5.9 0 1,0 11.8,0a5.9,5.9 0 1,0 -11.8,0M845.0,2004.8a5.9,5.9 0 1,0 11.8,0a5.9,5.9 0 1,0 -11.8,0M833.3,2007.1a5.9,5.9 0 1,0 11.8,0a5.9,5.9 0 1,0 -11.8,0M860.7,2008.5a5.9,5.9 0 1,0 11.8,0a5.9,5.9 0 1,0 -11.8,0M841.9,2010.8a5.9,5.9 0 1,0 11.8,0a5.9,5.9 0 1,0 -11.8,0M845.3,2012.3a5.9,5.9 0 1,0 11.8,0a5.9,5.9 0 1,0 -11.8,0M824.7,2015.8a5.9,5.9 0 1,0 11.8,0a5.9,5.9 0 1,0 -11.8,0M851.5,2017.6a5.9,5.9 0 1,0 11.8,0a5.9,5.9 0 1,0 -11.8,0M849.5,2020.0a5.9,5.9 0 1,0 11.8,0a5.9,5.9 0 1,0 -11.8,0M844.0,2021.9a5.9,5.9 0 1,0 11.8,0a5.9,5.9 0 1,0 -11.8,0M841.7,2023.5a5.9,5.9 0 1,0 11.8,0a5.9,5.9 0 1,0 -11.8,0M852.8,2024.6a5.9,5.9 0 1,0 11.8,0a5.9,5.9 0 1,0 -11.8,0M836.0,2027.8a5.9,5.9 0 1,0 11.8,0a5.9,5.9 0 1,0 -11.8,0M843.1,2029.8a5.9,5.9 0 1,0 11.8,0a5.9,5.9 0 1,0 -11.8,0M839.7,2031.6a5.9,5.9 0 1,0 11.8,0a5.9,5.9 0 1,0 -11.8,0M846.6,2034.1a5.9,5.9 0 1,0 11.8,0a5.9,5.9 0 1,0 -11.8,0M842.5,2036.4a5.9,5.9 0 1,0 11.8,0a5.9,5.9 0 1,0 -11.8,0M836.7,2037.3a5.9,5.9 0 1,0 11.8,0a5.9,5.9 0 1,0 -11.8,0M845.6,2039.7a5.9,5.9 0 1,0 11.8,0a5.9,5.9 0 1,0 -11.8,0M851.0,2043.3a5.9,5.9 0 1,0 11.8,0a5.9,5.9 0 1,0 -11.8,0M851.4,2045.3a5.9,5.9 0 1,0 11.8,0a5.9,5.9 0 1,0 -11.8,0M852.0,2046.3a5.9,5.9 0 1,0 11.8,0a5.9,5.9 0 1,0 -11.8,0M833.1,2049.3a5.9,5.9 0 1,0 11.8,0a5.9,5.9 0 1,0 -11.8,0" fill="#1190bd"/>
<path d="M913.3,1695.4a5.9,5.9 0 1,0 11.8,0a5.9,5.9 0 1,0 -11.8,0M913.3,1752.2a5.9,5.9 0 1,0 11.8,0a5.9,5.9 0 1,0 -11.8,0M913.3,1773.2a5.9,5.9 0 1,0 11.8,0a5.9,5.9 0 1,0 -11.8,0M913.3,1795.2a5.9,5.9 0 1,0 11.8,0a5.9,5.9 0 1,0 -11.8,0M918.1,1799.0a5.9,5.9 0 1,0 11.8,0a5.9,5.9 0 1,0 -11.8,0M909.5,1809.5a5.9,5.9 0 1,0 11.8,0a5.9,5.9 0 1,0 -11.8,0M913.3,1843.9a5.9,5.9 0 1,0 11.8,0a5.9,5.9 0 1,0 -11.8,0M913.3,1856.4a5.9,5.9 0 1,0 11.8,0a5.9,5.9 0 1,0 -11.8,0M912.4,1865.9a5.9,5.9 0 1,0 11.8,0a5.9,5.9 0 1,0 -11.8,0M913.3,1888.9a5.9,5.9 0 1,0 11.8,0a5.9,5.9 0 1,0 -11.8,0M916.2,1892.7a5.9,5.9 0 1,0 11.8,0a5.9,5.9 0 1,0 -11.8,0M906.6,1911.8a5.9,5.9 0 1,0 11.8,0a5.9,5.9 0 1,0 -11.8,0M921.8,1914.2a5.9,5.9 0 1,0 11.8,0a5.9,5.9 0 1,0 -11.8,0M903.7,1914.5a5.9,5.9 0 1,0 11.8,0a5.9,5.9 0 1,0 -11.8,0M917.4,1918.6a5.9,5.9 0 1,0 11.8,0a5.9,5.9 0 1,0 -11.8,0M908.4,1920.6a5.9,5.9 0 1,0 11.8,0a5.9,5.9 0 1,0 -11.8,0M914.6,1922.7a5.9,5.9 0 1,0 11.8,0a5.9,5.9 0 1,0 -11.8,0M905.2,1925.0a5.9,5.9 0 1,0 11.8,0a5.9,5.9 0 1,0 -11.8,0M910.2,1927.0a5.9,5.9 0 1,0 11.8,0a5.9,5.9 0 1,0 -11.8,0M922.8,1930.0a5.9,5.9 0 1,0 11.8,0a5.9,5.9 0 1,0 -11.8,0M913.3,1932.9a5.9,5.9 0 1,0 11.8,0a5.9,5.9 0 1,0 -11.8,0M907.5,1934.0a5.9,5.9 0 1,0 11.8,0a5.9,5.9 0 1,0 -11.8,0M902.5,1935.4a5.9,5.9 0 1,0 11.8,0a5.9,5.9 0 1,0 -11.8,0M908.6,1938.8a5.9,5.9 0 1,0 11.8,0a5.9,5.9 0 1,0 -11.8,0M920.6,1940.9a5.9,5.9 0 1,0 11.8,0a5.9,5.9 0 1,0 -11.8,0M913.7,1943.6a5.9,5.9 0 1,0 11.8,0a5.9,5.9 0 1,0 -11.8,0M902.4,1945.2a5.9,5.9 0 1,0 11.8,0a5.9,5.9 0 1,0 -11.8,0M904.8,1947.8a5.9,5.9 0 1,0 11.8,0a5.9,5.9 0 1,0 -11.8,0M922.9,1950.5a5.9,5.9 0 1,0 11.8,0a5.9,5.9 0 1,0 -11.8,0M905.7,1953.2a5.9,5.9 0 1,0 11.8,0a5.9,5.9 0 1,0 -11.8,0M918.6,1956.1a5.9,5.9 0 1,0 11.8,0a5.9,5.9 0 1,0 -11.8,0M920.9,1958.0a5.9,5.9 0 1,0 11.8,0a5.9,5.9 0 1,0 -11.8,0M918.5,1960.4a5.9,5.9 0 1,0 11.8,0a5.9,5.9 0 1,0 -11.8,0M922.5,1961.8a5.9,5.9 0 1,0 11.8,0a5.9,5.9 0 1,0 -11.8,0M905.3,1965.6a5.9,5.9 0 1,0 11.8,0a5.9,5.9 0 1,0 -11.8,0M916.9,1967.4a5.9,5.9 0 1,0 11.8,0a5.9,5.9 0 1,0 -11.8,0M913.0,1969.1a5.9,5.9 0 1,0 11.8,0a5.9,5.9 0 1,0 -11.8,0M921.3,1971.5a5.9,5.9 0 1,0 11.8,0a5.9,5.9 0 1,0 -11.8,0M919.4,1973.8a5.9,5.9 0 1,0 11.8,0a5.9,5.9 0 1,0 -11.8,0M920.4,1975.8a5.9,5.9 0 1,0 11.8,0a5.9,5.9 0 1,0 -11.8,0M911.6,1979.4a5.9,5.9 0 1,0 11.8,0a5.9,5.9 0 1,0 -11.8,0M921.2,1981.0a5.9,5.9 0 1,0 11.8,0a5.9,5.9 0 1,0 -11.8,0M912.1,1983.7a5.9,5.9 0 1,0 11.8,0a5.9,5.9 0 1,0 -11.8,0M908.7,1984.9a5.9,5.9 0 1,0 11.8,0a5.9,5.9 0 1,0 -11.8,0M905.4,1988.3a5.9,5.9 0 1,0 11.8,0a5.9,5.9 0 1,0 -11.8,0M907.5,1991.1a5.9,5.9 0 1,0 11.8,0a5.9,5.9 0 1,0 -11.8,0M908.4,1993.5a5.9,5.9 0 1,0 11.8,0a5.9,5.9 0 1,0 -11.8,0M916.7,1995.9a5.9,5.9 0 1,0 11.8,0a5.9,5.9 0 1,0 -11.8,0M912.8,1997.2a5.9,5.9 0 1,0 11.8,0a5.9,5.9 0 1,0 -11.8,0M914.2,1999.9a5.9,5.9 0 1,0 11.8,0a5.9,5.9 0 1,0 -11.8,0M906.3,2001.4a5.9,5.9 0 1,0 11.8,0a5.9,5.9 0 1,0 -11.8,0M929.8,2004.2a5.9,5.9 0 1,0 11.8,0a5.9,5.9 0 1,0 -11.8,0M895.4,2006.8a5.9,5.9 0 1,0 11.8,0a5.9,5.9 0 1,0 -11.8,0M921.4,2009.6a5.9,5.9 0 1,0 11.8,0a5.9,5.9 0 1,0 -11.8,0M900.1,2012.1a5.9,5.9 0 1,0 11.8,0a5.9,5.9 0 1,0 -11.8,0M894.8,2014.1a5.9,5.9 0 1,0 11.8,0a5.9,5.9 0 1,0 -11.8,0M907.6,2016.2a5.9,5.9 0 1,0 11.8,0a5.9,5.9 0 1,0 -11.8,0M920.3,2017.5a5.9,5.9 0 1,0 11.8,0a5.9,5.9 0 1,0 -11.8,0M912.9,2019.6a5.9,5.9 0 1,0 11.8,0a5.9,5.9 0 1,0 -11.8,0M907.0,2023.7a5.9,5.9 0 1,0 11.8,0a5.9,5.9 0 1,0 -11.8,0M920.4,2024.5a5.9,5.9 0 1,0 11.8,0a5.9,5.9 0 1,0 -11.8,0M917.0,2027.3a5.9,5.9 0 1,0 11.8,0a5.9,5.9 0 1,0 -11.8,0M909.5,2028.7a5.9,5.9 0 1,0 11.8,0a5.9,5.9 0 1,0 -11.8,0M916.0,2031.4a5.9,5.9 0 1,0 11.8,0a5.9,5.9 0 1,0 -11.8,0M921.9,2033.5a5.9,5.9 0 1,0 11.8,0a5.9,5.9 0 1,0 -11.8,0M917.2,2035.7a5.9,5.9 0 1,0 11.8,0a5.9,5.9 0 1,0 -11.8,0M907.3,2038.0a5.9,5.9 0 1,0 11.8,0a5.9,5.9 0 1,0 -11.8,0M905.2,2042.2a5.9,5.9 0 1,0 11.8,0a5.9,5.9 0 1,0 -11.8,0M916.4,2043.1a5.9,5.9 0 1,0 11.8,0a5.9,5.9 0 1,0 -11.8,0M902.8,2045.9a5.9,5.9 0 1,0 11.8,0a5.9,5.9 0 1,0 -11.8,0M905.1,2049.6a5.9,5.9 0 1,0 11.8,0a5.9,5.9 0 1,0 -11.8,0M909.1,2049.8a5.9,5.9 0 1,0 11.8,0a5.9,5.9 0 1,0 -11.8,0" fill="#1190bd"/>
<path d="M1027.9,1692.5h12.2v12.2h-12.2zM1027.9,1699.2h12.2v12.2h-12.2zM1026.4,1717.4h12.2v12.2h-12.2zM1030.2,1726.9h12.2v12.2h-12.2zM1027.9,1768.0h12.2v12.2h-12.2zM1027.9,1802.1h12.2v12.2h-12.2zM1029.3,1821.6h12.2v12.2h-12.2zM1031.2,1832.1h12.2v12.2h-12.2zM1024.5,1839.8h12.2v12.2h-12.2zM1027.9,1857.0h12.2v12.2h-12.2zM1027.9,1878.6h12.2v12.2h-12.2zM1027.9,1894.3h12.2v12.2h-12.2zM1027.9,1909.6h12.2v12.2h-12.2zM1029.2,1914.4h12.2v12.2h-12.2zM1031.0,1916.8h12.2v12.2h-12.2zM1014.9,1919.4h12.2v12.2h-12.2zM1038.0,1920.2h12.2v12.2h-12.2zM1019.9,1922.8h12.2v12.2h-12.2zM1027.0,1926.4h12.2v12.2h-12.2zM1027.2,1928.2h12.2v12.2h-12.2zM1017.4,1929.9h12.2v12.2h-12.2zM1038.9,1932.0h12.2v12.2h-12.2zM1035.1,1933.8h12.2v12.2h-12.2zM1014.8,1936.2h12.2v12.2h-12.2zM1030.6,1938.5h12.2v12.2h-12.2zM1013.8,1939.6h12.2v12.2h-12.2zM1027.1,1942.9h12.2v12.2h-12.2zM1039.3,1944.7h12.2v12.2h-12.2zM1040.5,1946.8h12.2v12.2h-12.2zM1036.9,1948.2h12.2v12.2h-12.2zM1041.0,1950.4h12.2v12.2h-12.2zM1015.8,1953.4h12.2v12.2h-12.2zM1019.4,1953.9h12.2v12.2h-12.2zM1026.0,1957.7h12.2v12.2h-12.2zM1021.9,1959.1h12.2v12.2h-12.2zM1024.5,1961.0h12.2v12.2h-12.2zM1030.5,1962.7h12.2v12.2h-12.2zM1040.0,1965.3h12.2v12.2h-12.2zM1040.8,1967.6h12.2v12.2h-12.2zM1042.6,1970.1h12.2v12.2h-12.2zM1017.8,1971.8h12.2v12.2h-12.2zM1041.8,1974.2h12.2v12.2h-12.2zM1030.0,1976.4h12.2v12.2h-12.2zM1019.2,1978.1h12.2v12.2h-12.2zM1030.1,1980.5h12.2v12.2h-12.2zM1014.8,1981.4h12.2v12.2h-12.2zM1042.6,1984.7h12.2v12.2h-12.2zM1036.9,1985.2h12.2v12.2h-12.2zM1017.4,1987.9h12.2v12.2h-12.2zM1036.0,1989.8h12.2v12.2h-12.2zM1011.5,1993.1h12.2v12.2h-12.2zM1011.5,1994.6h12.2v12.2h-12.2zM1021.8,1996.9h12.2v12.2h-12.2zM1045.2,1999.4h12.2v12.2h-12.2zM1045.8,2000.7h12.2v12.2h-12.2zM1012.7,2002.4h12.2v12.2h-12.2zM1011.0,2005.1h12.2v12.2h-12.2zM1024.6,2006.3h12.2v12.2h-12.2zM1015.5,2009.3h12.2v12.2h-12.2zM1041.1,2010.2h12.2v12.2h-12.2zM1044.4,2012.8h12.2v12.2h-12.2zM1023.5,2016.1h12.2v12.2h-12.2zM1028.6,2017.3h12.2v12.2h-12.2zM1030.8,2019.8h12.2v12.2h-12.2zM1031.5,2021.7h12.2v12.2h-12.2zM1028.1,2024.6h12.2v12.2h-12.2zM1034.5,2025.6h12.2v12.2h-12.2zM1021.9,2027.3h12.2v12.2h-12.2zM1028.5,2030.9h12.2v12.2h-12.2zM1013.2,2032.1h12.2v12.2h-12.2zM1030.3,2033.9h12.2v12.2h-12.2zM1031.4,2035.2h12.2v12.2h-12.2zM1014.7,2038.6h12.2v12.2h-12.2zM1026.9,2040.7h12.2v12.2h-12.2zM1023.5,2042.9h12.2v12.2h-12.2zM1035.0,2045.0h12.2v12.2h-12.2zM1014.7,2045.7h12.2v12.2h-12.2zM1041.8,2049.1h12.2v12.2h-12.2zM1026.6,2050.3h12.2v12.2h-12.2z" fill="#f0b000"/>
<path d="M1095.3,1726.9h12.2v12.2h-12.2zM1099.1,1736.5h12.2v12.2h-12.2zM1093.3,1750.8h12.2v12.2h-12.2zM1102.9,1752.7h12.2v12.2h-12.2zM1097.2,1778.6h12.2v12.2h-12.2zM1097.2,1802.5h12.2v12.2h-12.2zM1097.2,1810.1h12.2v12.2h-12.2zM1097.2,1832.1h12.2v12.2h-12.2zM1097.2,1846.5h12.2v12.2h-12.2zM1097.2,1856.0h12.2v12.2h-12.2zM1097.2,1870.4h12.2v12.2h-12.2zM1087.6,1879.0h12.2v12.2h-12.2zM1106.7,1878.6h12.2v12.2h-12.2zM1097.2,1896.2h12.2v12.2h-12.2zM1085.3,1904.4h12.2v12.2h-12.2zM1086.8,1907.0h12.2v12.2h-12.2zM1094.2,1908.5h12.2v12.2h-12.2zM1106.2,1912.7h12.2v12.2h-12.2zM1088.9,1914.6h12.2v12.2h-12.2zM1090.5,1916.3h12.2v12.2h-12.2zM1085.4,1917.7h12.2v12.2h-12.2zM1110.0,1920.1h12.2v12.2h-12.2zM1106.4,1923.7h12.2v12.2h-12.2zM1088.0,1925.9h12.2v12.2h-12.2zM1101.0,1927.0h12.2v12.2h-12.2zM1107.8,1930.2h12.2v12.2h-12.2zM1084.8,1932.8h12.2v12.2h-12.2zM1102.4,1934.4h12.2v12.2h-12.2zM1087.5,1936.4h12.2v12.2h-12.2zM1084.9,1938.6h12.2v12.2h-12.2zM1108.2,1941.9h12.2v12.2h-12.2zM1091.2,1943.2h12.2v12.2h-12.2zM1099.4,1946.3h12.2v12.2h-12.2zM1107.6,1948.5h12.2v12.2h-12.2zM1094.6,1949.9h12.2v12.2h-12.2zM1095.1,1952.3h12.2v12.2h-12.2zM1091.4,1953.6h12.2v12.2h-12.2zM1083.5,1957.3h12.2v12.2h-12.2zM1101.0,1957.8h12.2v12.2h-12.2zM1098.2,1960.6h12.2v12.2h-12.2zM1092.5,1963.3h12.2v12.2h-12.2zM1088.1,1966.7h12.2v12.2h-12.2zM1088.3,1967.6h12.2v12.2h-12.2zM1090.5,1970.3h12.2v12.2h-12.2zM1104.6,1972.0h12.2v12.2h-12.2zM1099.0,1974.1h12.2v12.2h-12.2zM1085.2,1977.7h12.2v12.2h-12.2zM1089.1,1978.0h12.2v12.2h-12.2zM1100.7,1981.9h12.2v12.2h-12.2zM1091.1,1982.9h12.2v12.2h-12.2zM1095.7,1985.0h12.2v12.2h-12.2zM1104.3,1987.0h12.2v12.2h-12.2zM1113.6,1991.1h12.2v12.2h-12.2zM1113.8,1993.0h12.2v12.2h-12.2zM1089.6,1993.6h12.2v12.2h-12.2zM1107.1,1998.0h12.2v12.2h-12.2zM1113.2,1999.0h12.2v12.2h-12.2zM1108.6,2001.7h12.2v12.2h-12.2zM1086.1,2003.2h12.2v12.2h-12.2zM1086.3,2005.8h12.2v12.2h-12.2zM1111.1,2007.9h12.2v12.2h-12.2zM1082.5,2010.0h12.2v12.2h-12.2zM1087.3,2011.6h12.2v12.2h-12.2zM1093.1,2015.5h12.2v12.2h-12.2zM1085.1,2016.7h12.2v12.2h-12.2zM1094.9,2020.5h12.2v12.2h-12.2zM1084.0,2021.0h12.2v12.2h-12.2zM1087.3,2022.9h12.2v12.2h-12.2zM1086.7,2026.5h12.2v12.2h-12.2zM1096.9,2027.3h12.2v12.2h-12.2zM1112.1,2030.0h12.2v12.2h-12.2zM1098.1,2032.0h12.2v12.2h-12.2zM1094.5,2035.7h12.2v12.2h-12.2zM1096.5,2038.4h12.2v12.2h-12.2zM1094.5,2039.0h12.2v12.2h-12.2zM1094.8,2040.8h12.2v12.2h-12.2zM1108.9,2043.5h12.2v12.2h-12.2zM1097.2,2047.0h12.2v12.2h-12.2zM1089.8,2047.5h12.2v12.2h-12.2zM1088.4,2050.2h12.2v12.2h-12.2z" fill="#f0b000"/>
<path d="M1218.5,1719.5L1224.7,1731.9L1212.3,1731.9zM1218.5,1738.6L1224.7,1751.0L1212.3,1751.0zM1218.5,1783.6L1224.7,1796.0L1212.3,1796.0zM1218.5,1825.7L1224.7,1838.1L1212.3,1838.1zM1215.6,1846.7L1221.8,1859.1L1209.4,1859.1zM1222.3,1845.7L1228.5,1858.1L1216.1,1858.1zM1218.5,1863.9L1224.7,1876.3L1212.3,1876.3zM1215.6,1869.6L1221.8,1882.0L1209.4,1882.0zM1222.3,1866.8L1228.5,1879.2L1216.1,1879.2zM1220.4,1872.5L1226.6,1884.9L1214.2,1884.9zM1218.5,1884.0L1224.7,1896.4L1212.3,1896.4zM1218.5,1889.7L1224.7,1902.1L1212.3,1902.1zM1218.5,1897.4L1224.7,1909.8L1212.3,1909.8zM1218.5,1905.0L1224.7,1917.4L1212.3,1917.4zM1213.7,1915.5L1219.9,1927.9L1207.5,1927.9zM1223.2,1914.6L1229.4,1927.0L1217.0,1927.0zM1218.5,1924.1L1224.7,1936.5L1212.3,1936.5zM1211.8,1921.3L1218.0,1933.7L1205.6,1933.7zM1225.2,1921.3L1231.4,1933.7L1219.0,1933.7zM1218.5,1954.7L1224.7,1967.1L1212.3,1967.1zM1218.5,1966.2L1224.7,1978.6L1212.3,1978.6zM1211.8,1989.2L1218.0,2001.6L1205.6,2001.6zM1218.5,1985.3L1224.7,1997.7L1212.3,1997.7zM1225.2,1989.2L1231.4,2001.6L1219.0,2001.6zM1211.8,2013.1L1218.0,2025.5L1205.6,2025.5zM1218.5,2010.2L1224.7,2022.6L1212.3,2022.6zM1225.2,2008.3L1231.4,2020.7L1219.0,2020.7zM1220.4,2026.5L1226.6,2038.9L1214.2,2038.9zM1204.1,2037.0L1210.3,2049.4L1197.9,2049.4zM1211.8,2040.8L1218.0,2053.2L1205.6,2053.2zM1218.5,2042.7L1224.7,2055.1L1212.3,2055.1zM1226.1,2038.9L1232.3,2051.3L1219.9,2051.3zM1232.8,2040.8L1239.0,2053.2L1226.6,2053.2zM1200.3,2042.7L1206.5,2055.1L1194.1,2055.1zM1218.5,2050.4L1224.7,2062.8L1212.3,2062.8z" fill="#dd1f50"/>
<path d="M1287.7,1706.1L1293.9,1718.5L1281.5,1718.5zM1287.7,1724.3L1293.9,1736.7L1281.5,1736.7zM1287.7,1783.6L1293.9,1796.0L1281.5,1796.0zM1287.7,1797.9L1293.9,1810.3L1281.5,1810.3zM1282.5,1812.3L1288.7,1824.7L1276.3,1824.7zM1291.1,1815.1L1297.3,1827.5L1284.9,1827.5zM1284.4,1841.0L1290.6,1853.4L1278.2,1853.4zM1291.1,1836.2L1297.3,1848.6L1284.9,1848.6zM1291.1,1847.6L1297.3,1860.0L1284.9,1860.0zM1287.7,1861.0L1293.9,1873.4L1281.5,1873.4zM1278.7,1888.8L1284.9,1901.2L1272.5,1901.2zM1297.8,1888.8L1304.0,1901.2L1291.6,1901.2zM1287.7,1899.3L1293.9,1911.7L1281.5,1911.7zM1276.8,1915.5L1283.0,1927.9L1270.6,1927.9zM1297.8,1909.8L1304.0,1922.2L1291.6,1922.2zM1284.4,1923.2L1290.6,1935.6L1278.2,1935.6zM1287.7,1938.5L1293.9,1950.9L1281.5,1950.9zM1287.7,1957.6L1293.9,1970.0L1281.5,1970.0zM1279.7,1973.9L1285.9,1986.3L1273.5,1986.3zM1291.1,1970.0L1297.3,1982.4L1284.9,1982.4zM1297.8,1972.0L1304.0,1984.4L1291.6,1984.4zM1276.8,1992.0L1283.0,2004.4L1270.6,2004.4zM1284.4,1987.3L1290.6,1999.7L1278.2,1999.7zM1297.8,1985.3L1304.0,1997.7L1291.6,1997.7zM1291.1,1998.7L1297.3,2011.1L1284.9,2011.1zM1299.7,1998.7L1305.9,2011.1L1293.5,2011.1zM1276.8,2012.1L1283.0,2024.5L1270.6,2024.5zM1291.1,2014.0L1297.3,2026.4L1284.9,2026.4zM1270.1,2017.9L1276.3,2030.3L1263.9,2030.3zM1305.5,2015.9L1311.7,2028.3L1299.3,2028.3zM1284.4,2022.6L1290.6,2035.0L1278.2,2035.0zM1276.8,2027.4L1283.0,2039.8L1270.6,2039.8zM1291.1,2027.4L1297.3,2039.8L1284.9,2039.8zM1281.6,2033.2L1287.8,2045.6L1275.4,2045.6zM1270.1,2037.0L1276.3,2049.4L1263.9,2049.4zM1299.7,2037.0L1305.9,2049.4L1293.5,2049.4zM1284.4,2042.7L1290.6,2055.1L1278.2,2055.1zM1270.1,2052.3L1276.3,2064.7L1263.9,2064.7zM1284.4,2051.3L1290.6,2063.7L1278.2,2063.7zM1297.8,2053.2L1304.0,2065.6L1291.6,2065.6z" fill="#dd1f50"/>
<path d="M838.3,1900.4H860.5M838.3,1935.0H860.5M849.4,1900.4V1935.0" stroke="#1190bd" stroke-width="3.5" fill="none"/>
<path d="M907.0,1897.5H930.7M907.0,1932.0H930.7M918.3,1897.5V1932.0" stroke="#1190bd" stroke-width="3.5" fill="none"/>
<path d="M1023.0,1901.0H1045.0M1023.0,1937.0H1045.0M1034.0,1901.0V1937.0" stroke="#f0b000" stroke-width="3.5" fill="none"/>
<path d="M1092.0,1894.0H1115.0M1092.0,1931.0H1115.0M1103.3,1894.0V1931.0" stroke="#f0b000" stroke-width="3.5" fill="none"/>
<path d="M1207.6,1884.0H1229.4M1207.6,1932.0H1229.4M1218.5,1884.0V1932.0" stroke="#dd1f50" stroke-width="3.5" fill="none"/>
<path d="M1276.4,1885.4H1299.7M1276.4,1931.0H1299.7M1287.7,1885.4V1931.0" stroke="#dd1f50" stroke-width="3.5" fill="none"/>
<path d="M791.9,1692V2061M783,2061H1347" stroke="#231418" stroke-width="2.4" fill="none"/>
<text x="777.5" y="1787.5" font-size="31" fill="#231418" text-anchor="end">15</text>
<text x="777.5" y="1879.5" font-size="31" fill="#231418" text-anchor="end">10</text>
<text x="777.5" y="1971.4" font-size="31" fill="#231418" text-anchor="end">5</text>
<path d="M783.2,1692.8H791.9M783.2,1784.9H791.9M783.2,1876.9H791.9M783.2,1968.8H791.9M849.7,2061V2069M918,2061V2069M1033,2061V2069M1102,2061V2069M1218,2061V2069M1287.6,2061V2069" stroke="#231418" stroke-width="2.5" fill="none"/>
<text x="843.0" y="2102.0" font-size="32.5" fill="#231418" text-anchor="middle" font-style="italic">cont</text>
<text x="918.0" y="2102.0" font-size="32.5" fill="#231418" text-anchor="middle" font-style="italic">stim</text>
<text x="1033.5" y="2102.0" font-size="32.5" fill="#231418" text-anchor="middle" font-style="italic">cont</text>
<text x="1107.0" y="2102.0" font-size="32.5" fill="#231418" text-anchor="middle" font-style="italic">stim</text>
<text x="1222.0" y="2102.0" font-size="32.5" fill="#231418" text-anchor="middle" font-style="italic">cont</text>
<text x="1290.0" y="2102.0" font-size="32.5" fill="#231418" text-anchor="middle" font-style="italic">stim</text>
<text x="1747.5" y="1513.0" font-size="30" fill="#231418" text-anchor="middle" textLength="444.7" lengthAdjust="spacingAndGlyphs">Phasic nociceptive response</text>
<text x="1747.0" y="1546.8" font-size="30" fill="#231418" text-anchor="middle" textLength="167" lengthAdjust="spacingAndGlyphs">magnitude</text>
<rect x="1498.5" y="1828.3" width="117.9" height="232.2" fill="#dfecf6"/>
<path d="M1498.5,2059.6V1828.3H1616.3V2059.6" fill="none" stroke="#1190bd" stroke-width="4.5"/>
<rect x="1682.2" y="1850.5" width="117.9" height="210.0" fill="#fcf1e3"/>
<path d="M1682.2,2059.6V1850.5H1800.0V2059.6" fill="none" stroke="#f0b000" stroke-width="4.5"/>
<rect x="1866.3" y="1957.5" width="116.7" height="103.0" fill="#f6e3e7"/>
<path d="M1866.3,2059.6V1957.5H1983.0V2059.6" fill="none" stroke="#dd1f50" stroke-width="4.5"/>
<path d="M1542.2,1705.3a7.6,7.6 0 1,0 15.2,0a7.6,7.6 0 1,0 -15.2,0M1556.5,1702.4a7.6,7.6 0 1,0 15.2,0a7.6,7.6 0 1,0 -15.2,0M1563.2,1732.4a7.6,7.6 0 1,0 15.2,0a7.6,7.6 0 1,0 -15.2,0M1536.4,1735.5a7.6,7.6 0 1,0 15.2,0a7.6,7.6 0 1,0 -15.2,0M1549.8,1740.7a7.6,7.6 0 1,0 15.2,0a7.6,7.6 0 1,0 -15.2,0M1536.4,1751.6a7.6,7.6 0 1,0 15.2,0a7.6,7.6 0 1,0 -15.2,0M1536.4,1768.8a7.6,7.6 0 1,0 15.2,0a7.6,7.6 0 1,0 -15.2,0M1549.8,1764.6a7.6,7.6 0 1,0 15.2,0a7.6,7.6 0 1,0 -15.2,0M1563.2,1766.1a7.6,7.6 0 1,0 15.2,0a7.6,7.6 0 1,0 -15.2,0M1563.2,1787.5a7.6,7.6 0 1,0 15.2,0a7.6,7.6 0 1,0 -15.2,0M1549.8,1793.2a7.6,7.6 0 1,0 15.2,0a7.6,7.6 0 1,0 -15.2,0M1549.8,1820.0a7.6,7.6 0 1,0 15.2,0a7.6,7.6 0 1,0 -15.2,0M1549.8,1839.1a7.6,7.6 0 1,0 15.2,0a7.6,7.6 0 1,0 -15.2,0M1563.2,1843.9a7.6,7.6 0 1,0 15.2,0a7.6,7.6 0 1,0 -15.2,0M1576.6,1839.1a7.6,7.6 0 1,0 15.2,0a7.6,7.6 0 1,0 -15.2,0M1536.4,1851.5a7.6,7.6 0 1,0 15.2,0a7.6,7.6 0 1,0 -15.2,0M1549.8,1863.0a7.6,7.6 0 1,0 15.2,0a7.6,7.6 0 1,0 -15.2,0M1549.8,1886.9a7.6,7.6 0 1,0 15.2,0a7.6,7.6 0 1,0 -15.2,0M1563.2,1891.7a7.6,7.6 0 1,0 15.2,0a7.6,7.6 0 1,0 -15.2,0M1576.6,1888.8a7.6,7.6 0 1,0 15.2,0a7.6,7.6 0 1,0 -15.2,0M1536.4,1896.5a7.6,7.6 0 1,0 15.2,0a7.6,7.6 0 1,0 -15.2,0M1549.8,1903.2a7.6,7.6 0 1,0 15.2,0a7.6,7.6 0 1,0 -15.2,0M1563.2,1909.8a7.6,7.6 0 1,0 15.2,0a7.6,7.6 0 1,0 -15.2,0M1576.6,1904.1a7.6,7.6 0 1,0 15.2,0a7.6,7.6 0 1,0 -15.2,0M1522.5,1908.9a7.6,7.6 0 1,0 15.2,0a7.6,7.6 0 1,0 -15.2,0M1536.4,1925.1a7.6,7.6 0 1,0 15.2,0a7.6,7.6 0 1,0 -15.2,0M1590.0,1922.3a7.6,7.6 0 1,0 15.2,0a7.6,7.6 0 1,0 -15.2,0M1508.7,1931.8a7.6,7.6 0 1,0 15.2,0a7.6,7.6 0 1,0 -15.2,0M1522.5,1936.6a7.6,7.6 0 1,0 15.2,0a7.6,7.6 0 1,0 -15.2,0M1536.4,1938.5a7.6,7.6 0 1,0 15.2,0a7.6,7.6 0 1,0 -15.2,0M1549.8,1933.7a7.6,7.6 0 1,0 15.2,0a7.6,7.6 0 1,0 -15.2,0M1563.2,1936.6a7.6,7.6 0 1,0 15.2,0a7.6,7.6 0 1,0 -15.2,0M1576.6,1931.8a7.6,7.6 0 1,0 15.2,0a7.6,7.6 0 1,0 -15.2,0M1549.8,1950.9a7.6,7.6 0 1,0 15.2,0a7.6,7.6 0 1,0 -15.2,0M1576.6,1956.7a7.6,7.6 0 1,0 15.2,0a7.6,7.6 0 1,0 -15.2,0M1590.0,1971.0a7.6,7.6 0 1,0 15.2,0a7.6,7.6 0 1,0 -15.2,0M1522.5,1974.8a7.6,7.6 0 1,0 15.2,0a7.6,7.6 0 1,0 -15.2,0M1536.4,1975.8a7.6,7.6 0 1,0 15.2,0a7.6,7.6 0 1,0 -15.2,0M1549.8,1974.8a7.6,7.6 0 1,0 15.2,0a7.6,7.6 0 1,0 -15.2,0M1563.2,1972.0a7.6,7.6 0 1,0 15.2,0a7.6,7.6 0 1,0 -15.2,0M1563.2,1988.2a7.6,7.6 0 1,0 15.2,0a7.6,7.6 0 1,0 -15.2,0M1576.6,1981.5a7.6,7.6 0 1,0 15.2,0a7.6,7.6 0 1,0 -15.2,0M1536.4,1998.7a7.6,7.6 0 1,0 15.2,0a7.6,7.6 0 1,0 -15.2,0M1590.0,1998.7a7.6,7.6 0 1,0 15.2,0a7.6,7.6 0 1,0 -15.2,0M1604.3,1995.9a7.6,7.6 0 1,0 15.2,0a7.6,7.6 0 1,0 -15.2,0M1495.3,2014.0a7.6,7.6 0 1,0 15.2,0a7.6,7.6 0 1,0 -15.2,0M1508.7,2018.8a7.6,7.6 0 1,0 15.2,0a7.6,7.6 0 1,0 -15.2,0M1522.5,2011.2a7.6,7.6 0 1,0 15.2,0a7.6,7.6 0 1,0 -15.2,0M1536.4,2020.7a7.6,7.6 0 1,0 15.2,0a7.6,7.6 0 1,0 -15.2,0M1549.8,2027.4a7.6,7.6 0 1,0 15.2,0a7.6,7.6 0 1,0 -15.2,0M1563.2,2026.5a7.6,7.6 0 1,0 15.2,0a7.6,7.6 0 1,0 -15.2,0M1576.6,2017.9a7.6,7.6 0 1,0 15.2,0a7.6,7.6 0 1,0 -15.2,0M1590.0,2015.0a7.6,7.6 0 1,0 15.2,0a7.6,7.6 0 1,0 -15.2,0M1604.3,2015.0a7.6,7.6 0 1,0 15.2,0a7.6,7.6 0 1,0 -15.2,0M1522.5,2028.4a7.6,7.6 0 1,0 15.2,0a7.6,7.6 0 1,0 -15.2,0M1563.2,2006.4a7.6,7.6 0 1,0 15.2,0a7.6,7.6 0 1,0 -15.2,0M1576.6,2037.0a7.6,7.6 0 1,0 15.2,0a7.6,7.6 0 1,0 -15.2,0" fill="#1190bd"/>
<path d="M1733.2,1710.1h15.3v15.3h-15.3zM1725.2,1773.2h15.3v15.3h-15.3zM1740.5,1769.3h15.3v15.3h-15.3zM1725.2,1796.1h15.3v15.3h-15.3zM1694.8,1806.6h15.3v15.3h-15.3zM1709.9,1809.5h15.3v15.3h-15.3zM1740.5,1810.1h15.3v15.3h-15.3zM1771.7,1807.6h15.3v15.3h-15.3zM1694.8,1823.4h15.3v15.3h-15.3zM1709.9,1824.8h15.3v15.3h-15.3zM1725.2,1827.6h15.3v15.3h-15.3zM1740.5,1828.6h15.3v15.3h-15.3zM1756.4,1819.6h15.3v15.3h-15.3zM1771.7,1820.0h15.3v15.3h-15.3zM1694.8,1839.1h15.3v15.3h-15.3zM1709.9,1842.9h15.3v15.3h-15.3zM1725.2,1845.8h15.3v15.3h-15.3zM1740.5,1842.0h15.3v15.3h-15.3zM1756.4,1838.2h15.3v15.3h-15.3zM1771.7,1837.2h15.3v15.3h-15.3zM1787.0,1839.1h15.3v15.3h-15.3zM1679.9,1842.9h15.3v15.3h-15.3zM1709.9,1857.3h15.3v15.3h-15.3zM1725.2,1853.4h15.3v15.3h-15.3zM1740.5,1854.4h15.3v15.3h-15.3zM1756.4,1861.1h15.3v15.3h-15.3zM1725.2,1878.3h15.3v15.3h-15.3zM1740.5,1875.4h15.3v15.3h-15.3zM1756.4,1886.9h15.3v15.3h-15.3zM1725.2,1895.5h15.3v15.3h-15.3zM1709.9,1928.0h15.3v15.3h-15.3zM1725.2,1927.0h15.3v15.3h-15.3zM1756.4,1924.2h15.3v15.3h-15.3zM1771.7,1920.4h15.3v15.3h-15.3zM1679.9,1934.7h15.3v15.3h-15.3zM1694.8,1939.5h15.3v15.3h-15.3zM1709.9,1945.2h15.3v15.3h-15.3zM1725.2,1941.4h15.3v15.3h-15.3zM1740.5,1942.3h15.3v15.3h-15.3zM1756.4,1948.1h15.3v15.3h-15.3zM1771.7,1939.5h15.3v15.3h-15.3zM1787.0,1941.4h15.3v15.3h-15.3zM1725.2,1960.5h15.3v15.3h-15.3zM1740.5,1959.5h15.3v15.3h-15.3zM1709.9,1975.8h15.3v15.3h-15.3zM1756.4,1972.9h15.3v15.3h-15.3zM1771.7,1970.1h15.3v15.3h-15.3zM1694.8,1987.3h15.3v15.3h-15.3zM1725.2,1986.3h15.3v15.3h-15.3zM1709.9,1994.0h15.3v15.3h-15.3zM1740.5,1997.8h15.3v15.3h-15.3zM1756.4,1995.9h15.3v15.3h-15.3zM1771.7,1988.2h15.3v15.3h-15.3zM1787.0,1987.3h15.3v15.3h-15.3zM1679.9,2011.2h15.3v15.3h-15.3zM1694.8,2007.3h15.3v15.3h-15.3zM1709.9,2014.0h15.3v15.3h-15.3zM1725.2,2016.9h15.3v15.3h-15.3zM1740.5,2015.9h15.3v15.3h-15.3zM1756.4,2014.0h15.3v15.3h-15.3zM1771.7,2014.0h15.3v15.3h-15.3zM1694.8,2032.2h15.3v15.3h-15.3zM1756.4,2033.1h15.3v15.3h-15.3z" fill="#f0b000"/>
<path d="M1924.7,1753.3L1932.2,1768.3L1917.2,1768.3zM1918.9,1785.7L1926.4,1800.7L1911.4,1800.7zM1931.3,1781.5L1938.8,1796.5L1923.8,1796.5zM1918.9,1813.1L1926.4,1828.1L1911.4,1828.1zM1931.3,1810.6L1938.8,1825.6L1923.8,1825.6zM1924.7,1850.4L1932.2,1865.4L1917.2,1865.4zM1924.7,1870.3L1932.2,1885.3L1917.2,1885.3zM1918.9,1891.1L1926.4,1906.1L1911.4,1906.1zM1931.3,1894.4L1938.8,1909.4L1923.8,1909.4zM1894.8,1916.0L1902.3,1931.0L1887.3,1931.0zM1906.4,1916.0L1913.9,1931.0L1898.9,1931.0zM1918.9,1908.5L1926.4,1923.5L1911.4,1923.5zM1931.3,1920.1L1938.8,1935.1L1923.8,1935.1zM1942.9,1912.7L1950.4,1927.7L1935.4,1927.7zM1954.6,1914.3L1962.1,1929.3L1947.1,1929.3zM1894.8,1932.6L1902.3,1947.6L1887.3,1947.6zM1906.4,1939.2L1913.9,1954.2L1898.9,1954.2zM1918.9,1938.4L1926.4,1953.4L1911.4,1953.4zM1931.3,1939.2L1938.8,1954.2L1923.8,1954.2zM1942.9,1938.4L1950.4,1953.4L1935.4,1953.4zM1954.6,1938.4L1962.1,1953.4L1947.1,1953.4zM1967.0,1931.8L1974.5,1946.8L1959.5,1946.8zM1918.9,1954.2L1926.4,1969.2L1911.4,1969.2zM1906.4,1967.4L1913.9,1982.4L1898.9,1982.4zM1931.3,1966.6L1938.8,1981.6L1923.8,1981.6zM1954.6,1965.8L1962.1,1980.8L1947.1,1980.8zM1883.2,1974.9L1890.7,1989.9L1875.7,1989.9zM1894.8,1975.7L1902.3,1990.7L1887.3,1990.7zM1918.9,1980.7L1926.4,1995.7L1911.4,1995.7zM1931.3,1980.7L1938.8,1995.7L1923.8,1995.7zM1942.9,1978.2L1950.4,1993.2L1935.4,1993.2zM1967.0,1976.6L1974.5,1991.6L1959.5,1991.6zM1869.9,1999.0L1877.4,2014.0L1862.4,2014.0zM1883.2,2008.9L1890.7,2023.9L1875.7,2023.9zM1894.8,2007.3L1902.3,2022.3L1887.3,2022.3zM1906.4,2002.3L1913.9,2017.3L1898.9,2017.3zM1918.9,2000.6L1926.4,2015.6L1911.4,2015.6zM1931.3,1999.8L1938.8,2014.8L1923.8,2014.8zM1942.9,2007.3L1950.4,2022.3L1935.4,2022.3zM1954.6,2003.9L1962.1,2018.9L1947.1,2018.9zM1967.0,1995.7L1974.5,2010.7L1959.5,2010.7zM1979.5,2007.3L1987.0,2022.3L1972.0,2022.3zM1894.8,2020.5L1902.3,2035.5L1887.3,2035.5zM1918.9,2024.7L1926.4,2039.7L1911.4,2039.7zM1931.3,2017.2L1938.8,2032.2L1923.8,2032.2zM1942.9,2026.4L1950.4,2041.4L1935.4,2041.4zM1954.6,2021.4L1962.1,2036.4L1947.1,2036.4zM1906.4,2038.8L1913.9,2053.8L1898.9,2053.8zM1931.3,2034.7L1938.8,2049.7L1923.8,2049.7z" fill="#dd1f50"/>
<path d="M1526.5,1796.1H1587.4M1526.5,1857.8H1587.4M1557.0,1796.1V1857.8" stroke="#1190bd" stroke-width="4.5" fill="none"/>
<path d="M1712.0,1835.0H1768.0M1712.0,1862.0H1768.0M1740.3,1835.0V1862.0" stroke="#f0b000" stroke-width="4.5" fill="none"/>
<path d="M1894.0,1945.5H1955.4M1894.0,1965.4H1955.4M1924.7,1945.5V1965.4" stroke="#dd1f50" stroke-width="4.5" fill="none"/>
<path d="M1466.8,1693V2060.6M1454,2060.6H2018" stroke="#231418" stroke-width="3.3" fill="none"/>
<text x="1451.0" y="1755.8" font-size="31" fill="#231418" text-anchor="end">25</text>
<text x="1451.0" y="1820.1" font-size="31" fill="#231418" text-anchor="end">20</text>
<text x="1451.0" y="1877.4" font-size="31" fill="#231418" text-anchor="end">15</text>
<text x="1451.0" y="1942.5" font-size="31" fill="#231418" text-anchor="end">10</text>
<text x="1451.0" y="2000.8" font-size="31" fill="#231418" text-anchor="end">5</text>
<path d="M1455,1694.5H1466.8M1455,1753H1466.8M1455,1817.3H1466.8M1455,1874.6H1466.8M1455,1939.7H1466.8M1455,1998H1466.8M1556.6,2060.6V2073.6M1740.3,2060.6V2073.6M1924.4,2060.6V2073.6" stroke="#231418" stroke-width="3.2" fill="none"/>
<path d="M1557,1624.6H1928.2M1744.8,1695H1924.4" stroke="#231418" stroke-width="2.8" fill="none"/>
<text x="1744.5" y="1624.0" font-size="56" fill="#231418" text-anchor="middle" font-weight="bold">*</text>
<text x="1843.2" y="1696.5" font-size="56" fill="#231418" text-anchor="middle" font-weight="bold">*</text>
<circle cx="649.4" cy="2189" r="11.8" fill="#1190bd"/>
<text x="671.0" y="2201.0" font-size="39.8" fill="#231418">Sham</text>
<rect x="808.3" y="2175.7" width="25.5" height="25.3" fill="#f0b000"/>
<text x="844.5" y="2201.0" font-size="39.8" fill="#231418">Partial DA lesion</text>
<path d="M1178.2,2178.6L1189,2202L1167.5,2202Z" fill="#dd1f50"/>
<text x="1197.0" y="2201.0" font-size="39.8" fill="#231418">Total DA lesion</text>
</svg></body></html>
